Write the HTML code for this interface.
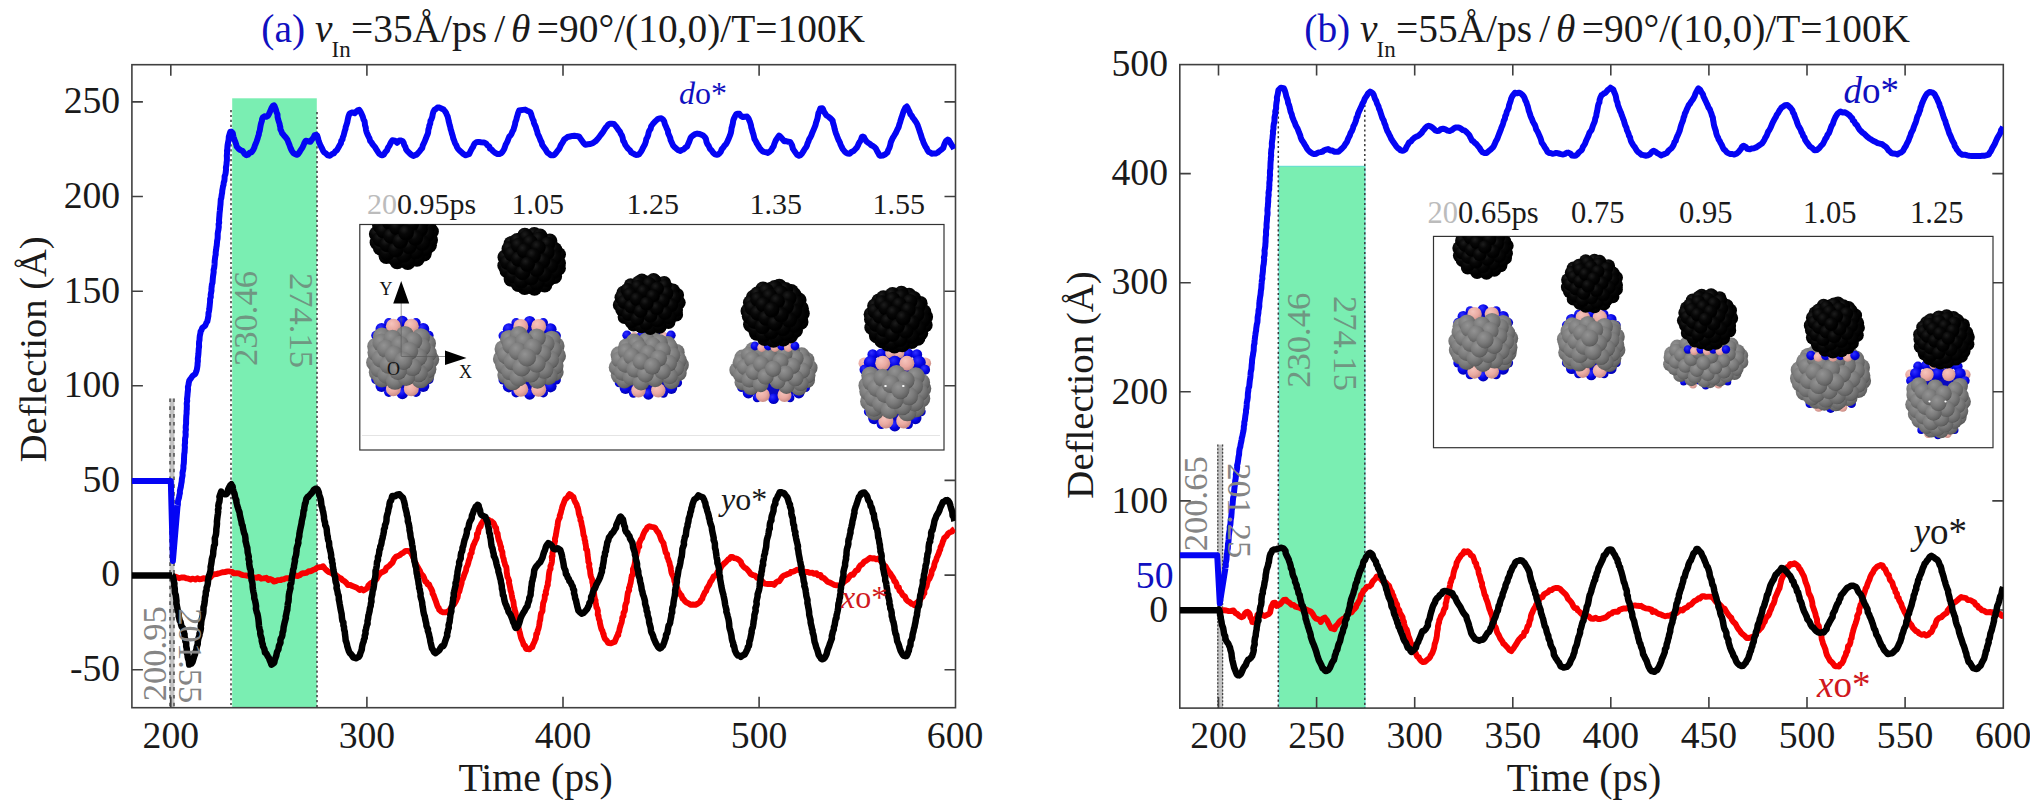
<!DOCTYPE html>
<html><head><meta charset="utf-8"><title>Deflection vs time</title>
<style>html,body{margin:0;padding:0;background:#fff}body{width:2030px;height:809px;overflow:hidden}</style></head>
<body>
<svg width="2030" height="809" viewBox="0 0 2030 809" style="display:block;font-family:'Liberation Serif','Times New Roman',serif">
<defs>
<radialGradient id="gk" cx="0.36" cy="0.3" r="0.6"><stop offset="0" stop-color="#1d1d1d"/><stop offset="0.5" stop-color="#070707"/><stop offset="1" stop-color="#000"/></radialGradient>
<radialGradient id="gg" cx="0.38" cy="0.32" r="0.75"><stop offset="0" stop-color="#939393"/><stop offset="0.5" stop-color="#7b7b7b"/><stop offset="0.85" stop-color="#626262"/><stop offset="1" stop-color="#484848"/></radialGradient>
<radialGradient id="gb" cx="0.38" cy="0.32" r="0.75"><stop offset="0" stop-color="#3030ff"/><stop offset="0.55" stop-color="#0404e6"/><stop offset="1" stop-color="#0000a8"/></radialGradient>
<radialGradient id="gp" cx="0.38" cy="0.32" r="0.75"><stop offset="0" stop-color="#f6c4bc"/><stop offset="0.55" stop-color="#eaaaa2"/><stop offset="1" stop-color="#c2867e"/></radialGradient>
<clipPath id="pL"><rect x="131.9" y="64.7" width="823.6" height="643"/></clipPath><clipPath id="pR"><rect x="1179.8" y="64.6" width="823.5" height="643.5"/></clipPath>
<clipPath id="cL"><rect x="360" y="224.5" width="584" height="225.5"/></clipPath>
<clipPath id="cR"><rect x="1433.5" y="236.5" width="559.5" height="211"/></clipPath>
</defs>
<rect width="2030" height="809" fill="#fff"/>
<rect x="232.2" y="98.3" width="84.6" height="609.4" fill="#7aeeb2"/>
<line x1="231.0" y1="110.0" x2="231.0" y2="707.7" stroke="#3a3a3a" stroke-width="1.5" stroke-dasharray="2.2 2.7"/>
<line x1="317.0" y1="112.0" x2="317.0" y2="707.7" stroke="#3a3a3a" stroke-width="1.5" stroke-dasharray="2.2 2.7"/>
<rect x="169.6" y="398.5" width="4.8" height="309.2" fill="#c2c2c2"/>
<line x1="170.0" y1="398.5" x2="170.0" y2="707.7" stroke="#444" stroke-width="1.4" stroke-dasharray="3.6 4.2"/>
<line x1="174.0" y1="398.5" x2="174.0" y2="707.7" stroke="#444" stroke-width="1.4" stroke-dasharray="3.6 4.2"/>
<text transform="translate(257.2 366.0) rotate(-90)" font-size="34.6" fill="#6f9782" text-anchor="start">230.46</text>
<text transform="translate(289.8 273.0) rotate(90)" font-size="34.6" fill="#6f9782" text-anchor="start">274.15</text>
<text transform="translate(166.4 701.3) rotate(-90)" font-size="34.6" fill="#858585" text-anchor="start">200.95</text>
<rect x="131.9" y="64.7" width="823.6" height="643.0" fill="none" stroke="#404040" stroke-width="1.6"/>
<path d="M170.8 64.7v11 M170.8 707.7v-11" stroke="#404040" stroke-width="1.6"/>
<text x="170.8" y="748.4" font-size="37.7" fill="#1a1a1a" text-anchor="middle">200</text>
<path d="M366.9 64.7v11 M366.9 707.7v-11" stroke="#404040" stroke-width="1.6"/>
<text x="366.9" y="748.4" font-size="37.7" fill="#1a1a1a" text-anchor="middle">300</text>
<path d="M563.0 64.7v11 M563.0 707.7v-11" stroke="#404040" stroke-width="1.6"/>
<text x="563.0" y="748.4" font-size="37.7" fill="#1a1a1a" text-anchor="middle">400</text>
<path d="M759.1 64.7v11 M759.1 707.7v-11" stroke="#404040" stroke-width="1.6"/>
<text x="759.1" y="748.4" font-size="37.7" fill="#1a1a1a" text-anchor="middle">500</text>
<text x="955.1" y="748.4" font-size="37.7" fill="#1a1a1a" text-anchor="middle">600</text>
<path d="M131.9 669.7h11 M955.5 669.7h-11" stroke="#404040" stroke-width="1.6"/>
<text x="120.2" y="681.0" font-size="37.7" fill="#1a1a1a" text-anchor="end">-50</text>
<path d="M131.9 575.1h11 M955.5 575.1h-11" stroke="#404040" stroke-width="1.6"/>
<text x="120.2" y="586.4" font-size="37.7" fill="#1a1a1a" text-anchor="end">0</text>
<path d="M131.9 480.4h11 M955.5 480.4h-11" stroke="#404040" stroke-width="1.6"/>
<text x="120.2" y="491.7" font-size="37.7" fill="#1a1a1a" text-anchor="end">50</text>
<path d="M131.9 385.8h11 M955.5 385.8h-11" stroke="#404040" stroke-width="1.6"/>
<text x="120.2" y="397.1" font-size="37.7" fill="#1a1a1a" text-anchor="end">100</text>
<path d="M131.9 291.2h11 M955.5 291.2h-11" stroke="#404040" stroke-width="1.6"/>
<text x="120.2" y="302.5" font-size="37.7" fill="#1a1a1a" text-anchor="end">150</text>
<path d="M131.9 196.5h11 M955.5 196.5h-11" stroke="#404040" stroke-width="1.6"/>
<text x="120.2" y="207.8" font-size="37.7" fill="#1a1a1a" text-anchor="end">200</text>
<path d="M131.9 101.9h11 M955.5 101.9h-11" stroke="#404040" stroke-width="1.6"/>
<text x="120.2" y="113.2" font-size="37.7" fill="#1a1a1a" text-anchor="end">250</text>
<text x="535.6" y="790.5" font-size="39.8" fill="#1a1a1a" text-anchor="middle">Time (ps)</text>
<text transform="translate(45.5 349.3) rotate(-90)" font-size="38.6" fill="#1a1a1a" text-anchor="middle">Deflection (Å)</text>
<text y="42" font-size="39.4" fill="#1a1a1a"><tspan x="261.3" fill="#1010c0">(a)</tspan><tspan x="315" font-style="italic">v</tspan><tspan x="331.5" font-size="23" dy="14.5">In</tspan><tspan x="351" dy="-14.5">=35Å/ps</tspan><tspan x="494.2">/</tspan><tspan x="511" font-style="italic">θ</tspan><tspan x="536.8">=90°/(10,0)/T=100K</tspan></text>
<rect x="359.8" y="224.5" width="584.2" height="225.5" fill="#fff" stroke="#333" stroke-width="1.2"/>
<line x1="362" y1="435.5" x2="940" y2="435.5" stroke="#e4e4e4" stroke-width="1"/>
<text y="213.8" font-size="30" fill="#1a1a1a"><tspan x="367" fill="#bcbcbc">20</tspan>0.95ps<tspan x="511.5">1.05</tspan><tspan x="626.5">1.25</tspan><tspan x="749.5">1.35</tspan><tspan x="872.5">1.55</tspan></text>
<ellipse cx="402.4" cy="357.5" rx="30.8" ry="36.0" fill="#0a0ac0"/><circle cx="375.9" cy="335.5" r="4.7" fill="url(#gb)"/><circle cx="428.9" cy="335.5" r="4.7" fill="url(#gb)"/><circle cx="381.6" cy="329.1" r="6.1" fill="url(#gb)"/><circle cx="423.2" cy="329.1" r="6.1" fill="url(#gb)"/><circle cx="388.8" cy="322.7" r="4.7" fill="url(#gb)"/><circle cx="416.0" cy="322.7" r="4.7" fill="url(#gb)"/><circle cx="402.4" cy="321.5" r="5.7" fill="url(#gb)"/><circle cx="393.4" cy="326.3" r="7.5" fill="url(#gp)"/><circle cx="411.3" cy="326.3" r="7.5" fill="url(#gp)"/><circle cx="375.9" cy="379.5" r="4.7" fill="url(#gb)"/><circle cx="428.9" cy="379.5" r="4.7" fill="url(#gb)"/><circle cx="381.6" cy="385.9" r="6.1" fill="url(#gb)"/><circle cx="423.2" cy="385.9" r="6.1" fill="url(#gb)"/><circle cx="388.8" cy="392.3" r="4.7" fill="url(#gb)"/><circle cx="416.0" cy="392.3" r="4.7" fill="url(#gb)"/><circle cx="402.4" cy="393.5" r="5.7" fill="url(#gb)"/><circle cx="393.4" cy="388.7" r="7.5" fill="url(#gp)"/><circle cx="411.3" cy="388.7" r="7.5" fill="url(#gp)"/><circle cx="377.9" cy="372.3" r="9.1" fill="url(#gg)"/><circle cx="425.3" cy="375.4" r="9.1" fill="url(#gg)"/><circle cx="376.3" cy="346.5" r="9.1" fill="url(#gg)"/><circle cx="430.1" cy="359.4" r="9.1" fill="url(#gg)"/><circle cx="375.2" cy="362.4" r="9.1" fill="url(#gg)"/><circle cx="381.9" cy="336.6" r="9.1" fill="url(#gg)"/><circle cx="426.9" cy="343.4" r="9.1" fill="url(#gg)"/><circle cx="382.1" cy="378.4" r="9.1" fill="url(#gg)"/><circle cx="427.3" cy="369.3" r="9.1" fill="url(#gg)"/><circle cx="376.5" cy="352.6" r="9.1" fill="url(#gg)"/><circle cx="420.5" cy="379.2" r="9.1" fill="url(#gg)"/><circle cx="427.7" cy="353.3" r="9.1" fill="url(#gg)"/><circle cx="420.9" cy="337.3" r="9.1" fill="url(#gg)"/><circle cx="379.2" cy="368.5" r="9.1" fill="url(#gg)"/><circle cx="381.5" cy="342.7" r="9.1" fill="url(#gg)"/><circle cx="424.7" cy="363.2" r="9.1" fill="url(#gg)"/><circle cx="386.5" cy="374.6" r="9.1" fill="url(#gg)"/><circle cx="395.0" cy="380.7" r="9.1" fill="url(#gg)"/><circle cx="381.0" cy="358.6" r="9.1" fill="url(#gg)"/><circle cx="421.6" cy="347.2" r="9.1" fill="url(#gg)"/><circle cx="418.7" cy="373.1" r="9.1" fill="url(#gg)"/><circle cx="404.8" cy="335.0" r="9.1" fill="url(#gg)"/><circle cx="392.6" cy="338.9" r="9.1" fill="url(#gg)"/><circle cx="386.0" cy="348.7" r="9.1" fill="url(#gg)"/><circle cx="413.2" cy="341.1" r="9.1" fill="url(#gg)"/><circle cx="406.1" cy="376.9" r="9.1" fill="url(#gg)"/><circle cx="418.2" cy="357.1" r="9.1" fill="url(#gg)"/><circle cx="388.7" cy="364.7" r="9.1" fill="url(#gg)"/><circle cx="412.4" cy="367.0" r="9.1" fill="url(#gg)"/><circle cx="397.9" cy="370.8" r="9.1" fill="url(#gg)"/><circle cx="399.9" cy="344.9" r="9.1" fill="url(#gg)"/><circle cx="393.9" cy="354.8" r="9.1" fill="url(#gg)"/><circle cx="409.2" cy="351.0" r="9.1" fill="url(#gg)"/><circle cx="403.4" cy="360.9" r="9.1" fill="url(#gg)"/>
<path d="M401.2 356V300 M401.2 356.5H450" stroke="#555" stroke-width="0.6" fill="none"/>
<path d="M401.2 281l8 22.5h-16z M466.5 358l-21.5 -7.5v14.5z" fill="#000"/>
<text font-size="18" fill="#111"><tspan x="379.5" y="294.5">Y</tspan><tspan x="459" y="378">X</tspan><tspan x="387" y="375">O</tspan></text>
<g clip-path="url(#cL)"><ellipse cx="403.8" cy="235.0" rx="32.1" ry="32.1" fill="#020202"/><circle cx="416.9" cy="258.9" r="7.8" fill="url(#gk)"/><circle cx="429.1" cy="245.2" r="7.8" fill="url(#gk)"/><circle cx="377.4" cy="242.5" r="7.8" fill="url(#gk)"/><circle cx="413.1" cy="209.1" r="7.8" fill="url(#gk)"/><circle cx="431.1" cy="231.4" r="7.8" fill="url(#gk)"/><circle cx="380.6" cy="220.3" r="7.8" fill="url(#gk)"/><circle cx="407.8" cy="262.2" r="7.8" fill="url(#gk)"/><circle cx="386.4" cy="256.3" r="7.8" fill="url(#gk)"/><circle cx="423.9" cy="253.7" r="7.8" fill="url(#gk)"/><circle cx="425.0" cy="217.6" r="7.8" fill="url(#gk)"/><circle cx="397.2" cy="261.5" r="7.8" fill="url(#gk)"/><circle cx="389.6" cy="211.7" r="7.8" fill="url(#gk)"/><circle cx="376.7" cy="234.0" r="7.8" fill="url(#gk)"/><circle cx="398.8" cy="208.5" r="7.8" fill="url(#gk)"/><circle cx="430.2" cy="239.9" r="7.8" fill="url(#gk)"/><circle cx="417.7" cy="212.4" r="7.8" fill="url(#gk)"/><circle cx="380.6" cy="247.8" r="7.8" fill="url(#gk)"/><circle cx="428.3" cy="226.2" r="7.8" fill="url(#gk)"/><circle cx="379.9" cy="225.5" r="7.8" fill="url(#gk)"/><circle cx="417.0" cy="256.9" r="7.8" fill="url(#gk)"/><circle cx="425.6" cy="248.4" r="7.8" fill="url(#gk)"/><circle cx="407.6" cy="260.2" r="7.8" fill="url(#gk)"/><circle cx="386.7" cy="217.0" r="7.8" fill="url(#gk)"/><circle cx="405.9" cy="210.4" r="7.8" fill="url(#gk)"/><circle cx="396.0" cy="258.3" r="7.8" fill="url(#gk)"/><circle cx="387.3" cy="253.0" r="7.8" fill="url(#gk)"/><circle cx="380.3" cy="239.3" r="7.8" fill="url(#gk)"/><circle cx="427.0" cy="234.7" r="7.8" fill="url(#gk)"/><circle cx="421.9" cy="220.9" r="7.8" fill="url(#gk)"/><circle cx="397.1" cy="213.7" r="7.8" fill="url(#gk)"/><circle cx="413.5" cy="215.7" r="7.8" fill="url(#gk)"/><circle cx="383.7" cy="230.7" r="7.8" fill="url(#gk)"/><circle cx="415.6" cy="251.7" r="7.8" fill="url(#gk)"/><circle cx="422.4" cy="243.2" r="7.8" fill="url(#gk)"/><circle cx="403.9" cy="255.0" r="7.8" fill="url(#gk)"/><circle cx="387.2" cy="244.5" r="7.8" fill="url(#gk)"/><circle cx="389.8" cy="222.2" r="7.8" fill="url(#gk)"/><circle cx="420.2" cy="229.4" r="7.8" fill="url(#gk)"/><circle cx="395.9" cy="249.7" r="7.8" fill="url(#gk)"/><circle cx="402.7" cy="219.0" r="7.8" fill="url(#gk)"/><circle cx="411.3" cy="224.2" r="7.8" fill="url(#gk)"/><circle cx="391.1" cy="236.0" r="7.8" fill="url(#gk)"/><circle cx="409.3" cy="246.5" r="7.8" fill="url(#gk)"/><circle cx="415.4" cy="237.9" r="7.8" fill="url(#gk)"/><circle cx="396.9" cy="227.5" r="7.8" fill="url(#gk)"/><circle cx="400.3" cy="241.2" r="7.8" fill="url(#gk)"/><circle cx="406.2" cy="232.7" r="7.8" fill="url(#gk)"/></g>
<ellipse cx="529.7" cy="357.8" rx="30.8" ry="36.2" fill="#0a0ac0"/><circle cx="503.2" cy="335.7" r="4.7" fill="url(#gb)"/><circle cx="556.2" cy="335.7" r="4.7" fill="url(#gb)"/><circle cx="508.9" cy="329.3" r="6.1" fill="url(#gb)"/><circle cx="550.5" cy="329.3" r="6.1" fill="url(#gb)"/><circle cx="516.1" cy="322.8" r="4.7" fill="url(#gb)"/><circle cx="543.3" cy="322.8" r="4.7" fill="url(#gb)"/><circle cx="529.7" cy="321.6" r="5.7" fill="url(#gb)"/><circle cx="520.8" cy="326.4" r="7.5" fill="url(#gp)"/><circle cx="538.7" cy="326.4" r="7.5" fill="url(#gp)"/><circle cx="503.2" cy="379.9" r="4.7" fill="url(#gb)"/><circle cx="556.2" cy="379.9" r="4.7" fill="url(#gb)"/><circle cx="508.9" cy="386.3" r="6.1" fill="url(#gb)"/><circle cx="550.5" cy="386.3" r="6.1" fill="url(#gb)"/><circle cx="516.1" cy="392.8" r="4.7" fill="url(#gb)"/><circle cx="543.3" cy="392.8" r="4.7" fill="url(#gb)"/><circle cx="529.7" cy="394.0" r="5.7" fill="url(#gb)"/><circle cx="520.8" cy="389.2" r="7.5" fill="url(#gp)"/><circle cx="538.7" cy="389.2" r="7.5" fill="url(#gp)"/><circle cx="555.5" cy="345.9" r="9.1" fill="url(#gg)"/><circle cx="502.0" cy="358.9" r="9.1" fill="url(#gg)"/><circle cx="554.6" cy="372.0" r="9.1" fill="url(#gg)"/><circle cx="506.4" cy="375.0" r="9.1" fill="url(#gg)"/><circle cx="556.9" cy="355.9" r="9.1" fill="url(#gg)"/><circle cx="503.6" cy="349.0" r="9.1" fill="url(#gg)"/><circle cx="551.6" cy="339.8" r="9.1" fill="url(#gg)"/><circle cx="512.7" cy="381.2" r="9.1" fill="url(#gg)"/><circle cx="504.2" cy="365.1" r="9.1" fill="url(#gg)"/><circle cx="509.1" cy="339.0" r="9.1" fill="url(#gg)"/><circle cx="554.5" cy="365.8" r="9.1" fill="url(#gg)"/><circle cx="548.5" cy="375.8" r="9.1" fill="url(#gg)"/><circle cx="552.8" cy="349.8" r="9.1" fill="url(#gg)"/><circle cx="506.2" cy="355.1" r="9.1" fill="url(#gg)"/><circle cx="510.3" cy="371.2" r="9.1" fill="url(#gg)"/><circle cx="518.9" cy="335.2" r="9.1" fill="url(#gg)"/><circle cx="511.4" cy="345.2" r="9.1" fill="url(#gg)"/><circle cx="537.4" cy="379.6" r="9.1" fill="url(#gg)"/><circle cx="550.0" cy="359.7" r="9.1" fill="url(#gg)"/><circle cx="518.6" cy="377.3" r="9.1" fill="url(#gg)"/><circle cx="545.5" cy="343.6" r="9.1" fill="url(#gg)"/><circle cx="536.8" cy="337.5" r="9.1" fill="url(#gg)"/><circle cx="544.3" cy="369.7" r="9.1" fill="url(#gg)"/><circle cx="512.7" cy="361.2" r="9.1" fill="url(#gg)"/><circle cx="524.3" cy="341.3" r="9.1" fill="url(#gg)"/><circle cx="530.6" cy="373.5" r="9.1" fill="url(#gg)"/><circle cx="517.9" cy="351.3" r="9.1" fill="url(#gg)"/><circle cx="542.2" cy="353.6" r="9.1" fill="url(#gg)"/><circle cx="521.5" cy="367.4" r="9.1" fill="url(#gg)"/><circle cx="532.8" cy="347.5" r="9.1" fill="url(#gg)"/><circle cx="536.6" cy="363.5" r="9.1" fill="url(#gg)"/><circle cx="527.0" cy="357.4" r="9.1" fill="url(#gg)"/>
<ellipse cx="531.9" cy="261.4" rx="31.9" ry="31.5" fill="#020202"/><circle cx="534.3" cy="234.7" r="7.6" fill="url(#gk)"/><circle cx="558.3" cy="268.2" r="7.6" fill="url(#gk)"/><circle cx="504.9" cy="265.6" r="7.6" fill="url(#gk)"/><circle cx="524.7" cy="287.5" r="7.6" fill="url(#gk)"/><circle cx="511.2" cy="243.7" r="7.6" fill="url(#gk)"/><circle cx="558.4" cy="254.6" r="7.6" fill="url(#gk)"/><circle cx="511.2" cy="279.1" r="7.6" fill="url(#gk)"/><circle cx="524.8" cy="235.3" r="7.6" fill="url(#gk)"/><circle cx="554.5" cy="276.5" r="7.6" fill="url(#gk)"/><circle cx="549.8" cy="241.1" r="7.6" fill="url(#gk)"/><circle cx="534.5" cy="288.1" r="7.6" fill="url(#gk)"/><circle cx="505.1" cy="257.2" r="7.6" fill="url(#gk)"/><circle cx="544.7" cy="284.9" r="7.6" fill="url(#gk)"/><circle cx="540.0" cy="236.0" r="7.6" fill="url(#gk)"/><circle cx="518.4" cy="284.3" r="7.6" fill="url(#gk)"/><circle cx="558.4" cy="263.0" r="7.6" fill="url(#gk)"/><circle cx="507.1" cy="270.7" r="7.6" fill="url(#gk)"/><circle cx="509.1" cy="248.8" r="7.6" fill="url(#gk)"/><circle cx="554.7" cy="249.5" r="7.6" fill="url(#gk)"/><circle cx="517.3" cy="240.5" r="7.6" fill="url(#gk)"/><circle cx="529.2" cy="286.2" r="7.6" fill="url(#gk)"/><circle cx="526.7" cy="237.3" r="7.6" fill="url(#gk)"/><circle cx="554.7" cy="271.4" r="7.6" fill="url(#gk)"/><circle cx="547.5" cy="279.7" r="7.6" fill="url(#gk)"/><circle cx="507.7" cy="262.4" r="7.6" fill="url(#gk)"/><circle cx="513.1" cy="275.9" r="7.6" fill="url(#gk)"/><circle cx="539.2" cy="239.2" r="7.6" fill="url(#gk)"/><circle cx="547.7" cy="244.3" r="7.6" fill="url(#gk)"/><circle cx="554.3" cy="257.9" r="7.6" fill="url(#gk)"/><circle cx="521.3" cy="281.0" r="7.6" fill="url(#gk)"/><circle cx="537.1" cy="283.0" r="7.6" fill="url(#gk)"/><circle cx="511.8" cy="254.0" r="7.6" fill="url(#gk)"/><circle cx="518.5" cy="245.6" r="7.6" fill="url(#gk)"/><circle cx="530.3" cy="242.4" r="7.6" fill="url(#gk)"/><circle cx="550.4" cy="266.2" r="7.6" fill="url(#gk)"/><circle cx="514.1" cy="267.5" r="7.6" fill="url(#gk)"/><circle cx="544.2" cy="274.6" r="7.6" fill="url(#gk)"/><circle cx="547.0" cy="252.7" r="7.6" fill="url(#gk)"/><circle cx="531.3" cy="277.8" r="7.6" fill="url(#gk)"/><circle cx="538.2" cy="247.6" r="7.6" fill="url(#gk)"/><circle cx="522.7" cy="272.7" r="7.6" fill="url(#gk)"/><circle cx="518.5" cy="259.1" r="7.6" fill="url(#gk)"/><circle cx="524.5" cy="250.8" r="7.6" fill="url(#gk)"/><circle cx="542.7" cy="261.1" r="7.6" fill="url(#gk)"/><circle cx="536.8" cy="269.4" r="7.6" fill="url(#gk)"/><circle cx="533.3" cy="255.9" r="7.6" fill="url(#gk)"/><circle cx="527.5" cy="264.3" r="7.6" fill="url(#gk)"/>
<circle cx="627.0" cy="335.3" r="4.7" fill="url(#gb)"/><circle cx="634.3" cy="336.8" r="4.7" fill="url(#gp)"/><circle cx="641.7" cy="335.3" r="4.7" fill="url(#gb)"/><circle cx="649.0" cy="336.8" r="4.7" fill="url(#gp)"/><circle cx="656.3" cy="335.3" r="4.7" fill="url(#gb)"/><circle cx="663.7" cy="336.8" r="4.7" fill="url(#gp)"/><circle cx="671.0" cy="335.3" r="4.7" fill="url(#gb)"/>
<ellipse cx="648.4" cy="364.7" rx="34.0" ry="29.5" fill="#0a0ac0"/><circle cx="619.2" cy="382.7" r="4.5" fill="url(#gb)"/><circle cx="677.6" cy="382.7" r="4.5" fill="url(#gb)"/><circle cx="625.5" cy="388.0" r="5.9" fill="url(#gb)"/><circle cx="671.3" cy="388.0" r="5.9" fill="url(#gb)"/><circle cx="633.4" cy="393.2" r="4.5" fill="url(#gb)"/><circle cx="663.4" cy="393.2" r="4.5" fill="url(#gb)"/><circle cx="648.4" cy="394.2" r="5.5" fill="url(#gb)"/><circle cx="638.5" cy="390.3" r="7.2" fill="url(#gp)"/><circle cx="658.3" cy="390.3" r="7.2" fill="url(#gp)"/><circle cx="667.7" cy="344.4" r="8.4" fill="url(#gg)"/><circle cx="680.5" cy="365.0" r="8.4" fill="url(#gg)"/><circle cx="634.0" cy="342.0" r="8.4" fill="url(#gg)"/><circle cx="619.2" cy="375.3" r="8.4" fill="url(#gg)"/><circle cx="653.2" cy="339.6" r="8.4" fill="url(#gg)"/><circle cx="618.9" cy="354.7" r="8.4" fill="url(#gg)"/><circle cx="676.3" cy="352.3" r="8.4" fill="url(#gg)"/><circle cx="678.3" cy="372.9" r="8.4" fill="url(#gg)"/><circle cx="626.5" cy="346.8" r="8.4" fill="url(#gg)"/><circle cx="617.1" cy="367.4" r="8.4" fill="url(#gg)"/><circle cx="624.3" cy="380.1" r="8.4" fill="url(#gg)"/><circle cx="671.4" cy="380.8" r="8.4" fill="url(#gg)"/><circle cx="678.4" cy="360.2" r="8.4" fill="url(#gg)"/><circle cx="669.6" cy="347.4" r="8.4" fill="url(#gg)"/><circle cx="646.8" cy="340.8" r="8.4" fill="url(#gg)"/><circle cx="659.5" cy="342.6" r="8.4" fill="url(#gg)"/><circle cx="619.7" cy="359.6" r="8.4" fill="url(#gg)"/><circle cx="636.4" cy="343.8" r="8.4" fill="url(#gg)"/><circle cx="675.8" cy="368.0" r="8.4" fill="url(#gg)"/><circle cx="622.4" cy="372.3" r="8.4" fill="url(#gg)"/><circle cx="626.3" cy="351.7" r="8.4" fill="url(#gg)"/><circle cx="671.9" cy="355.3" r="8.4" fill="url(#gg)"/><circle cx="669.5" cy="375.9" r="8.4" fill="url(#gg)"/><circle cx="652.7" cy="345.6" r="8.4" fill="url(#gg)"/><circle cx="631.1" cy="377.1" r="8.4" fill="url(#gg)"/><circle cx="641.1" cy="382.0" r="8.4" fill="url(#gg)"/><circle cx="625.4" cy="364.4" r="8.4" fill="url(#gg)"/><circle cx="662.4" cy="350.5" r="8.4" fill="url(#gg)"/><circle cx="639.5" cy="348.6" r="8.4" fill="url(#gg)"/><circle cx="668.7" cy="363.2" r="8.4" fill="url(#gg)"/><circle cx="631.7" cy="356.5" r="8.4" fill="url(#gg)"/><circle cx="655.1" cy="378.9" r="8.4" fill="url(#gg)"/><circle cx="662.5" cy="371.1" r="8.4" fill="url(#gg)"/><circle cx="634.7" cy="369.2" r="8.4" fill="url(#gg)"/><circle cx="648.0" cy="353.5" r="8.4" fill="url(#gg)"/><circle cx="658.7" cy="358.3" r="8.4" fill="url(#gg)"/><circle cx="645.5" cy="374.1" r="8.4" fill="url(#gg)"/><circle cx="641.1" cy="361.4" r="8.4" fill="url(#gg)"/><circle cx="652.2" cy="366.2" r="8.4" fill="url(#gg)"/>
<ellipse cx="649.5" cy="304.0" rx="33.5" ry="28.4" fill="#020202"/><circle cx="623.4" cy="292.7" r="6.9" fill="url(#gk)"/><circle cx="641.9" cy="280.5" r="6.9" fill="url(#gk)"/><circle cx="653.6" cy="280.0" r="6.9" fill="url(#gk)"/><circle cx="633.6" cy="324.6" r="6.9" fill="url(#gk)"/><circle cx="677.2" cy="295.0" r="6.9" fill="url(#gk)"/><circle cx="659.6" cy="326.9" r="6.9" fill="url(#gk)"/><circle cx="619.7" cy="304.9" r="6.9" fill="url(#gk)"/><circle cx="676.2" cy="314.7" r="6.9" fill="url(#gk)"/><circle cx="630.7" cy="285.2" r="6.9" fill="url(#gk)"/><circle cx="664.2" cy="282.9" r="6.9" fill="url(#gk)"/><circle cx="624.5" cy="317.0" r="6.9" fill="url(#gk)"/><circle cx="650.3" cy="328.0" r="6.9" fill="url(#gk)"/><circle cx="668.5" cy="322.2" r="6.9" fill="url(#gk)"/><circle cx="678.8" cy="302.6" r="6.9" fill="url(#gk)"/><circle cx="621.4" cy="297.3" r="6.9" fill="url(#gk)"/><circle cx="673.0" cy="290.4" r="6.9" fill="url(#gk)"/><circle cx="638.7" cy="282.3" r="6.9" fill="url(#gk)"/><circle cx="654.8" cy="281.1" r="6.9" fill="url(#gk)"/><circle cx="641.4" cy="326.3" r="6.9" fill="url(#gk)"/><circle cx="631.3" cy="321.7" r="6.9" fill="url(#gk)"/><circle cx="622.1" cy="309.5" r="6.9" fill="url(#gk)"/><circle cx="627.4" cy="289.8" r="6.9" fill="url(#gk)"/><circle cx="659.4" cy="325.1" r="6.9" fill="url(#gk)"/><circle cx="676.1" cy="310.1" r="6.9" fill="url(#gk)"/><circle cx="665.0" cy="285.8" r="6.9" fill="url(#gk)"/><circle cx="669.7" cy="317.6" r="6.9" fill="url(#gk)"/><circle cx="674.4" cy="297.9" r="6.9" fill="url(#gk)"/><circle cx="624.3" cy="302.0" r="6.9" fill="url(#gk)"/><circle cx="649.3" cy="284.0" r="6.9" fill="url(#gk)"/><circle cx="628.6" cy="314.1" r="6.9" fill="url(#gk)"/><circle cx="646.3" cy="323.4" r="6.9" fill="url(#gk)"/><circle cx="637.9" cy="286.9" r="6.9" fill="url(#gk)"/><circle cx="629.9" cy="294.4" r="6.9" fill="url(#gk)"/><circle cx="657.8" cy="320.5" r="6.9" fill="url(#gk)"/><circle cx="671.3" cy="305.4" r="6.9" fill="url(#gk)"/><circle cx="637.5" cy="318.8" r="6.9" fill="url(#gk)"/><circle cx="666.5" cy="293.3" r="6.9" fill="url(#gk)"/><circle cx="657.1" cy="288.7" r="6.9" fill="url(#gk)"/><circle cx="665.2" cy="313.0" r="6.9" fill="url(#gk)"/><circle cx="631.2" cy="306.6" r="6.9" fill="url(#gk)"/><circle cx="643.6" cy="291.5" r="6.9" fill="url(#gk)"/><circle cx="650.5" cy="315.9" r="6.9" fill="url(#gk)"/><circle cx="636.9" cy="299.1" r="6.9" fill="url(#gk)"/><circle cx="662.9" cy="300.8" r="6.9" fill="url(#gk)"/><circle cx="640.7" cy="311.2" r="6.9" fill="url(#gk)"/><circle cx="652.9" cy="296.2" r="6.9" fill="url(#gk)"/><circle cx="656.9" cy="308.3" r="6.9" fill="url(#gk)"/><circle cx="646.6" cy="303.7" r="6.9" fill="url(#gk)"/>
<ellipse cx="773.6" cy="370.3" rx="37.3" ry="28.5" fill="#0a0ac0"/><circle cx="741.5" cy="387.7" r="4.3" fill="url(#gb)"/><circle cx="805.7" cy="387.7" r="4.3" fill="url(#gb)"/><circle cx="748.4" cy="392.8" r="5.7" fill="url(#gb)"/><circle cx="798.8" cy="392.8" r="5.7" fill="url(#gb)"/><circle cx="757.1" cy="397.9" r="4.3" fill="url(#gb)"/><circle cx="790.1" cy="397.9" r="4.3" fill="url(#gb)"/><circle cx="773.6" cy="398.8" r="5.3" fill="url(#gb)"/><circle cx="762.8" cy="395.0" r="7.0" fill="url(#gp)"/><circle cx="784.5" cy="395.0" r="7.0" fill="url(#gp)"/><circle cx="806.4" cy="360.1" r="8.1" fill="url(#gg)"/><circle cx="742.5" cy="357.7" r="8.1" fill="url(#gg)"/><circle cx="807.0" cy="380.0" r="8.1" fill="url(#gg)"/><circle cx="788.1" cy="347.8" r="8.1" fill="url(#gg)"/><circle cx="737.4" cy="370.0" r="8.1" fill="url(#gg)"/><circle cx="753.2" cy="350.1" r="8.1" fill="url(#gg)"/><circle cx="809.5" cy="367.7" r="8.1" fill="url(#gg)"/><circle cx="776.9" cy="346.0" r="8.1" fill="url(#gg)"/><circle cx="799.0" cy="387.6" r="8.1" fill="url(#gg)"/><circle cx="742.6" cy="382.3" r="8.1" fill="url(#gg)"/><circle cx="801.6" cy="355.4" r="8.1" fill="url(#gg)"/><circle cx="764.4" cy="347.2" r="8.1" fill="url(#gg)"/><circle cx="740.7" cy="362.4" r="8.1" fill="url(#gg)"/><circle cx="807.4" cy="375.3" r="8.1" fill="url(#gg)"/><circle cx="791.8" cy="350.7" r="8.1" fill="url(#gg)"/><circle cx="749.0" cy="354.8" r="8.1" fill="url(#gg)"/><circle cx="751.0" cy="387.0" r="8.1" fill="url(#gg)"/><circle cx="741.1" cy="374.7" r="8.1" fill="url(#gg)"/><circle cx="804.8" cy="363.0" r="8.1" fill="url(#gg)"/><circle cx="800.4" cy="382.9" r="8.1" fill="url(#gg)"/><circle cx="774.8" cy="348.9" r="8.1" fill="url(#gg)"/><circle cx="762.1" cy="351.9" r="8.1" fill="url(#gg)"/><circle cx="744.8" cy="367.1" r="8.1" fill="url(#gg)"/><circle cx="802.1" cy="370.6" r="8.1" fill="url(#gg)"/><circle cx="795.6" cy="358.3" r="8.1" fill="url(#gg)"/><circle cx="749.5" cy="379.4" r="8.1" fill="url(#gg)"/><circle cx="784.5" cy="353.6" r="8.1" fill="url(#gg)"/><circle cx="752.3" cy="359.5" r="8.1" fill="url(#gg)"/><circle cx="786.4" cy="385.8" r="8.1" fill="url(#gg)"/><circle cx="795.4" cy="378.2" r="8.1" fill="url(#gg)"/><circle cx="760.6" cy="384.1" r="8.1" fill="url(#gg)"/><circle cx="769.2" cy="356.5" r="8.1" fill="url(#gg)"/><circle cx="753.7" cy="371.8" r="8.1" fill="url(#gg)"/><circle cx="792.4" cy="365.9" r="8.1" fill="url(#gg)"/><circle cx="777.5" cy="381.1" r="8.1" fill="url(#gg)"/><circle cx="761.1" cy="364.2" r="8.1" fill="url(#gg)"/><circle cx="780.4" cy="361.2" r="8.1" fill="url(#gg)"/><circle cx="785.5" cy="373.5" r="8.1" fill="url(#gg)"/><circle cx="765.6" cy="376.4" r="8.1" fill="url(#gg)"/><circle cx="773.1" cy="368.8" r="8.1" fill="url(#gg)"/>
<circle cx="755.0" cy="346.0" r="4.4" fill="url(#gb)"/><circle cx="761.7" cy="347.5" r="4.4" fill="url(#gp)"/><circle cx="768.3" cy="346.0" r="4.4" fill="url(#gb)"/><circle cx="775.0" cy="347.5" r="4.4" fill="url(#gp)"/><circle cx="781.7" cy="346.0" r="4.4" fill="url(#gb)"/><circle cx="788.3" cy="347.5" r="4.4" fill="url(#gp)"/><circle cx="795.0" cy="346.0" r="4.4" fill="url(#gb)"/>
<ellipse cx="775.2" cy="313.3" rx="31.6" ry="31.6" fill="#020202"/><circle cx="753.5" cy="297.5" r="7.7" fill="url(#gk)"/><circle cx="802.1" cy="313.6" r="7.7" fill="url(#gk)"/><circle cx="791.2" cy="291.7" r="7.7" fill="url(#gk)"/><circle cx="756.7" cy="333.0" r="7.7" fill="url(#gk)"/><circle cx="748.2" cy="311.0" r="7.7" fill="url(#gk)"/><circle cx="790.6" cy="335.6" r="7.7" fill="url(#gk)"/><circle cx="798.9" cy="300.1" r="7.7" fill="url(#gk)"/><circle cx="763.0" cy="289.1" r="7.7" fill="url(#gk)"/><circle cx="779.3" cy="286.5" r="7.7" fill="url(#gk)"/><circle cx="800.8" cy="322.0" r="7.7" fill="url(#gk)"/><circle cx="750.7" cy="324.6" r="7.7" fill="url(#gk)"/><circle cx="764.6" cy="338.2" r="7.7" fill="url(#gk)"/><circle cx="773.5" cy="340.1" r="7.7" fill="url(#gk)"/><circle cx="750.6" cy="302.6" r="7.7" fill="url(#gk)"/><circle cx="783.2" cy="338.8" r="7.7" fill="url(#gk)"/><circle cx="801.2" cy="308.5" r="7.7" fill="url(#gk)"/><circle cx="795.3" cy="330.4" r="7.7" fill="url(#gk)"/><circle cx="793.9" cy="294.9" r="7.7" fill="url(#gk)"/><circle cx="757.4" cy="294.3" r="7.7" fill="url(#gk)"/><circle cx="749.5" cy="316.2" r="7.7" fill="url(#gk)"/><circle cx="785.4" cy="289.7" r="7.7" fill="url(#gk)"/><circle cx="755.7" cy="329.8" r="7.7" fill="url(#gk)"/><circle cx="774.8" cy="287.8" r="7.7" fill="url(#gk)"/><circle cx="799.6" cy="316.9" r="7.7" fill="url(#gk)"/><circle cx="763.7" cy="334.9" r="7.7" fill="url(#gk)"/><circle cx="766.3" cy="291.0" r="7.7" fill="url(#gk)"/><circle cx="752.2" cy="307.8" r="7.7" fill="url(#gk)"/><circle cx="777.0" cy="336.9" r="7.7" fill="url(#gk)"/><circle cx="796.4" cy="303.3" r="7.7" fill="url(#gk)"/><circle cx="786.8" cy="333.6" r="7.7" fill="url(#gk)"/><circle cx="794.6" cy="325.2" r="7.7" fill="url(#gk)"/><circle cx="758.0" cy="299.4" r="7.7" fill="url(#gk)"/><circle cx="754.7" cy="321.4" r="7.7" fill="url(#gk)"/><circle cx="780.5" cy="293.0" r="7.7" fill="url(#gk)"/><circle cx="788.9" cy="298.1" r="7.7" fill="url(#gk)"/><circle cx="794.4" cy="311.7" r="7.7" fill="url(#gk)"/><circle cx="771.0" cy="331.7" r="7.7" fill="url(#gk)"/><circle cx="762.6" cy="326.5" r="7.7" fill="url(#gk)"/><circle cx="769.7" cy="296.2" r="7.7" fill="url(#gk)"/><circle cx="757.8" cy="313.0" r="7.7" fill="url(#gk)"/><circle cx="783.0" cy="328.5" r="7.7" fill="url(#gk)"/><circle cx="789.4" cy="320.1" r="7.7" fill="url(#gk)"/><circle cx="763.3" cy="304.6" r="7.7" fill="url(#gk)"/><circle cx="786.3" cy="306.5" r="7.7" fill="url(#gk)"/><circle cx="777.3" cy="301.4" r="7.7" fill="url(#gk)"/><circle cx="766.1" cy="318.1" r="7.7" fill="url(#gk)"/><circle cx="775.3" cy="323.3" r="7.7" fill="url(#gk)"/><circle cx="781.1" cy="314.9" r="7.7" fill="url(#gk)"/><circle cx="771.7" cy="309.7" r="7.7" fill="url(#gk)"/>
<ellipse cx="894.8" cy="389.7" rx="30.6" ry="36.0" fill="#0a0ac0"/><circle cx="872.7" cy="354.5" r="5.3" fill="url(#gb)"/><circle cx="881.3" cy="353.7" r="5.3" fill="url(#gb)"/><circle cx="908.3" cy="353.7" r="5.3" fill="url(#gb)"/><circle cx="916.9" cy="354.5" r="5.3" fill="url(#gb)"/><circle cx="890.5" cy="352.9" r="5.3" fill="url(#gp)"/><circle cx="899.1" cy="352.9" r="5.3" fill="url(#gp)"/><circle cx="864.2" cy="363.3" r="5.7" fill="url(#gp)"/><circle cx="925.4" cy="363.3" r="5.7" fill="url(#gp)"/><circle cx="870.6" cy="362.5" r="6.8" fill="url(#gb)"/><circle cx="919.0" cy="362.5" r="6.8" fill="url(#gb)"/><circle cx="894.8" cy="362.5" r="6.8" fill="url(#gb)"/><circle cx="882.7" cy="363.3" r="7.5" fill="url(#gp)"/><circle cx="906.9" cy="363.3" r="7.5" fill="url(#gp)"/><circle cx="864.5" cy="369.7" r="5.0" fill="url(#gb)"/><circle cx="925.1" cy="369.7" r="5.0" fill="url(#gb)"/><circle cx="868.5" cy="411.7" r="4.6" fill="url(#gb)"/><circle cx="921.1" cy="411.7" r="4.6" fill="url(#gb)"/><circle cx="874.2" cy="418.1" r="6.1" fill="url(#gb)"/><circle cx="915.4" cy="418.1" r="6.1" fill="url(#gb)"/><circle cx="881.3" cy="424.5" r="4.6" fill="url(#gb)"/><circle cx="908.3" cy="424.5" r="4.6" fill="url(#gb)"/><circle cx="894.8" cy="425.7" r="5.7" fill="url(#gb)"/><circle cx="885.9" cy="420.9" r="7.5" fill="url(#gp)"/><circle cx="903.7" cy="420.9" r="7.5" fill="url(#gp)"/><circle cx="922.2" cy="388.6" r="9.1" fill="url(#gg)"/><circle cx="874.7" cy="411.4" r="9.1" fill="url(#gg)"/><circle cx="867.5" cy="385.5" r="9.1" fill="url(#gg)"/><circle cx="869.2" cy="401.5" r="9.1" fill="url(#gg)"/><circle cx="921.2" cy="398.5" r="9.1" fill="url(#gg)"/><circle cx="870.3" cy="375.6" r="9.1" fill="url(#gg)"/><circle cx="921.0" cy="382.5" r="9.1" fill="url(#gg)"/><circle cx="916.1" cy="408.4" r="9.1" fill="url(#gg)"/><circle cx="868.4" cy="391.6" r="9.1" fill="url(#gg)"/><circle cx="873.9" cy="407.6" r="9.1" fill="url(#gg)"/><circle cx="919.6" cy="392.4" r="9.1" fill="url(#gg)"/><circle cx="871.4" cy="381.7" r="9.1" fill="url(#gg)"/><circle cx="915.7" cy="376.4" r="9.1" fill="url(#gg)"/><circle cx="907.3" cy="412.2" r="9.1" fill="url(#gg)"/><circle cx="914.7" cy="402.3" r="9.1" fill="url(#gg)"/><circle cx="873.4" cy="397.7" r="9.1" fill="url(#gg)"/><circle cx="913.9" cy="386.3" r="9.1" fill="url(#gg)"/><circle cx="881.2" cy="403.8" r="9.1" fill="url(#gg)"/><circle cx="876.8" cy="387.8" r="9.1" fill="url(#gg)"/><circle cx="889.9" cy="409.9" r="9.1" fill="url(#gg)"/><circle cx="902.6" cy="406.1" r="9.1" fill="url(#gg)"/><circle cx="882.6" cy="377.9" r="9.1" fill="url(#gg)"/><circle cx="909.0" cy="396.2" r="9.1" fill="url(#gg)"/><circle cx="896.5" cy="374.1" r="9.1" fill="url(#gg)"/><circle cx="905.5" cy="380.2" r="9.1" fill="url(#gg)"/><circle cx="885.1" cy="393.9" r="9.1" fill="url(#gg)"/><circle cx="894.5" cy="400.0" r="9.1" fill="url(#gg)"/><circle cx="890.8" cy="384.0" r="9.1" fill="url(#gg)"/><circle cx="900.4" cy="390.1" r="9.1" fill="url(#gg)"/>
<ellipse cx="885.5" cy="386" rx="1.3" ry="1" fill="#fff"/><ellipse cx="903.3" cy="386" rx="1.3" ry="1" fill="#fff"/>
<ellipse cx="898.2" cy="319.6" rx="32.1" ry="31.1" fill="#020202"/><circle cx="878.9" cy="300.9" r="7.5" fill="url(#gk)"/><circle cx="887.9" cy="344.0" r="7.5" fill="url(#gk)"/><circle cx="876.4" cy="335.8" r="7.5" fill="url(#gk)"/><circle cx="925.6" cy="316.7" r="7.5" fill="url(#gk)"/><circle cx="871.1" cy="314.2" r="7.5" fill="url(#gk)"/><circle cx="909.1" cy="295.2" r="7.5" fill="url(#gk)"/><circle cx="917.9" cy="338.3" r="7.5" fill="url(#gk)"/><circle cx="920.2" cy="303.4" r="7.5" fill="url(#gk)"/><circle cx="871.8" cy="327.5" r="7.5" fill="url(#gk)"/><circle cx="894.5" cy="345.9" r="7.5" fill="url(#gk)"/><circle cx="901.4" cy="293.3" r="7.5" fill="url(#gk)"/><circle cx="925.2" cy="325.0" r="7.5" fill="url(#gk)"/><circle cx="881.8" cy="340.8" r="7.5" fill="url(#gk)"/><circle cx="874.6" cy="306.0" r="7.5" fill="url(#gk)"/><circle cx="883.4" cy="297.7" r="7.5" fill="url(#gk)"/><circle cx="913.7" cy="298.4" r="7.5" fill="url(#gk)"/><circle cx="923.8" cy="311.7" r="7.5" fill="url(#gk)"/><circle cx="871.5" cy="319.3" r="7.5" fill="url(#gk)"/><circle cx="892.5" cy="294.5" r="7.5" fill="url(#gk)"/><circle cx="920.7" cy="333.2" r="7.5" fill="url(#gk)"/><circle cx="911.7" cy="341.5" r="7.5" fill="url(#gk)"/><circle cx="902.3" cy="344.7" r="7.5" fill="url(#gk)"/><circle cx="876.0" cy="332.6" r="7.5" fill="url(#gk)"/><circle cx="892.1" cy="342.7" r="7.5" fill="url(#gk)"/><circle cx="875.0" cy="311.0" r="7.5" fill="url(#gk)"/><circle cx="923.0" cy="319.9" r="7.5" fill="url(#gk)"/><circle cx="901.8" cy="296.5" r="7.5" fill="url(#gk)"/><circle cx="918.2" cy="306.6" r="7.5" fill="url(#gk)"/><circle cx="881.8" cy="302.8" r="7.5" fill="url(#gk)"/><circle cx="883.4" cy="337.7" r="7.5" fill="url(#gk)"/><circle cx="876.1" cy="324.4" r="7.5" fill="url(#gk)"/><circle cx="910.0" cy="301.5" r="7.5" fill="url(#gk)"/><circle cx="918.6" cy="328.2" r="7.5" fill="url(#gk)"/><circle cx="911.6" cy="336.4" r="7.5" fill="url(#gk)"/><circle cx="892.8" cy="299.6" r="7.5" fill="url(#gk)"/><circle cx="900.1" cy="339.6" r="7.5" fill="url(#gk)"/><circle cx="916.9" cy="314.8" r="7.5" fill="url(#gk)"/><circle cx="879.9" cy="316.1" r="7.5" fill="url(#gk)"/><circle cx="883.7" cy="329.4" r="7.5" fill="url(#gk)"/><circle cx="886.0" cy="307.9" r="7.5" fill="url(#gk)"/><circle cx="892.6" cy="334.5" r="7.5" fill="url(#gk)"/><circle cx="899.4" cy="304.7" r="7.5" fill="url(#gk)"/><circle cx="912.3" cy="323.1" r="7.5" fill="url(#gk)"/><circle cx="906.0" cy="331.3" r="7.5" fill="url(#gk)"/><circle cx="908.3" cy="309.8" r="7.5" fill="url(#gk)"/><circle cx="887.9" cy="321.2" r="7.5" fill="url(#gk)"/><circle cx="893.8" cy="312.9" r="7.5" fill="url(#gk)"/><circle cx="897.4" cy="326.3" r="7.5" fill="url(#gk)"/><circle cx="903.3" cy="318.0" r="7.5" fill="url(#gk)"/>
<g clip-path="url(#pL)">
<path d="M173.5 576.0L175.0 577.0L176.1 576.8L179.1 578.2L181.3 577.5L184.6 577.5L185.9 578.3L187.9 578.4L190.7 579.5L193.0 578.6L195.4 579.6L197.5 578.2L199.2 579.2L201.4 579.0L203.4 578.2L205.9 578.8L208.4 578.1L210.5 577.2L211.9 575.2L214.3 574.2L216.3 574.1L218.6 573.4L220.1 573.0L222.4 572.3L225.0 572.0L227.7 571.4L229.1 571.4L232.0 571.8L233.9 573.4L236.6 573.1L238.8 573.4L241.3 574.6L243.0 575.1L245.5 575.4L248.0 575.9L249.7 575.7L252.4 576.9L254.3 577.3L257.1 577.8L258.8 576.9L261.2 578.7L263.4 578.4L266.3 577.8L268.3 579.9L269.9 578.9L272.4 580.0L273.8 581.5L275.8 581.1L277.7 580.1L280.7 580.1L281.9 579.4L284.1 579.2L286.3 578.1L288.2 578.2L290.4 578.0L292.8 576.8L294.9 575.2L297.3 576.1L299.6 575.3L301.7 573.7L303.5 573.2L306.2 572.9L309.1 571.1L310.9 571.2L312.9 570.1L315.0 569.3L317.2 567.6L319.7 567.2L321.7 566.9L323.1 566.2L324.8 568.5L326.6 570.3L328.3 571.8L330.0 572.3L331.9 573.4L334.0 573.8L335.2 574.5L337.3 576.1L339.2 577.5L340.9 578.4L342.8 580.4L344.5 581.2L346.2 582.7L347.9 585.1L350.2 584.9L352.4 586.1L355.0 587.1L356.8 587.8L359.6 590.0L361.3 588.8L363.5 590.4L366.0 589.0L367.7 587.7L368.3 585.7L370.6 583.4L372.0 582.6L373.2 582.1L375.0 580.6L376.8 578.8L378.0 576.3L379.8 573.8L381.3 572.5L383.5 571.5L385.2 570.7L386.3 567.7L388.4 566.4L389.6 565.5L390.7 564.2L392.6 562.5L393.6 559.9L394.9 557.9L396.2 556.5L397.7 556.1L399.7 555.1L401.4 553.7L403.2 552.8L405.6 550.9L408.0 550.9L409.6 551.7L410.5 551.9L411.7 554.3L412.4 555.4L413.7 558.6L414.5 561.0L415.3 562.6L416.5 564.9L417.9 567.4L418.4 568.5L419.8 570.6L420.7 573.1L422.5 575.3L423.1 575.9L424.1 577.8L425.3 581.5L426.7 582.2L427.7 584.5L429.2 584.5L429.8 586.5L431.2 588.8L432.4 591.5L432.6 593.6L433.7 595.3L434.5 597.8L435.3 599.8L436.5 603.3L437.0 604.9L437.8 607.0L438.8 607.9L439.1 609.8L441.4 611.6L443.1 612.4L445.5 612.3L447.4 611.9L449.4 610.4L450.5 608.7L451.4 607.3L452.7 605.5L454.4 603.8L456.0 601.1L456.7 599.2L457.5 597.7L457.9 595.4L458.1 593.1L459.4 591.4L459.9 589.2L460.2 587.9L461.1 584.9L461.6 583.1L461.9 580.0L462.9 578.8L464.1 575.2L464.6 573.7L465.7 571.2L466.1 570.2L466.3 567.8L467.5 565.5L468.4 562.7L468.6 561.3L469.4 559.0L470.2 557.0L470.3 554.6L471.7 552.8L471.8 550.0L472.5 548.6L473.2 545.5L474.3 543.6L474.8 542.0L476.1 539.5L476.9 537.4L476.9 533.9L478.1 533.1L478.4 530.6L479.1 528.4L479.9 526.4L480.7 526.5L481.1 524.1L483.4 520.8L484.7 520.6L486.8 520.0L488.4 519.6L489.6 521.2L491.6 521.3L493.6 523.2L495.2 527.0L496.1 527.9L496.4 530.3L496.5 532.4L497.6 533.3L497.9 536.1L498.4 538.7L498.7 539.8L499.8 542.6L500.2 544.8L501.2 547.3L501.0 548.9L502.4 551.9L502.5 554.9L503.1 557.3L503.7 558.8L504.0 561.1L504.7 563.0L505.1 565.0L506.3 567.0L506.7 570.3L506.7 572.5L507.0 573.6L507.4 576.9L508.2 578.2L509.2 580.9L508.9 582.5L509.5 584.6L510.2 587.8L510.5 590.2L511.4 592.8L511.7 595.0L511.9 596.2L512.4 598.6L513.4 601.6L513.7 604.3L513.9 606.7L514.4 607.7L514.9 610.6L515.5 612.3L515.9 614.7L516.4 617.3L516.4 620.2L516.9 621.7L517.5 623.4L518.0 624.9L518.4 627.1L518.8 628.8L519.3 630.8L519.9 632.8L520.9 637.5L522.1 640.3L523.0 642.5L523.6 644.7L525.1 645.7L525.7 648.0L526.3 649.0L527.8 648.8L529.5 649.3L530.2 648.2L532.2 647.2L533.1 644.5L534.5 641.7L535.2 639.5L535.8 638.7L536.1 636.3L536.2 634.1L537.2 633.5L537.6 630.9L538.4 628.9L539.0 626.3L539.4 624.0L539.6 621.5L540.2 620.1L540.6 616.1L541.1 613.2L541.6 612.8L542.5 610.9L542.6 607.2L542.9 606.3L543.1 603.3L543.5 602.2L544.2 600.6L544.7 598.5L544.8 595.3L546.0 593.8L545.7 591.8L546.5 589.3L547.1 586.3L547.8 585.2L547.8 582.7L548.5 579.6L548.6 577.8L548.8 575.6L549.1 573.1L549.6 570.4L550.6 568.7L550.4 566.3L551.4 564.1L551.9 561.8L552.1 558.8L551.7 556.8L552.6 556.0L552.4 553.3L553.1 551.0L553.8 549.1L554.2 547.2L554.4 543.8L554.8 541.8L555.1 541.2L554.9 538.9L555.8 535.7L555.9 534.4L556.2 533.1L556.6 530.5L557.4 526.3L557.6 525.0L558.0 521.5L558.6 519.7L559.9 517.1L559.7 515.6L560.5 513.8L560.9 512.5L561.4 510.0L561.8 509.0L562.3 506.7L562.9 505.2L564.2 501.7L565.4 498.9L566.3 498.5L567.9 496.7L568.8 494.9L569.5 494.1L571.3 495.1L571.7 496.5L573.4 496.9L574.2 499.8L575.1 501.9L576.7 504.5L577.1 506.6L577.8 507.8L578.2 509.6L578.6 511.9L578.8 513.6L579.7 516.4L580.5 518.1L580.4 520.2L581.2 521.6L581.7 525.2L582.2 526.9L582.8 529.8L583.1 531.9L583.5 535.1L584.5 537.2L584.5 539.3L585.3 541.3L585.2 542.8L585.6 544.0L586.1 547.4L586.0 549.1L587.1 549.9L587.5 553.3L587.6 555.0L587.9 557.1L588.3 560.0L588.3 561.7L589.4 564.0L589.1 566.6L589.5 568.2L590.0 569.7L590.3 573.6L590.6 575.3L591.0 576.9L592.2 579.6L592.3 582.5L592.8 583.3L593.0 586.1L593.2 587.5L593.8 590.7L594.0 592.6L594.1 593.9L594.4 596.4L595.0 599.4L595.6 600.5L595.5 602.6L596.0 604.0L596.4 607.5L597.2 608.3L597.9 610.8L597.7 614.6L598.5 615.9L598.8 618.8L599.8 621.1L599.9 623.0L600.5 625.5L601.0 627.7L601.7 629.8L602.4 630.6L603.1 633.5L603.7 634.1L603.7 635.4L604.9 638.7L607.0 640.9L608.0 642.7L608.7 643.0L611.0 643.3L611.8 643.0L613.1 642.4L614.7 642.0L615.8 639.2L617.3 635.5L618.3 635.0L618.1 633.5L619.2 631.2L619.6 628.6L620.2 626.7L620.8 624.6L621.6 622.4L622.0 620.2L622.3 617.6L623.5 616.0L623.5 613.0L624.7 611.2L625.1 609.1L625.1 606.2L625.7 604.1L626.8 601.7L626.8 600.1L627.2 597.4L627.6 594.5L627.9 592.5L629.2 590.3L628.9 588.1L629.9 586.2L629.8 585.4L630.6 583.0L631.0 580.6L631.4 578.3L631.8 575.5L632.8 574.7L633.0 571.5L632.9 569.2L633.8 567.2L634.6 564.4L634.8 563.3L635.2 560.4L635.7 558.5L636.4 555.5L636.8 552.9L637.5 551.4L637.8 549.0L638.4 547.8L639.3 546.6L639.0 543.4L639.8 542.1L640.6 539.9L642.1 538.0L643.0 535.2L644.1 532.6L645.4 530.2L646.0 530.0L647.2 527.6L649.3 526.3L651.7 526.9L654.4 527.3L655.3 528.0L656.0 529.6L657.7 531.9L658.3 532.3L660.0 535.9L660.5 537.6L661.3 539.9L662.3 541.5L663.6 543.2L663.7 544.8L664.5 547.4L664.9 549.1L665.7 552.6L667.1 554.2L667.3 557.3L668.4 559.5L668.6 560.7L669.5 562.6L669.9 565.2L670.6 566.9L671.0 570.0L671.5 572.6L672.1 574.4L672.9 575.6L674.0 578.3L674.4 581.3L675.2 582.0L675.1 584.1L676.5 586.3L677.5 588.7L678.0 590.9L679.5 593.0L680.4 594.7L681.4 595.4L682.6 598.6L683.4 599.0L685.0 601.2L686.7 602.6L688.7 603.4L690.1 604.7L692.9 604.5L695.5 604.9L697.8 603.6L700.0 602.1L700.9 600.1L702.3 598.8L702.8 596.6L703.8 594.8L704.7 592.6L706.2 591.0L707.0 588.1L707.7 587.2L709.2 584.9L710.4 581.9L711.6 580.4L712.8 578.1L713.7 576.3L715.0 575.9L716.7 574.0L717.8 571.5L719.1 570.5L720.7 567.9L721.7 566.0L723.1 564.6L724.0 563.5L725.5 562.4L728.0 559.6L729.0 559.2L730.9 557.0L732.2 556.9L734.4 558.2L736.7 558.6L738.6 559.7L740.9 561.9L741.7 564.4L743.2 566.2L744.5 567.6L746.1 568.4L747.4 569.6L748.8 571.3L750.7 574.0L753.3 575.2L755.3 575.6L757.0 577.8L759.5 578.4L761.0 579.9L762.8 581.9L764.7 583.6L767.9 584.0L770.0 583.9L772.2 584.0L774.2 584.9L775.9 582.5L777.9 581.2L779.2 581.2L781.1 578.5L782.0 577.0L783.8 575.5L785.9 574.9L787.7 574.0L789.8 573.4L790.9 572.0L793.3 571.6L794.7 571.0L797.3 569.6L799.4 570.0L801.3 570.6L803.4 571.2L806.3 572.1L807.8 572.0L810.0 572.9L812.5 572.7L813.8 573.8L816.5 573.2L818.0 575.3L820.6 575.0L821.6 577.5L823.5 577.8L825.6 579.7L827.3 581.7L830.0 582.6L832.4 583.9L834.2 584.8L836.6 585.3L838.1 585.4L840.3 585.2L842.5 583.7L844.1 581.7L845.8 580.6L847.6 579.3L849.7 576.3L851.1 574.8L853.1 574.9L854.5 572.7L856.2 570.3L857.9 570.0L859.1 567.0L860.6 565.1L862.3 564.3L864.3 561.5L865.7 561.0L868.1 559.4L870.1 557.8L872.8 558.6L874.0 558.1L876.3 559.3L878.1 558.6L880.2 560.5L882.0 562.3L883.1 564.4L884.2 565.2L885.7 566.5L887.2 569.5L888.6 571.5L890.4 573.7L891.1 575.0L892.7 577.3L893.5 578.4L894.4 581.3L895.5 581.8L896.4 583.6L897.1 587.0L898.9 587.3L899.3 590.5L901.3 592.3L902.5 594.8L903.8 595.8L905.1 596.7L906.2 599.6L907.6 601.1L909.5 602.0L911.5 603.8L913.3 604.2L914.2 605.1L916.0 603.4L918.2 601.6L919.8 600.9L921.3 597.3L922.6 596.9L923.3 593.9L924.4 593.4L924.3 589.8L925.5 588.4L926.7 585.9L926.9 584.5L928.0 580.5L928.8 579.5L929.6 578.4L930.6 576.0L931.4 574.3L931.7 571.1L932.8 569.6L933.1 568.9L934.2 566.2L934.3 564.5L935.2 561.7L936.1 560.4L936.7 557.8L937.5 556.2L938.9 553.0L939.4 551.1L940.3 549.5L940.6 547.0L941.6 545.4L942.3 543.4L942.9 541.3L943.5 540.1L944.2 538.0L946.6 536.0L948.1 533.5L950.0 532.3L952.0 531.5L953.1 529.9L954.5 529.0" fill="none" stroke="#f80000" stroke-width="5.9" stroke-linejoin="round" stroke-linecap="butt"/>
<path d="M131.3 481.0L170.8 481.0L172.9 561.0L177.6 505.3" fill="none" stroke="#0404f4" stroke-width="6.0" stroke-linejoin="round" stroke-linecap="butt"/>
<path d="M177.6 505.3L177.9 504.4L177.9 502.5L178.1 500.7L178.6 498.9L179.0 497.8L179.4 495.0L179.9 493.2L179.9 490.7L180.5 488.3L180.9 486.5L181.2 484.1L181.7 481.7L181.9 478.8L182.6 475.5L182.5 472.8L183.1 470.3L183.4 468.4L183.4 465.7L183.8 463.5L183.9 461.8L184.0 459.2L184.1 456.6L184.2 454.3L184.6 452.1L184.7 449.8L184.9 447.2L184.7 445.1L185.1 442.4L185.0 440.5L185.1 438.3L185.6 436.4L185.7 434.2L185.5 431.9L185.9 429.6L185.7 427.7L185.8 425.7L186.1 423.8L186.1 421.5L186.1 420.4L186.3 415.9L186.6 413.7L186.6 411.0L186.8 409.2L186.8 407.2L186.9 406.1L186.7 403.6L186.9 402.3L187.2 400.8L187.0 399.1L187.4 395.9L187.6 393.2L187.8 391.7L188.0 389.2L187.9 386.8L188.5 384.9L188.7 383.1L189.2 380.8L190.4 379.1L191.6 377.3L192.8 375.7L194.5 374.6L195.5 373.6L196.4 371.1L196.9 369.3L197.3 366.8L197.5 365.4L197.6 363.2L197.9 361.1L197.8 358.6L198.1 356.7L198.4 353.9L198.6 351.1L198.7 349.1L199.1 346.7L199.0 344.0L199.1 341.7L199.5 340.2L199.6 337.8L199.8 335.9L200.4 333.2L200.6 331.4L201.3 330.5L202.2 327.9L204.0 326.6L205.3 325.5L206.5 322.5L207.3 321.5L207.7 319.7L208.1 317.3L208.4 316.0L208.5 313.0L209.0 311.2L209.3 309.0L209.6 306.3L209.9 303.3L210.1 301.2L210.1 298.9L210.8 296.9L210.7 294.6L211.0 293.1L211.5 290.7L211.4 288.9L211.7 286.7L211.9 284.4L212.5 282.7L212.7 280.0L212.9 277.5L213.2 275.2L213.7 272.1L213.6 270.1L214.2 267.8L214.5 265.0L214.6 263.7L214.7 260.7L214.9 259.3L215.3 256.2L215.7 254.8L215.7 252.4L216.1 249.8L216.4 247.2L216.7 245.8L216.9 243.5L217.1 240.9L217.6 238.6L217.7 236.5L217.7 233.6L218.0 231.7L218.4 229.8L218.8 226.9L218.6 224.2L219.2 222.8L219.0 220.4L219.2 217.9L219.4 215.9L219.5 213.9L219.7 212.0L219.9 210.3L220.1 207.8L220.3 206.0L220.5 204.3L220.6 202.3L220.8 199.4L221.3 198.1L221.7 194.8L222.1 193.1L222.3 190.3L222.7 188.4L223.0 186.3L223.5 184.9L223.7 182.5L224.4 180.6L224.6 178.3L224.6 176.4L225.4 174.4L225.7 172.5L226.0 169.6L225.9 167.6L226.5 164.6L226.6 162.4L226.9 160.4L226.9 157.4L226.8 155.8L227.1 152.9L227.0 150.6L227.3 149.0L227.4 147.1L227.6 145.1L228.0 142.9L228.6 139.9L228.8 136.9L229.6 134.1L230.1 132.4L230.4 131.7L231.1 131.6L232.0 132.2L232.8 133.3L233.4 136.6L234.1 138.8L235.1 141.3L236.2 144.4L236.6 146.3L238.3 148.5L240.0 149.8L241.6 150.6L242.6 150.9L244.7 154.1L246.4 155.2L248.1 154.7L249.5 152.9L251.6 152.1L253.3 149.8L254.3 147.6L254.8 145.8L255.7 143.8L256.5 141.7L257.6 138.5L258.0 136.9L258.8 134.8L259.0 132.7L259.8 130.4L260.2 127.8L260.7 124.9L261.1 123.3L261.9 120.9L262.1 119.0L262.8 117.5L264.4 116.3L266.4 116.7L267.8 116.1L269.1 113.7L270.4 110.8L271.8 107.5L272.9 105.7L274.0 105.3L274.4 105.8L275.2 107.6L276.0 110.0L276.5 112.1L277.5 114.4L277.6 117.1L278.2 119.6L278.9 121.8L279.6 123.9L279.8 125.4L280.3 127.1L280.4 129.4L281.3 131.0L282.1 133.2L283.5 134.8L284.7 136.3L286.0 137.8L287.4 139.8L288.5 142.7L289.2 144.3L290.1 146.8L290.8 148.6L291.9 150.9L293.4 153.2L295.2 154.2L297.0 154.8L298.0 154.3L299.6 152.0L300.7 150.1L302.2 147.9L303.6 144.9L304.5 142.8L305.7 140.7L308.1 141.2L310.4 141.7L311.8 139.7L313.5 137.6L314.6 135.1L316.3 134.8L317.2 135.7L318.0 138.2L318.7 141.1L319.6 143.6L320.6 145.8L322.1 148.5L323.2 151.0L324.3 152.5L325.6 153.1L327.8 155.3L329.9 155.7L332.4 153.8L333.8 153.4L335.4 151.2L336.9 150.2L338.0 148.3L339.7 145.2L340.9 143.4L341.3 140.8L342.5 139.5L342.8 137.4L343.6 135.6L344.2 133.1L344.9 130.5L345.5 128.9L345.7 127.0L346.7 124.2L347.3 122.1L347.8 119.4L348.3 117.1L349.0 115.1L349.6 113.5L350.5 113.0L352.4 112.4L354.6 113.2L356.1 111.8L357.6 110.4L359.2 109.9L360.0 110.9L360.9 112.5L361.7 114.3L362.8 116.8L363.6 119.8L364.5 121.0L364.8 122.9L365.0 125.3L365.7 127.2L366.0 129.9L366.5 131.8L367.6 134.6L368.4 136.3L369.5 138.4L370.1 140.9L371.6 142.5L372.4 144.0L373.7 145.6L375.0 147.2L376.3 149.3L377.8 151.7L379.4 153.9L380.7 154.8L382.3 155.3L383.9 154.5L385.5 151.8L387.0 150.3L388.0 147.7L389.6 145.3L390.4 143.5L391.5 141.5L392.4 140.3L395.0 140.7L397.2 142.8L399.3 140.5L401.3 140.6L402.7 141.3L403.6 142.6L404.2 144.9L405.4 147.0L406.1 149.4L407.2 150.8L409.7 153.4L411.1 154.6L413.3 155.9L415.0 155.2L416.7 154.6L418.3 152.7L419.9 151.0L420.8 149.6L422.2 148.2L422.8 145.4L423.8 143.4L424.8 141.3L425.9 138.4L426.6 136.4L427.5 134.4L428.1 132.7L428.4 129.5L429.2 127.3L429.3 125.6L430.2 123.7L430.5 120.8L431.3 119.5L432.3 116.7L432.7 114.3L433.3 111.9L434.5 109.8L435.6 109.3L437.4 107.6L439.6 107.6L441.9 108.7L443.6 109.5L444.8 111.0L446.0 112.7L446.7 114.5L447.6 116.3L448.4 119.6L448.7 121.2L449.1 122.8L449.6 124.9L450.3 127.2L450.6 129.0L451.3 131.0L451.9 133.6L452.7 135.8L453.3 138.5L454.2 140.7L455.1 143.3L456.1 144.8L457.2 147.5L458.1 149.0L459.5 150.5L461.5 152.3L463.3 153.9L465.7 155.3L467.5 154.6L469.1 154.2L470.4 151.4L471.9 148.6L473.0 147.1L473.6 145.4L474.7 143.4L476.4 142.3L478.5 141.9L481.0 142.3L483.9 142.4L486.0 143.4L487.6 145.5L489.2 146.4L490.0 148.6L491.6 149.5L492.9 151.0L495.0 152.8L497.4 153.9L499.6 153.9L501.2 153.3L502.4 152.0L504.1 149.2L504.7 147.6L505.6 144.8L506.5 143.3L507.6 141.0L508.5 138.5L509.3 136.5L510.4 135.6L511.4 134.1L512.6 131.2L513.5 129.7L514.1 127.5L515.0 124.7L515.3 122.3L516.4 119.5L516.8 117.4L517.6 115.1L518.1 113.1L519.1 110.5L520.8 110.2L522.8 109.9L525.1 109.6L527.1 110.7L529.1 111.6L530.3 112.2L531.2 114.3L531.6 115.9L532.8 119.4L533.7 121.0L533.9 122.9L534.6 124.5L535.7 126.6L536.4 129.2L537.3 131.7L537.6 133.6L538.5 135.3L539.6 137.8L540.4 140.0L541.7 142.5L542.2 144.8L543.3 146.4L544.5 148.0L545.5 149.3L547.2 152.4L549.1 153.7L550.8 155.2L552.9 155.3L554.4 154.8L555.8 153.2L557.1 151.4L559.0 149.1L559.9 147.3L560.9 145.0L561.6 144.0L562.8 142.1L564.2 139.5L565.2 138.8L567.5 137.0L569.9 136.5L572.5 135.9L574.4 135.7L576.5 136.1L579.0 136.4L580.4 138.5L582.0 140.7L583.6 143.0L585.4 144.7L587.9 144.3L590.4 144.0L592.8 143.2L594.6 141.8L595.7 141.1L597.3 139.4L598.8 137.6L600.2 135.6L601.5 134.0L602.9 132.2L604.2 130.0L605.9 127.4L607.0 126.3L608.3 124.5L609.8 123.8L611.8 123.7L613.9 123.9L615.6 125.9L617.0 127.7L618.7 130.2L620.0 131.7L620.8 133.9L621.9 135.5L622.7 137.9L623.1 140.7L624.2 142.0L625.3 144.9L626.7 146.9L628.2 148.8L629.9 150.2L631.2 152.4L632.9 153.3L634.5 154.2L635.9 154.9L637.9 154.8L639.0 154.3L640.8 152.0L642.0 149.9L643.2 147.4L644.4 145.3L645.0 144.2L645.9 141.4L646.3 138.9L647.3 137.2L648.1 135.4L648.5 133.2L649.2 130.9L650.7 128.7L651.2 126.2L652.5 124.5L653.5 123.2L655.2 121.4L657.4 119.3L659.3 118.4L661.3 118.3L662.8 119.2L664.1 121.1L664.9 124.3L666.2 127.1L667.0 129.0L667.9 130.9L668.1 133.0L669.0 135.1L669.8 136.9L670.4 138.5L670.6 140.1L672.0 143.1L673.1 145.5L674.4 146.9L676.3 148.6L678.5 150.3L680.4 151.0L681.9 149.8L683.8 149.3L685.4 147.6L687.2 146.4L688.0 144.3L688.9 142.4L689.8 140.0L690.7 137.7L691.7 136.5L693.2 135.3L695.1 134.2L697.2 133.6L699.6 134.0L701.5 134.8L703.2 135.5L705.0 137.4L705.9 138.9L706.5 141.9L707.3 144.0L708.8 146.1L710.0 148.9L711.8 150.7L713.2 152.7L715.0 154.4L716.9 154.8L718.1 154.6L719.6 153.3L720.8 151.7L721.8 149.1L723.2 147.7L724.5 145.7L725.8 144.4L727.2 142.0L728.2 139.8L729.1 137.6L730.0 135.4L730.8 133.1L731.4 129.9L731.5 128.4L732.3 125.6L732.8 123.5L733.2 120.7L733.7 119.1L735.3 115.7L736.2 114.2L737.3 113.7L739.3 113.8L740.7 115.8L742.9 117.0L745.1 116.7L747.1 116.6L748.4 118.1L749.0 119.7L750.0 122.0L751.0 125.4L751.3 127.7L752.0 129.5L752.5 131.8L753.3 134.1L753.9 136.5L754.4 138.9L755.8 141.2L756.8 143.4L758.2 145.6L759.4 147.6L760.4 149.1L762.5 151.3L764.0 151.9L765.9 152.2L767.9 152.9L769.8 151.5L771.5 150.0L772.5 147.8L773.6 146.4L774.3 144.0L775.3 141.5L775.9 140.2L777.8 137.3L779.1 135.6L780.5 136.8L782.2 138.7L784.3 141.2L786.1 141.1L788.5 141.8L790.2 141.9L791.3 143.9L792.2 145.7L792.9 148.7L794.0 150.4L795.8 153.0L797.2 154.8L799.0 155.7L800.6 155.1L802.2 153.2L803.5 151.1L804.9 148.8L806.1 147.2L807.1 145.1L807.5 143.5L808.5 141.3L809.3 138.9L810.3 137.5L811.4 135.2L812.0 133.5L812.9 131.4L813.9 129.1L814.7 127.2L815.5 125.2L816.1 122.5L816.8 120.7L817.5 118.2L818.0 115.5L818.4 113.2L818.9 112.4L820.3 108.5L822.3 108.2L822.9 108.9L824.0 111.8L825.2 113.5L826.4 115.5L828.2 116.5L829.8 117.8L831.6 119.5L832.7 120.8L832.9 122.4L833.7 125.0L834.2 126.8L834.6 128.8L835.4 131.6L836.0 133.5L836.9 135.6L837.3 136.8L838.2 139.1L838.8 140.6L839.9 142.5L840.4 144.3L841.7 147.0L842.9 149.2L844.5 151.3L845.9 152.7L847.3 153.5L849.6 153.7L851.4 152.0L853.6 151.0L855.3 149.2L856.8 147.7L858.0 145.4L858.8 143.4L859.9 141.7L860.8 140.2L861.9 136.9L862.9 136.6L864.0 137.2L865.0 139.3L866.7 141.7L868.0 142.7L869.8 143.8L871.3 145.2L873.0 146.0L874.8 147.4L876.0 148.8L877.4 151.6L878.3 153.1L879.3 155.1L880.5 155.8L882.8 155.5L885.4 154.2L887.4 152.5L888.1 150.4L888.8 149.0L889.6 147.2L890.2 145.1L890.8 142.3L891.7 140.2L892.6 138.2L893.8 136.3L894.7 134.8L895.7 133.2L896.6 131.2L897.5 129.2L898.6 127.2L899.3 124.5L900.1 122.3L900.7 119.9L901.7 117.1L902.5 114.6L903.1 112.7L903.7 111.1L905.4 107.6L906.8 106.5L907.5 107.6L908.3 109.6L909.5 111.7L910.3 114.2L911.6 115.4L912.7 117.6L913.8 118.9L914.9 120.5L916.2 122.4L917.3 124.4L917.7 125.7L918.5 127.7L919.2 129.7L919.8 131.8L920.7 134.2L921.2 135.9L922.1 138.9L922.8 140.2L923.4 142.3L924.5 144.6L925.4 146.6L926.6 148.1L927.4 150.1L928.6 151.9L930.2 152.5L931.7 153.7L933.8 153.4L935.7 153.5L937.6 152.6L939.5 151.0L941.3 149.6L943.2 148.0L944.1 145.1L945.0 142.9L946.3 140.6L947.7 139.6L949.0 140.4L950.5 143.0L951.8 145.2L953.1 147.0L954.1 149.0" fill="none" stroke="#0404f4" stroke-width="6.0" stroke-linejoin="round" stroke-linecap="butt"/>
<path d="M131.3 575.4L172.0 575.4" fill="none" stroke="#000" stroke-width="6.5" stroke-linejoin="round" stroke-linecap="butt"/>
<path d="M172.0 575.4L172.8 576.0L173.4 579.0L173.7 580.4L174.1 582.5L174.4 583.3L174.3 585.9L174.8 588.8L174.8 590.8L175.0 593.0L175.8 595.2L176.1 597.7L176.5 600.8L176.4 602.8L176.8 605.4L177.3 607.8L177.6 609.5L178.2 611.7L178.8 613.6L178.7 616.4L179.2 618.1L179.7 620.7L180.5 621.7L181.2 625.2L181.8 626.8L183.0 628.0L183.1 629.3L184.2 633.2L184.5 634.1L184.6 637.0L185.2 639.1L185.4 641.5L186.2 642.9L186.2 646.4L186.8 648.8L186.8 650.8L187.0 653.4L187.5 654.7L187.7 657.0L188.1 658.7L188.7 660.2L189.2 664.6L190.5 663.9L191.3 663.7L192.5 662.1L194.0 657.0L194.3 656.1L195.0 654.3L195.2 652.5L196.0 650.8L196.6 648.6L196.7 647.2L197.7 644.3L197.8 641.7L198.3 638.8L199.5 635.2L199.5 633.5L200.0 632.8L200.6 630.2L200.9 628.2L200.7 626.0L201.1 624.6L201.2 622.6L201.5 620.3L202.1 617.9L202.7 615.3L203.2 613.3L203.4 611.2L203.5 608.8L203.5 607.2L204.2 605.0L204.6 602.3L204.9 599.8L205.0 597.5L205.7 595.1L205.8 591.7L206.6 590.3L206.6 587.6L207.4 585.6L207.8 583.7L208.0 581.3L208.4 578.5L208.7 576.5L209.2 575.2L210.0 572.9L210.4 571.1L210.7 568.9L210.6 566.9L211.2 564.2L211.6 561.6L211.8 559.4L212.2 557.8L213.0 555.2L213.2 553.6L213.3 550.8L213.7 548.7L214.0 545.9L214.9 544.4L214.9 540.7L214.8 538.2L215.5 536.2L216.0 534.2L216.3 531.2L216.3 529.3L216.8 525.8L217.0 523.6L216.9 521.7L217.3 518.2L217.6 515.8L217.9 513.9L218.2 511.6L218.0 509.6L218.6 508.1L218.3 505.9L218.8 503.1L219.4 501.8L219.5 500.8L219.8 498.1L219.4 496.8L221.2 491.5L222.4 493.7L224.4 494.2L226.4 494.2L227.6 492.4L228.1 489.5L229.0 487.7L230.3 485.4L231.4 484.3L231.5 485.3L232.6 486.5L233.0 489.3L233.5 491.2L234.5 493.7L235.2 497.4L236.3 500.0L236.4 502.0L236.8 503.8L237.4 506.1L238.0 507.8L238.5 509.7L239.5 512.2L239.8 514.8L240.3 516.9L240.9 519.7L241.4 521.5L241.8 524.3L242.6 525.6L243.0 528.3L243.5 530.4L243.9 532.3L244.1 533.2L245.0 535.1L245.5 538.7L245.5 541.0L246.1 543.1L246.7 546.0L247.3 547.6L247.5 549.8L247.7 552.7L248.2 554.4L248.8 556.8L248.5 558.9L249.4 561.7L249.1 563.3L249.4 565.1L250.0 568.6L250.6 569.6L250.9 572.2L250.7 575.2L251.4 577.1L251.5 579.9L252.2 582.1L252.6 584.6L252.6 586.5L253.0 589.5L253.4 592.0L253.8 593.5L254.2 595.7L254.3 598.5L255.0 600.4L255.4 602.3L255.7 603.7L256.1 606.2L255.9 608.5L256.3 610.3L256.9 612.6L257.4 613.8L258.0 616.6L258.4 619.4L258.7 622.1L258.8 623.3L259.0 626.1L259.6 629.0L260.4 631.6L260.2 633.4L260.6 635.5L261.2 637.2L261.8 639.3L261.7 640.8L262.3 643.3L262.8 644.4L262.9 646.1L264.4 649.1L265.0 652.6L266.3 653.5L266.7 654.2L268.0 656.6L268.8 657.7L269.5 659.6L271.0 663.1L271.4 664.6L272.9 663.7L273.8 663.1L274.3 662.5L274.8 659.7L275.4 658.3L276.3 655.6L277.0 652.0L278.4 649.5L278.6 648.1L279.0 645.5L279.6 644.6L280.5 642.6L280.4 640.1L280.9 638.3L281.9 636.9L282.4 635.1L282.6 632.3L283.3 630.8L283.6 627.3L284.1 625.0L284.6 622.7L285.3 620.1L285.9 617.9L285.7 616.6L286.2 614.7L286.8 611.4L287.3 609.9L287.5 607.1L287.7 606.0L287.8 603.7L288.5 601.5L288.7 598.7L288.7 597.1L289.0 594.2L289.5 592.1L289.8 590.7L290.5 588.2L290.3 584.8L291.3 583.1L291.5 581.3L291.7 578.9L292.0 576.3L292.5 573.6L292.9 572.2L293.1 569.6L293.9 567.6L294.0 565.8L294.4 563.7L295.0 560.9L294.8 559.3L295.5 557.1L296.1 554.8L296.3 553.1L296.6 550.9L296.6 548.9L297.1 546.9L297.9 544.6L298.4 542.9L298.2 540.6L298.8 538.3L299.3 536.3L299.4 533.6L299.9 531.3L300.4 528.5L300.9 526.2L301.5 523.6L301.7 521.6L302.0 520.0L302.5 517.9L303.1 515.7L303.3 513.4L303.6 510.6L304.2 509.8L304.3 507.6L304.7 505.6L305.0 503.5L305.5 503.2L306.3 499.0L307.6 496.8L308.3 497.0L309.1 495.7L310.6 494.2L312.5 492.1L313.8 489.9L315.3 488.8L316.8 489.0L317.6 489.4L318.6 491.8L318.9 492.6L319.1 494.6L320.2 497.5L320.7 499.1L321.1 501.7L321.5 505.9L322.1 507.1L322.4 508.3L322.6 510.2L323.2 512.0L323.5 513.9L324.0 516.8L324.0 518.5L324.5 521.1L325.0 522.1L325.2 525.0L326.3 527.2L326.8 529.8L326.9 531.9L327.3 535.0L327.8 536.6L327.8 538.0L328.3 540.5L329.0 542.0L329.2 544.4L329.2 546.3L330.0 549.2L330.2 550.4L330.8 552.8L331.2 555.3L331.1 557.5L332.1 560.0L332.0 561.9L332.7 563.8L332.7 566.1L333.1 567.7L333.5 570.5L334.1 573.5L334.4 575.4L335.1 577.0L335.3 579.5L335.7 582.1L336.2 583.2L336.8 585.7L336.5 588.0L337.2 590.2L337.5 591.6L337.9 594.2L338.6 595.4L338.8 597.4L338.8 599.4L339.4 602.0L339.6 603.5L340.2 606.8L340.6 609.1L340.9 610.8L341.6 613.7L341.8 615.9L341.9 617.5L342.4 620.8L343.4 622.5L343.4 625.5L344.0 626.8L344.1 629.6L344.8 631.8L345.0 634.4L345.3 636.4L345.4 637.4L345.7 640.6L346.2 641.7L346.8 643.7L347.2 645.6L347.2 645.9L348.9 651.3L349.8 653.0L350.6 653.7L351.8 655.1L353.3 657.4L355.9 658.3L358.1 657.1L358.8 656.9L359.9 655.0L360.3 653.4L361.1 651.4L361.8 649.4L362.0 647.1L362.7 643.9L363.7 641.4L363.8 640.0L364.8 637.7L364.7 635.8L365.6 633.6L365.4 631.1L366.0 629.2L366.3 627.6L366.9 625.2L367.6 623.8L367.5 621.0L368.1 618.7L368.4 615.5L368.8 614.3L369.6 610.9L369.9 608.3L370.7 606.0L370.9 603.3L371.5 601.7L371.3 598.7L371.7 596.8L372.3 594.4L372.5 592.3L372.7 590.9L373.4 589.0L373.9 585.7L374.1 584.1L374.4 581.5L374.4 580.1L375.1 578.0L375.5 574.7L375.5 573.6L375.5 571.0L376.2 568.7L376.7 566.1L376.8 564.8L377.0 562.0L378.0 560.0L377.9 557.0L378.8 555.1L379.1 553.1L379.4 550.1L380.2 548.7L380.2 546.7L381.1 544.8L381.6 542.4L381.7 540.9L382.6 538.1L382.8 536.3L383.3 534.6L383.9 531.5L383.9 529.4L384.9 527.5L385.0 525.2L386.0 523.0L386.5 520.4L386.6 517.2L387.1 514.9L387.9 512.4L388.3 510.3L388.4 509.2L389.4 506.1L389.4 504.6L389.8 502.3L390.3 501.2L391.1 500.5L392.2 495.9L393.1 496.0L395.2 496.3L397.0 494.8L399.5 494.3L401.2 496.3L402.5 497.4L403.0 497.8L403.6 499.9L404.1 501.5L404.8 504.4L405.2 507.3L405.8 509.6L406.4 512.0L406.8 513.6L406.8 514.7L407.6 517.2L407.9 519.6L407.8 521.1L408.8 524.1L409.2 526.7L409.5 527.8L409.5 530.0L410.3 533.4L410.4 535.1L410.8 538.2L411.4 539.5L411.8 541.8L412.1 544.7L412.6 546.7L412.7 548.7L412.7 549.9L413.5 552.3L413.8 555.1L413.9 557.4L414.2 558.7L414.4 561.1L414.9 562.6L415.4 565.6L416.2 567.9L416.4 570.6L416.7 573.3L417.1 574.4L417.5 577.5L417.8 578.6L418.3 581.0L418.6 584.0L419.2 586.2L419.1 588.0L419.8 589.4L420.0 591.5L420.6 593.7L420.5 596.2L421.2 598.8L421.5 599.8L422.2 602.6L422.3 604.6L422.7 607.1L423.0 608.4L423.3 610.9L424.0 614.4L424.8 616.5L425.2 619.2L425.4 620.2L426.3 623.6L426.4 625.7L427.3 627.9L428.0 629.1L427.8 630.7L428.6 633.0L429.0 634.3L429.3 636.3L429.9 638.3L430.4 641.8L431.2 645.1L431.9 648.2L432.5 649.1L433.4 650.6L434.1 652.2L435.6 653.1L437.1 652.0L439.3 650.3L440.6 647.9L441.8 646.3L443.2 646.3L444.2 644.4L445.1 641.6L446.2 638.3L446.4 637.6L447.2 635.9L447.1 633.1L447.7 632.1L448.0 629.7L448.8 627.8L448.6 625.2L448.9 624.1L449.6 621.9L449.8 619.5L450.2 616.9L450.4 614.6L451.4 611.4L451.3 609.0L451.9 606.5L452.5 605.0L452.6 602.8L453.2 599.5L453.1 598.2L453.8 596.2L453.7 593.0L454.1 591.8L454.7 589.1L455.2 587.0L455.7 585.2L455.5 583.3L456.3 580.7L456.7 578.7L456.9 576.0L457.4 574.8L457.5 571.9L458.1 569.3L458.4 567.3L459.2 565.0L459.1 562.1L459.6 560.8L460.7 558.4L460.7 555.9L461.2 552.9L462.1 551.4L462.5 549.2L462.5 547.6L463.3 546.0L463.7 543.8L464.2 541.5L464.5 540.2L465.3 538.1L466.2 535.4L466.8 533.2L467.0 529.8L468.3 528.2L468.9 525.1L469.0 524.0L469.8 521.7L471.0 519.7L471.7 518.2L471.9 515.6L473.0 513.2L473.7 510.8L474.8 509.0L475.7 506.6L476.8 506.0L477.7 504.8L478.6 505.4L478.9 507.2L480.1 510.3L480.4 513.0L481.3 514.8L482.7 515.7L484.2 516.4L485.5 517.0L486.7 520.4L487.6 522.0L487.7 523.0L488.0 525.5L488.4 527.0L489.0 530.0L489.1 532.4L490.0 534.3L490.1 536.5L490.7 539.1L491.0 541.7L491.3 544.5L491.6 546.3L492.5 548.3L493.0 551.5L493.7 553.9L493.8 556.0L494.6 557.3L495.2 558.6L496.1 561.7L496.4 563.6L496.7 564.6L497.3 566.9L498.3 569.5L498.4 571.6L499.1 573.9L499.7 576.1L500.1 578.2L500.7 579.9L501.0 582.5L501.5 584.3L501.8 586.2L501.9 588.7L502.4 590.2L502.7 592.3L502.9 595.1L503.8 596.3L504.1 598.6L504.6 601.0L505.3 603.3L506.6 606.2L506.9 607.5L507.9 609.2L508.5 611.8L509.8 613.6L510.9 615.5L511.1 616.3L512.2 618.9L513.2 622.2L514.2 624.0L514.8 626.2L515.7 627.9L516.7 627.7L517.3 626.8L518.2 625.8L519.0 623.7L519.7 621.5L520.6 618.1L521.7 615.6L522.3 614.6L523.6 612.2L524.6 610.9L525.3 609.4L526.1 607.9L527.4 606.3L528.0 603.2L529.2 600.2L529.3 597.9L529.9 596.6L530.6 594.9L530.7 592.0L531.1 589.8L531.2 587.5L531.6 585.7L531.9 582.3L532.6 580.2L532.8 578.4L533.4 576.7L533.9 573.5L534.0 572.6L534.2 570.4L535.4 567.7L536.8 565.8L537.9 564.5L539.1 563.0L540.3 562.2L541.2 560.2L542.5 557.6L543.1 555.2L544.0 552.2L544.9 550.3L545.6 547.8L546.5 545.5L547.0 544.9L548.3 543.1L550.0 544.1L551.9 545.7L553.6 548.9L555.6 549.3L557.7 548.3L560.3 550.0L560.9 552.0L561.5 554.0L561.8 554.8L562.3 557.8L562.8 560.2L563.3 562.7L563.6 564.4L564.0 567.2L564.5 568.5L565.5 570.7L565.9 574.0L567.0 575.2L567.8 577.8L568.8 578.8L569.4 581.1L570.6 582.0L571.5 584.3L572.8 586.6L573.1 588.7L574.1 590.3L574.0 593.3L574.9 595.9L575.1 598.3L576.0 600.4L576.5 603.1L576.8 604.2L577.3 606.6L577.8 608.2L578.4 610.6L579.5 611.8L581.6 613.7L583.5 613.0L585.2 611.3L587.4 608.6L588.0 607.0L589.1 605.1L589.4 603.1L590.5 601.4L591.1 599.9L591.1 596.9L592.3 594.8L592.7 592.9L593.7 589.7L594.8 588.6L595.6 586.8L596.1 585.1L597.5 582.6L598.6 580.5L599.3 579.1L600.2 576.9L601.2 573.5L601.9 572.0L602.0 568.6L602.8 567.7L602.9 565.3L603.4 563.0L603.9 559.5L604.0 557.2L604.9 555.5L605.0 552.7L605.9 551.2L606.1 548.3L606.7 546.3L607.1 543.7L607.2 542.5L608.2 540.7L608.9 537.6L610.4 535.7L611.5 533.7L612.3 533.1L613.4 531.8L614.9 529.2L616.0 527.8L616.3 525.1L617.2 523.2L618.6 520.2L619.4 518.0L620.0 517.1L620.6 516.6L621.3 517.3L622.0 518.4L623.0 519.5L623.5 522.1L624.2 525.5L625.0 527.0L625.2 529.9L626.2 532.1L627.5 532.9L627.9 534.3L629.5 536.1L630.0 538.5L630.9 540.0L632.4 542.8L633.0 545.8L633.0 547.3L633.8 549.6L634.2 550.8L634.8 552.7L634.9 554.8L635.7 557.2L635.9 559.5L636.6 561.8L637.1 563.9L637.0 566.7L637.7 569.6L638.3 571.4L638.4 574.2L639.0 576.7L639.8 578.5L640.0 580.7L640.4 582.5L640.9 584.4L641.4 586.8L641.7 589.7L642.4 591.6L642.7 593.6L643.2 595.1L643.8 596.7L644.4 598.9L645.0 601.1L645.1 603.8L645.8 606.1L646.5 608.1L646.6 610.7L647.5 612.5L647.6 615.2L648.4 617.5L649.0 619.5L649.1 622.2L649.8 624.8L650.3 626.3L650.7 628.0L651.0 630.7L651.3 632.1L652.3 634.2L652.9 635.4L653.8 638.5L655.1 641.5L656.1 643.7L657.6 646.2L658.8 647.8L659.7 648.5L661.2 647.6L661.6 646.9L663.0 645.7L663.1 645.1L664.1 642.8L664.7 640.7L665.9 637.3L666.0 634.8L667.3 632.9L667.8 630.1L668.1 628.2L668.6 625.6L669.7 624.0L670.1 622.9L670.3 621.1L670.7 619.1L671.2 616.8L671.4 614.2L672.2 612.4L672.1 609.9L672.4 607.7L673.3 605.4L673.4 603.6L673.5 602.6L673.9 600.0L674.2 598.4L674.7 596.1L675.2 592.2L675.1 590.2L675.7 587.9L676.1 585.4L676.4 584.5L676.9 581.9L676.8 580.1L677.2 577.4L677.6 576.1L678.0 573.5L678.3 571.4L678.7 568.5L679.4 567.3L680.0 564.6L680.4 562.7L680.6 560.9L681.2 557.8L681.7 556.5L682.1 553.2L682.2 551.8L682.4 548.9L683.4 546.2L684.0 544.4L683.8 541.9L684.4 539.4L684.9 536.8L685.8 535.6L686.0 533.4L686.4 530.2L686.7 528.4L687.5 526.4L687.6 524.1L688.1 523.0L688.5 520.8L688.7 518.6L689.9 515.3L690.3 512.5L691.0 511.1L691.4 508.1L692.3 505.8L692.3 504.9L692.8 503.3L693.5 501.4L694.4 499.4L696.4 498.1L698.4 495.4L700.7 496.6L702.8 497.3L703.5 498.6L704.1 499.8L704.7 501.7L705.3 502.8L705.8 506.4L706.6 507.9L707.2 510.7L708.3 514.1L708.8 516.1L709.0 517.9L709.5 518.8L709.9 521.3L710.2 522.9L711.0 525.0L711.7 527.0L712.0 529.9L712.5 532.4L713.0 534.7L713.7 537.9L713.6 540.1L714.3 541.5L714.9 543.4L714.9 545.2L715.0 547.9L715.8 550.4L715.9 552.4L716.2 553.6L716.5 556.8L716.8 558.3L717.3 560.2L717.4 563.2L718.2 565.0L718.8 567.9L719.1 569.3L719.4 572.1L719.3 574.3L720.0 576.3L720.1 579.3L720.6 581.7L720.9 583.6L721.4 586.5L721.8 588.4L722.2 590.5L723.0 593.3L723.4 594.7L723.7 596.4L724.2 598.7L724.7 601.2L724.9 603.0L725.2 605.0L725.9 607.7L726.5 610.1L726.3 611.7L727.2 614.1L727.7 616.3L728.4 618.8L728.9 621.6L729.2 624.0L729.3 626.6L729.6 628.2L730.3 630.4L731.1 633.9L731.5 635.9L731.7 638.0L732.0 639.6L732.6 641.8L733.3 643.5L733.2 645.4L734.1 646.1L734.9 650.4L736.3 653.5L736.9 654.3L737.9 655.6L739.6 655.7L740.8 656.8L742.5 655.5L744.6 654.5L746.4 651.4L746.5 650.9L747.5 649.2L747.8 647.2L748.8 646.1L749.2 644.5L749.4 641.4L750.1 640.0L750.9 635.9L751.7 632.3L751.5 631.7L752.0 629.2L752.7 627.7L753.1 625.6L753.5 623.0L753.6 621.2L753.9 620.0L754.3 617.9L754.4 615.1L755.2 612.6L755.7 610.6L755.4 607.9L756.1 606.5L756.7 604.0L756.4 601.6L756.9 599.4L757.6 596.5L757.6 594.2L758.5 591.6L759.0 590.1L759.4 588.0L759.8 585.6L759.7 583.5L760.1 581.4L760.5 579.4L760.6 576.4L761.3 574.7L761.4 572.0L761.9 571.2L762.0 569.0L762.5 565.8L763.1 564.9L763.0 561.6L763.7 559.5L763.9 557.8L764.1 555.6L765.1 553.0L765.0 551.9L765.6 549.4L766.2 546.8L766.4 543.8L766.7 540.9L767.0 539.2L767.7 536.9L768.3 534.8L768.6 532.9L769.0 529.9L769.8 528.6L769.7 526.0L770.0 523.5L770.6 521.6L771.4 520.4L771.4 518.1L771.8 515.9L772.8 513.1L773.5 510.8L773.7 507.3L774.3 505.4L775.4 503.8L775.3 502.1L775.9 499.6L776.6 499.2L777.6 496.6L779.0 493.9L779.7 492.2L781.4 492.3L782.7 492.9L783.9 493.0L785.4 495.0L787.1 497.0L788.2 499.8L788.5 501.3L789.2 503.4L790.0 504.5L790.0 506.6L790.9 508.6L791.4 511.2L791.3 513.4L791.8 515.6L792.8 518.4L792.9 521.0L793.4 524.5L794.1 525.5L794.2 528.2L794.6 530.8L795.4 532.0L795.2 534.4L795.8 536.2L796.1 538.3L796.5 540.3L797.2 543.1L797.6 544.9L798.0 546.4L797.7 548.3L798.3 550.6L798.7 553.9L799.1 555.8L799.6 558.4L799.9 560.5L800.5 562.8L800.7 564.7L801.5 567.1L801.3 569.4L801.7 570.6L802.0 573.9L802.8 575.6L803.2 577.0L803.4 578.9L803.7 581.4L804.5 583.7L804.3 586.0L804.9 587.4L805.5 589.5L805.8 591.9L806.1 593.8L806.4 596.4L806.9 598.0L807.5 600.0L807.4 603.1L807.8 604.5L808.3 607.5L808.7 609.2L809.1 611.9L809.2 614.8L809.5 616.0L810.2 618.7L810.6 620.5L810.6 622.4L811.2 624.9L811.6 626.5L811.9 628.4L812.6 630.6L812.6 632.4L813.4 634.6L813.9 637.0L814.0 638.3L814.6 642.0L815.4 644.2L816.3 647.6L817.1 649.3L817.9 652.0L818.6 654.8L819.4 656.1L820.7 657.7L821.1 658.6L822.4 659.3L823.7 658.8L824.5 658.0L825.5 656.3L826.7 653.8L827.5 650.3L829.1 646.3L829.6 644.8L829.9 643.6L830.9 641.1L831.4 639.5L831.9 638.6L831.8 636.0L832.4 633.9L832.8 631.8L833.8 629.5L833.9 627.2L834.7 625.0L835.0 622.6L835.7 618.9L836.5 618.1L836.5 615.6L837.1 613.3L837.6 611.1L838.0 608.9L838.3 607.1L838.2 605.9L838.5 603.4L839.2 601.6L839.3 599.5L840.0 597.3L840.1 594.8L840.7 593.0L840.5 590.6L841.0 588.2L841.1 585.4L842.1 582.8L842.2 581.5L842.7 578.2L843.3 576.5L843.5 574.0L843.4 572.0L844.0 569.4L844.6 567.1L845.1 565.7L845.1 563.2L845.6 560.7L846.1 558.8L846.0 557.2L846.5 554.9L846.5 552.8L846.8 549.8L847.3 547.7L847.9 546.1L848.4 543.9L848.3 541.7L848.6 539.4L849.2 538.5L849.9 534.5L850.5 532.9L850.5 530.3L851.4 527.1L851.6 525.9L852.2 523.6L852.5 521.0L853.1 518.8L853.7 516.4L853.9 514.3L854.5 513.0L854.4 510.7L855.2 508.1L855.5 507.2L856.1 505.6L857.4 501.7L858.2 499.3L858.9 496.9L860.1 495.6L861.0 493.5L862.1 493.1L862.6 492.7L864.4 492.5L865.5 493.9L866.6 495.3L867.3 496.4L868.2 500.1L869.9 502.4L870.2 503.8L870.7 506.4L871.6 507.2L872.1 508.8L872.6 511.4L872.9 513.0L873.9 514.1L874.1 517.0L874.5 519.7L875.4 522.2L875.9 524.6L876.3 527.8L877.2 529.3L877.5 531.4L877.8 532.7L878.0 535.4L878.2 537.3L878.8 539.0L879.1 540.8L879.4 543.1L879.9 544.9L880.0 547.4L880.5 549.9L880.4 551.4L881.4 554.2L881.7 556.0L881.5 558.8L882.0 561.1L882.3 562.6L882.9 564.8L883.0 568.1L883.5 570.2L884.0 572.8L884.4 574.9L885.2 577.2L885.2 579.2L885.2 580.5L886.2 582.9L886.4 585.1L886.7 587.4L887.0 588.5L887.2 590.5L887.4 593.6L888.2 594.6L888.4 597.2L889.0 599.1L889.5 601.6L889.3 603.6L890.1 605.3L890.3 608.6L891.1 610.0L891.7 613.0L891.7 616.0L892.3 617.6L892.7 620.2L893.5 622.2L893.8 623.8L894.4 626.7L894.6 629.6L895.0 631.0L895.4 633.5L896.3 635.0L896.5 637.0L896.8 638.2L897.2 641.2L897.9 642.6L898.6 644.4L899.7 648.0L900.6 650.7L901.7 652.8L902.9 654.8L903.8 655.8L904.8 655.8L905.7 656.2L906.6 656.0L907.8 653.6L908.1 652.3L908.8 650.9L909.4 647.3L910.4 645.5L910.7 641.2L911.9 639.1L912.4 636.8L912.6 634.5L913.1 632.6L913.5 631.3L914.0 628.5L914.5 627.1L915.0 624.3L915.3 623.1L915.7 620.9L916.0 618.5L917.0 615.1L917.0 613.3L917.4 611.5L917.8 607.9L918.9 605.9L919.3 604.3L919.4 601.5L919.6 599.9L920.0 597.8L920.2 595.3L921.1 592.7L921.2 591.5L921.4 589.5L922.1 587.3L922.4 585.8L922.9 583.4L922.8 580.5L923.5 579.3L923.8 576.6L923.9 575.1L924.6 572.6L924.8 570.8L925.5 567.8L925.5 566.0L926.5 562.6L926.7 561.3L926.7 559.0L927.3 556.7L927.4 554.3L928.2 552.4L928.6 550.1L928.6 547.1L928.9 544.9L929.2 542.9L930.2 541.6L930.0 539.7L930.8 537.7L931.2 535.3L931.1 533.0L931.7 531.0L932.5 530.3L933.2 527.0L933.9 524.2L934.5 520.8L934.9 519.7L935.6 518.2L936.3 515.9L937.0 514.8L938.3 512.7L939.3 510.8L940.2 507.9L941.7 504.8L942.9 502.1L944.5 501.4L945.8 500.3L947.4 500.1L948.2 500.8L949.4 502.4L950.1 504.5L950.6 506.5L951.4 509.4L952.3 511.9L952.6 515.7L953.8 517.5L954.2 520.1L954.5 521.0" fill="none" stroke="#000" stroke-width="6.5" stroke-linejoin="round" stroke-linecap="butt"/>
</g>
<text transform="translate(179.3 608.3) rotate(90)" font-size="34.6" fill="#858585" text-anchor="start">201.55</text>
<text x="679" y="104" font-size="32" fill="#1010c0"><tspan font-style="italic">d</tspan>o*</text>
<text x="721" y="509.5" font-size="32" fill="#1a1a1a"><tspan font-style="italic">y</tspan>o*</text>
<text x="841" y="607.5" font-size="32" fill="#d01820"><tspan font-style="italic">x</tspan>o*</text>
<rect x="1279" y="166.3" width="86" height="541.8" fill="#7aeeb2" stroke="#5adcd0" stroke-width="1"/>
<line x1="1278.3" y1="92.0" x2="1278.3" y2="708.1" stroke="#3a3a3a" stroke-width="1.5" stroke-dasharray="2.2 2.7"/>
<line x1="1364.8" y1="100.0" x2="1364.8" y2="708.1" stroke="#3a3a3a" stroke-width="1.5" stroke-dasharray="2.2 2.7"/>
<rect x="1217.4" y="444.6" width="5.6" height="263.5" fill="#c2c2c2"/>
<line x1="1217.8" y1="444.6" x2="1217.8" y2="708.1" stroke="#444" stroke-width="1.3" stroke-dasharray="2 1.6"/>
<line x1="1222.6" y1="444.6" x2="1222.6" y2="708.1" stroke="#444" stroke-width="1.3" stroke-dasharray="2 1.6"/>
<text transform="translate(1310.3 387.8) rotate(-90)" font-size="34.6" fill="#6f9782" text-anchor="start">230.46</text>
<text transform="translate(1334.0 296.0) rotate(90)" font-size="34.6" fill="#6f9782" text-anchor="start">274.15</text>
<text transform="translate(1207.3 551.3) rotate(-90)" font-size="34.6" fill="#858585" text-anchor="start">200.65</text>
<rect x="1179.8" y="64.6" width="823.5" height="643.5" fill="none" stroke="#404040" stroke-width="1.6"/>
<path d="M1218.5 64.6v11 M1218.5 708.1v-11" stroke="#404040" stroke-width="1.6"/>
<text x="1218.5" y="748.4" font-size="37.7" fill="#1a1a1a" text-anchor="middle">200</text>
<path d="M1316.6 64.6v11 M1316.6 708.1v-11" stroke="#404040" stroke-width="1.6"/>
<text x="1316.6" y="748.4" font-size="37.7" fill="#1a1a1a" text-anchor="middle">250</text>
<path d="M1414.7 64.6v11 M1414.7 708.1v-11" stroke="#404040" stroke-width="1.6"/>
<text x="1414.7" y="748.4" font-size="37.7" fill="#1a1a1a" text-anchor="middle">300</text>
<path d="M1512.8 64.6v11 M1512.8 708.1v-11" stroke="#404040" stroke-width="1.6"/>
<text x="1512.8" y="748.4" font-size="37.7" fill="#1a1a1a" text-anchor="middle">350</text>
<path d="M1610.8 64.6v11 M1610.8 708.1v-11" stroke="#404040" stroke-width="1.6"/>
<text x="1610.8" y="748.4" font-size="37.7" fill="#1a1a1a" text-anchor="middle">400</text>
<path d="M1708.9 64.6v11 M1708.9 708.1v-11" stroke="#404040" stroke-width="1.6"/>
<text x="1708.9" y="748.4" font-size="37.7" fill="#1a1a1a" text-anchor="middle">450</text>
<path d="M1807.0 64.6v11 M1807.0 708.1v-11" stroke="#404040" stroke-width="1.6"/>
<text x="1807.0" y="748.4" font-size="37.7" fill="#1a1a1a" text-anchor="middle">500</text>
<path d="M1905.1 64.6v11 M1905.1 708.1v-11" stroke="#404040" stroke-width="1.6"/>
<text x="1905.1" y="748.4" font-size="37.7" fill="#1a1a1a" text-anchor="middle">550</text>
<text x="2003.2" y="748.4" font-size="37.7" fill="#1a1a1a" text-anchor="middle">600</text>
<path d="M1179.8 610.0h11 M2003.3 610.0h-11" stroke="#404040" stroke-width="1.6"/>
<text x="1168" y="621.7" font-size="37.7" fill="#1a1a1a" text-anchor="end">0</text>
<path d="M1179.8 500.9h11 M2003.3 500.9h-11" stroke="#404040" stroke-width="1.6"/>
<text x="1168" y="512.6" font-size="37.7" fill="#1a1a1a" text-anchor="end">100</text>
<path d="M1179.8 391.8h11 M2003.3 391.8h-11" stroke="#404040" stroke-width="1.6"/>
<text x="1168" y="403.5" font-size="37.7" fill="#1a1a1a" text-anchor="end">200</text>
<path d="M1179.8 282.7h11 M2003.3 282.7h-11" stroke="#404040" stroke-width="1.6"/>
<text x="1168" y="294.4" font-size="37.7" fill="#1a1a1a" text-anchor="end">300</text>
<path d="M1179.8 173.6h11 M2003.3 173.6h-11" stroke="#404040" stroke-width="1.6"/>
<text x="1168" y="185.3" font-size="37.7" fill="#1a1a1a" text-anchor="end">400</text>
<text x="1168" y="76.2" font-size="37.7" fill="#1a1a1a" text-anchor="end">500</text>
<text x="1173.5" y="588" font-size="37.7" fill="#1010c0" text-anchor="end">50</text>
<text x="1584" y="790.5" font-size="39.8" fill="#1a1a1a" text-anchor="middle">Time (ps)</text>
<text transform="translate(1093.0 385.0) rotate(-90)" font-size="38.8" fill="#1a1a1a" text-anchor="middle">Deflection (Å)</text>
<text y="42" font-size="39.4" fill="#1a1a1a"><tspan x="1304.3" fill="#1010c0">(b)</tspan><tspan x="1360" font-style="italic">v</tspan><tspan x="1376.5" font-size="23" dy="14.5">In</tspan><tspan x="1396" dy="-14.5">=55Å/ps</tspan><tspan x="1539.2">/</tspan><tspan x="1556" font-style="italic">θ</tspan><tspan x="1581.8">=90°/(10,0)/T=100K</tspan></text>
<rect x="1433.5" y="236.4" width="559.5" height="211.3" fill="#fff" stroke="#333" stroke-width="1.2"/>
<text y="222.6" font-size="30.5" fill="#1a1a1a"><tspan x="1427.5" fill="#bcbcbc">20</tspan>0.65ps<tspan x="1571">0.75</tspan><tspan x="1679">0.95</tspan><tspan x="1803">1.05</tspan><tspan x="1910">1.25</tspan></text>
<ellipse cx="1483.2" cy="342.8" rx="29.5" ry="33.1" fill="#0a0ac0"/><circle cx="1457.8" cy="322.6" r="4.5" fill="url(#gb)"/><circle cx="1508.6" cy="322.6" r="4.5" fill="url(#gb)"/><circle cx="1463.3" cy="316.7" r="5.8" fill="url(#gb)"/><circle cx="1503.1" cy="316.7" r="5.8" fill="url(#gb)"/><circle cx="1470.2" cy="310.8" r="4.5" fill="url(#gb)"/><circle cx="1496.2" cy="310.8" r="4.5" fill="url(#gb)"/><circle cx="1483.2" cy="309.7" r="5.5" fill="url(#gb)"/><circle cx="1474.6" cy="314.1" r="7.2" fill="url(#gp)"/><circle cx="1491.8" cy="314.1" r="7.2" fill="url(#gp)"/><circle cx="1457.8" cy="363.0" r="4.5" fill="url(#gb)"/><circle cx="1508.6" cy="363.0" r="4.5" fill="url(#gb)"/><circle cx="1463.3" cy="368.9" r="5.8" fill="url(#gb)"/><circle cx="1503.1" cy="368.9" r="5.8" fill="url(#gb)"/><circle cx="1470.2" cy="374.8" r="4.5" fill="url(#gb)"/><circle cx="1496.2" cy="374.8" r="4.5" fill="url(#gb)"/><circle cx="1483.2" cy="375.9" r="5.5" fill="url(#gb)"/><circle cx="1474.6" cy="371.5" r="7.2" fill="url(#gp)"/><circle cx="1491.8" cy="371.5" r="7.2" fill="url(#gp)"/><circle cx="1508.0" cy="352.8" r="8.7" fill="url(#gg)"/><circle cx="1457.5" cy="350.1" r="8.7" fill="url(#gg)"/><circle cx="1509.5" cy="338.3" r="8.7" fill="url(#gg)"/><circle cx="1461.2" cy="326.5" r="8.7" fill="url(#gg)"/><circle cx="1503.2" cy="361.9" r="8.7" fill="url(#gg)"/><circle cx="1503.1" cy="323.7" r="8.7" fill="url(#gg)"/><circle cx="1457.0" cy="341.1" r="8.7" fill="url(#gg)"/><circle cx="1508.8" cy="347.3" r="8.7" fill="url(#gg)"/><circle cx="1460.3" cy="355.6" r="8.7" fill="url(#gg)"/><circle cx="1506.5" cy="332.8" r="8.7" fill="url(#gg)"/><circle cx="1460.2" cy="332.1" r="8.7" fill="url(#gg)"/><circle cx="1504.4" cy="356.3" r="8.7" fill="url(#gg)"/><circle cx="1467.0" cy="323.1" r="8.7" fill="url(#gg)"/><circle cx="1466.7" cy="361.2" r="8.7" fill="url(#gg)"/><circle cx="1460.2" cy="346.6" r="8.7" fill="url(#gg)"/><circle cx="1505.4" cy="341.8" r="8.7" fill="url(#gg)"/><circle cx="1500.1" cy="327.2" r="8.7" fill="url(#gg)"/><circle cx="1492.0" cy="321.7" r="8.7" fill="url(#gg)"/><circle cx="1463.6" cy="337.6" r="8.7" fill="url(#gg)"/><circle cx="1501.0" cy="350.8" r="8.7" fill="url(#gg)"/><circle cx="1494.6" cy="359.8" r="8.7" fill="url(#gg)"/><circle cx="1469.5" cy="328.6" r="8.7" fill="url(#gg)"/><circle cx="1483.0" cy="363.2" r="8.7" fill="url(#gg)"/><circle cx="1466.7" cy="352.2" r="8.7" fill="url(#gg)"/><circle cx="1498.6" cy="336.2" r="8.7" fill="url(#gg)"/><circle cx="1481.8" cy="325.1" r="8.7" fill="url(#gg)"/><circle cx="1475.1" cy="357.7" r="8.7" fill="url(#gg)"/><circle cx="1490.0" cy="330.7" r="8.7" fill="url(#gg)"/><circle cx="1470.5" cy="343.1" r="8.7" fill="url(#gg)"/><circle cx="1488.1" cy="354.2" r="8.7" fill="url(#gg)"/><circle cx="1494.0" cy="345.2" r="8.7" fill="url(#gg)"/><circle cx="1476.2" cy="334.1" r="8.7" fill="url(#gg)"/><circle cx="1479.4" cy="348.7" r="8.7" fill="url(#gg)"/><circle cx="1485.0" cy="339.7" r="8.7" fill="url(#gg)"/>
<g clip-path="url(#cR)"><ellipse cx="1482.9" cy="249.0" rx="28.2" ry="28.2" fill="#020202"/><circle cx="1494.4" cy="270.0" r="6.8" fill="url(#gk)"/><circle cx="1505.2" cy="257.9" r="6.8" fill="url(#gk)"/><circle cx="1459.7" cy="255.6" r="6.8" fill="url(#gk)"/><circle cx="1491.1" cy="226.3" r="6.8" fill="url(#gk)"/><circle cx="1506.9" cy="245.8" r="6.8" fill="url(#gk)"/><circle cx="1462.5" cy="236.1" r="6.8" fill="url(#gk)"/><circle cx="1486.5" cy="272.9" r="6.8" fill="url(#gk)"/><circle cx="1467.7" cy="267.7" r="6.8" fill="url(#gk)"/><circle cx="1500.6" cy="265.4" r="6.8" fill="url(#gk)"/><circle cx="1501.5" cy="233.8" r="6.8" fill="url(#gk)"/><circle cx="1477.1" cy="272.3" r="6.8" fill="url(#gk)"/><circle cx="1470.4" cy="228.6" r="6.8" fill="url(#gk)"/><circle cx="1459.1" cy="248.1" r="6.8" fill="url(#gk)"/><circle cx="1478.5" cy="225.7" r="6.8" fill="url(#gk)"/><circle cx="1506.1" cy="253.3" r="6.8" fill="url(#gk)"/><circle cx="1495.1" cy="229.2" r="6.8" fill="url(#gk)"/><circle cx="1462.5" cy="260.2" r="6.8" fill="url(#gk)"/><circle cx="1504.4" cy="241.2" r="6.8" fill="url(#gk)"/><circle cx="1461.9" cy="240.7" r="6.8" fill="url(#gk)"/><circle cx="1494.5" cy="268.3" r="6.8" fill="url(#gk)"/><circle cx="1502.0" cy="260.8" r="6.8" fill="url(#gk)"/><circle cx="1486.2" cy="271.2" r="6.8" fill="url(#gk)"/><circle cx="1467.9" cy="233.2" r="6.8" fill="url(#gk)"/><circle cx="1484.7" cy="227.4" r="6.8" fill="url(#gk)"/><circle cx="1476.0" cy="269.4" r="6.8" fill="url(#gk)"/><circle cx="1468.4" cy="264.8" r="6.8" fill="url(#gk)"/><circle cx="1462.2" cy="252.7" r="6.8" fill="url(#gk)"/><circle cx="1503.3" cy="248.7" r="6.8" fill="url(#gk)"/><circle cx="1498.8" cy="236.6" r="6.8" fill="url(#gk)"/><circle cx="1477.0" cy="230.3" r="6.8" fill="url(#gk)"/><circle cx="1491.4" cy="232.0" r="6.8" fill="url(#gk)"/><circle cx="1465.3" cy="245.3" r="6.8" fill="url(#gk)"/><circle cx="1493.3" cy="263.7" r="6.8" fill="url(#gk)"/><circle cx="1499.2" cy="256.2" r="6.8" fill="url(#gk)"/><circle cx="1483.0" cy="266.5" r="6.8" fill="url(#gk)"/><circle cx="1468.4" cy="257.3" r="6.8" fill="url(#gk)"/><circle cx="1470.6" cy="237.8" r="6.8" fill="url(#gk)"/><circle cx="1497.3" cy="244.1" r="6.8" fill="url(#gk)"/><circle cx="1476.0" cy="261.9" r="6.8" fill="url(#gk)"/><circle cx="1482.0" cy="234.9" r="6.8" fill="url(#gk)"/><circle cx="1489.5" cy="239.5" r="6.8" fill="url(#gk)"/><circle cx="1471.7" cy="249.9" r="6.8" fill="url(#gk)"/><circle cx="1487.7" cy="259.1" r="6.8" fill="url(#gk)"/><circle cx="1493.1" cy="251.6" r="6.8" fill="url(#gk)"/><circle cx="1476.8" cy="242.4" r="6.8" fill="url(#gk)"/><circle cx="1479.9" cy="254.5" r="6.8" fill="url(#gk)"/><circle cx="1485.0" cy="247.0" r="6.8" fill="url(#gk)"/></g>
<ellipse cx="1591.3" cy="344.0" rx="29.1" ry="30.9" fill="#0a0ac0"/><circle cx="1566.3" cy="325.1" r="4.4" fill="url(#gb)"/><circle cx="1616.3" cy="325.1" r="4.4" fill="url(#gb)"/><circle cx="1571.7" cy="319.6" r="5.7" fill="url(#gb)"/><circle cx="1610.9" cy="319.6" r="5.7" fill="url(#gb)"/><circle cx="1578.5" cy="314.2" r="4.4" fill="url(#gb)"/><circle cx="1604.1" cy="314.2" r="4.4" fill="url(#gb)"/><circle cx="1591.3" cy="313.1" r="5.4" fill="url(#gb)"/><circle cx="1582.8" cy="317.2" r="7.1" fill="url(#gp)"/><circle cx="1599.8" cy="317.2" r="7.1" fill="url(#gp)"/><circle cx="1566.3" cy="362.9" r="4.4" fill="url(#gb)"/><circle cx="1616.3" cy="362.9" r="4.4" fill="url(#gb)"/><circle cx="1571.7" cy="368.4" r="5.7" fill="url(#gb)"/><circle cx="1610.9" cy="368.4" r="5.7" fill="url(#gb)"/><circle cx="1578.5" cy="373.8" r="4.4" fill="url(#gb)"/><circle cx="1604.1" cy="373.8" r="4.4" fill="url(#gb)"/><circle cx="1591.3" cy="374.9" r="5.4" fill="url(#gb)"/><circle cx="1582.8" cy="370.8" r="7.1" fill="url(#gp)"/><circle cx="1599.8" cy="370.8" r="7.1" fill="url(#gp)"/><circle cx="1572.2" cy="325.9" r="8.6" fill="url(#gg)"/><circle cx="1609.2" cy="363.4" r="8.6" fill="url(#gg)"/><circle cx="1612.5" cy="328.4" r="8.6" fill="url(#gg)"/><circle cx="1571.0" cy="360.9" r="8.6" fill="url(#gg)"/><circle cx="1616.8" cy="350.0" r="8.6" fill="url(#gg)"/><circle cx="1565.5" cy="339.2" r="8.6" fill="url(#gg)"/><circle cx="1616.2" cy="336.7" r="8.6" fill="url(#gg)"/><circle cx="1566.8" cy="352.6" r="8.6" fill="url(#gg)"/><circle cx="1612.8" cy="358.3" r="8.6" fill="url(#gg)"/><circle cx="1569.1" cy="331.0" r="8.6" fill="url(#gg)"/><circle cx="1615.7" cy="345.0" r="8.6" fill="url(#gg)"/><circle cx="1566.9" cy="344.3" r="8.6" fill="url(#gg)"/><circle cx="1571.6" cy="357.7" r="8.6" fill="url(#gg)"/><circle cx="1611.7" cy="331.6" r="8.6" fill="url(#gg)"/><circle cx="1611.8" cy="353.2" r="8.6" fill="url(#gg)"/><circle cx="1570.5" cy="336.0" r="8.6" fill="url(#gg)"/><circle cx="1579.1" cy="362.8" r="8.6" fill="url(#gg)"/><circle cx="1605.1" cy="361.5" r="8.6" fill="url(#gg)"/><circle cx="1604.4" cy="326.5" r="8.6" fill="url(#gg)"/><circle cx="1576.9" cy="327.8" r="8.6" fill="url(#gg)"/><circle cx="1572.1" cy="349.4" r="8.6" fill="url(#gg)"/><circle cx="1610.8" cy="339.9" r="8.6" fill="url(#gg)"/><circle cx="1587.8" cy="324.6" r="8.6" fill="url(#gg)"/><circle cx="1606.7" cy="348.1" r="8.6" fill="url(#gg)"/><circle cx="1575.9" cy="341.1" r="8.6" fill="url(#gg)"/><circle cx="1588.2" cy="359.6" r="8.6" fill="url(#gg)"/><circle cx="1579.8" cy="354.5" r="8.6" fill="url(#gg)"/><circle cx="1600.8" cy="356.4" r="8.6" fill="url(#gg)"/><circle cx="1603.2" cy="334.8" r="8.6" fill="url(#gg)"/><circle cx="1581.7" cy="332.9" r="8.6" fill="url(#gg)"/><circle cx="1594.7" cy="329.7" r="8.6" fill="url(#gg)"/><circle cx="1584.1" cy="346.2" r="8.6" fill="url(#gg)"/><circle cx="1598.7" cy="343.0" r="8.6" fill="url(#gg)"/><circle cx="1593.1" cy="351.3" r="8.6" fill="url(#gg)"/><circle cx="1589.7" cy="338.0" r="8.6" fill="url(#gg)"/>
<ellipse cx="1592.2" cy="283.5" rx="28.8" ry="27.4" fill="#020202"/><circle cx="1594.4" cy="260.3" r="6.6" fill="url(#gk)"/><circle cx="1616.3" cy="289.4" r="6.6" fill="url(#gk)"/><circle cx="1567.5" cy="287.1" r="6.6" fill="url(#gk)"/><circle cx="1585.7" cy="306.2" r="6.6" fill="url(#gk)"/><circle cx="1573.3" cy="268.1" r="6.6" fill="url(#gk)"/><circle cx="1616.4" cy="277.6" r="6.6" fill="url(#gk)"/><circle cx="1573.3" cy="298.9" r="6.6" fill="url(#gk)"/><circle cx="1585.7" cy="260.8" r="6.6" fill="url(#gk)"/><circle cx="1612.8" cy="296.7" r="6.6" fill="url(#gk)"/><circle cx="1608.5" cy="265.9" r="6.6" fill="url(#gk)"/><circle cx="1594.6" cy="306.7" r="6.6" fill="url(#gk)"/><circle cx="1567.7" cy="279.9" r="6.6" fill="url(#gk)"/><circle cx="1603.9" cy="303.9" r="6.6" fill="url(#gk)"/><circle cx="1599.6" cy="261.4" r="6.6" fill="url(#gk)"/><circle cx="1579.9" cy="303.4" r="6.6" fill="url(#gk)"/><circle cx="1616.4" cy="284.9" r="6.6" fill="url(#gk)"/><circle cx="1569.6" cy="291.6" r="6.6" fill="url(#gk)"/><circle cx="1571.4" cy="272.6" r="6.6" fill="url(#gk)"/><circle cx="1613.0" cy="273.1" r="6.6" fill="url(#gk)"/><circle cx="1578.9" cy="265.3" r="6.6" fill="url(#gk)"/><circle cx="1589.8" cy="305.1" r="6.6" fill="url(#gk)"/><circle cx="1587.5" cy="262.5" r="6.6" fill="url(#gk)"/><circle cx="1613.0" cy="292.2" r="6.6" fill="url(#gk)"/><circle cx="1606.5" cy="299.5" r="6.6" fill="url(#gk)"/><circle cx="1570.1" cy="284.3" r="6.6" fill="url(#gk)"/><circle cx="1575.1" cy="296.1" r="6.6" fill="url(#gk)"/><circle cx="1598.9" cy="264.2" r="6.6" fill="url(#gk)"/><circle cx="1606.6" cy="268.7" r="6.6" fill="url(#gk)"/><circle cx="1612.7" cy="280.4" r="6.6" fill="url(#gk)"/><circle cx="1582.5" cy="300.6" r="6.6" fill="url(#gk)"/><circle cx="1597.0" cy="302.3" r="6.6" fill="url(#gk)"/><circle cx="1573.9" cy="277.1" r="6.6" fill="url(#gk)"/><circle cx="1579.9" cy="269.8" r="6.6" fill="url(#gk)"/><circle cx="1590.8" cy="267.0" r="6.6" fill="url(#gk)"/><circle cx="1609.0" cy="287.7" r="6.6" fill="url(#gk)"/><circle cx="1575.9" cy="288.8" r="6.6" fill="url(#gk)"/><circle cx="1603.4" cy="295.0" r="6.6" fill="url(#gk)"/><circle cx="1606.0" cy="275.9" r="6.6" fill="url(#gk)"/><circle cx="1591.6" cy="297.8" r="6.6" fill="url(#gk)"/><circle cx="1597.9" cy="271.5" r="6.6" fill="url(#gk)"/><circle cx="1583.8" cy="293.3" r="6.6" fill="url(#gk)"/><circle cx="1580.0" cy="281.5" r="6.6" fill="url(#gk)"/><circle cx="1585.5" cy="274.3" r="6.6" fill="url(#gk)"/><circle cx="1602.0" cy="283.2" r="6.6" fill="url(#gk)"/><circle cx="1596.6" cy="290.5" r="6.6" fill="url(#gk)"/><circle cx="1593.5" cy="278.7" r="6.6" fill="url(#gk)"/><circle cx="1588.2" cy="286.0" r="6.6" fill="url(#gk)"/>
<ellipse cx="1705.7" cy="359.8" rx="36.5" ry="25.0" fill="#0a0ac0"/><circle cx="1693.0" cy="384.8" r="3.8" fill="url(#gp)"/><circle cx="1718.5" cy="384.8" r="3.8" fill="url(#gp)"/><circle cx="1705.7" cy="385.7" r="3.8" fill="url(#gb)"/><circle cx="1683.6" cy="382.0" r="3.5" fill="url(#gb)"/><circle cx="1727.8" cy="382.0" r="3.5" fill="url(#gb)"/><circle cx="1671.3" cy="353.4" r="7.1" fill="url(#gg)"/><circle cx="1710.0" cy="381.1" r="7.1" fill="url(#gg)"/><circle cx="1701.1" cy="338.5" r="7.1" fill="url(#gg)"/><circle cx="1741.1" cy="355.4" r="7.1" fill="url(#gg)"/><circle cx="1734.5" cy="372.9" r="7.1" fill="url(#gg)"/><circle cx="1670.2" cy="364.2" r="7.1" fill="url(#gg)"/><circle cx="1731.5" cy="344.7" r="7.1" fill="url(#gg)"/><circle cx="1677.1" cy="346.7" r="7.1" fill="url(#gg)"/><circle cx="1719.8" cy="379.6" r="7.1" fill="url(#gg)"/><circle cx="1680.2" cy="374.9" r="7.1" fill="url(#gg)"/><circle cx="1692.0" cy="340.0" r="7.1" fill="url(#gg)"/><circle cx="1741.3" cy="362.1" r="7.1" fill="url(#gg)"/><circle cx="1720.6" cy="340.5" r="7.1" fill="url(#gg)"/><circle cx="1691.4" cy="379.1" r="7.1" fill="url(#gg)"/><circle cx="1670.7" cy="357.5" r="7.1" fill="url(#gg)"/><circle cx="1707.9" cy="339.0" r="7.1" fill="url(#gg)"/><circle cx="1737.7" cy="351.3" r="7.1" fill="url(#gg)"/><circle cx="1704.3" cy="380.6" r="7.1" fill="url(#gg)"/><circle cx="1736.5" cy="368.8" r="7.1" fill="url(#gg)"/><circle cx="1674.7" cy="368.3" r="7.1" fill="url(#gg)"/><circle cx="1726.5" cy="375.5" r="7.1" fill="url(#gg)"/><circle cx="1676.1" cy="350.8" r="7.1" fill="url(#gg)"/><circle cx="1686.2" cy="344.1" r="7.1" fill="url(#gg)"/><circle cx="1737.4" cy="358.0" r="7.1" fill="url(#gg)"/><circle cx="1729.4" cy="347.2" r="7.1" fill="url(#gg)"/><circle cx="1713.6" cy="378.0" r="7.1" fill="url(#gg)"/><circle cx="1699.4" cy="341.6" r="7.1" fill="url(#gg)"/><circle cx="1718.4" cy="343.1" r="7.1" fill="url(#gg)"/><circle cx="1683.6" cy="372.4" r="7.1" fill="url(#gg)"/><circle cx="1675.7" cy="361.6" r="7.1" fill="url(#gg)"/><circle cx="1694.8" cy="376.5" r="7.1" fill="url(#gg)"/><circle cx="1732.3" cy="364.7" r="7.1" fill="url(#gg)"/><circle cx="1723.9" cy="371.4" r="7.1" fill="url(#gg)"/><circle cx="1681.3" cy="354.9" r="7.1" fill="url(#gg)"/><circle cx="1689.8" cy="348.2" r="7.1" fill="url(#gg)"/><circle cx="1728.7" cy="353.9" r="7.1" fill="url(#gg)"/><circle cx="1707.6" cy="373.9" r="7.1" fill="url(#gg)"/><circle cx="1706.2" cy="345.7" r="7.1" fill="url(#gg)"/><circle cx="1685.2" cy="365.7" r="7.1" fill="url(#gg)"/><circle cx="1717.3" cy="349.8" r="7.1" fill="url(#gg)"/><circle cx="1696.8" cy="369.8" r="7.1" fill="url(#gg)"/><circle cx="1723.2" cy="360.6" r="7.1" fill="url(#gg)"/><circle cx="1715.3" cy="367.2" r="7.1" fill="url(#gg)"/><circle cx="1691.1" cy="359.0" r="7.1" fill="url(#gg)"/><circle cx="1699.0" cy="352.4" r="7.1" fill="url(#gg)"/><circle cx="1711.2" cy="356.5" r="7.1" fill="url(#gg)"/><circle cx="1703.4" cy="363.1" r="7.1" fill="url(#gg)"/>
<circle cx="1688.0" cy="349.5" r="4.2" fill="url(#gb)"/><circle cx="1694.3" cy="351.0" r="4.2" fill="url(#gp)"/><circle cx="1700.7" cy="349.5" r="4.2" fill="url(#gb)"/><circle cx="1707.0" cy="351.0" r="4.2" fill="url(#gp)"/><circle cx="1713.3" cy="349.5" r="4.2" fill="url(#gb)"/><circle cx="1719.7" cy="351.0" r="4.2" fill="url(#gp)"/><circle cx="1726.0" cy="349.5" r="4.2" fill="url(#gb)"/>
<ellipse cx="1707.8" cy="319.6" rx="28.1" ry="28.8" fill="#020202"/><circle cx="1686.7" cy="308.0" r="6.8" fill="url(#gk)"/><circle cx="1701.7" cy="295.6" r="6.8" fill="url(#gk)"/><circle cx="1711.1" cy="295.0" r="6.8" fill="url(#gk)"/><circle cx="1695.0" cy="340.6" r="6.8" fill="url(#gk)"/><circle cx="1730.2" cy="310.4" r="6.8" fill="url(#gk)"/><circle cx="1716.0" cy="343.0" r="6.8" fill="url(#gk)"/><circle cx="1683.7" cy="320.5" r="6.8" fill="url(#gk)"/><circle cx="1729.4" cy="330.6" r="6.8" fill="url(#gk)"/><circle cx="1692.6" cy="300.3" r="6.8" fill="url(#gk)"/><circle cx="1719.7" cy="298.0" r="6.8" fill="url(#gk)"/><circle cx="1687.6" cy="332.9" r="6.8" fill="url(#gk)"/><circle cx="1708.4" cy="344.2" r="6.8" fill="url(#gk)"/><circle cx="1723.2" cy="338.3" r="6.8" fill="url(#gk)"/><circle cx="1731.4" cy="318.1" r="6.8" fill="url(#gk)"/><circle cx="1685.1" cy="312.8" r="6.8" fill="url(#gk)"/><circle cx="1726.8" cy="305.7" r="6.8" fill="url(#gk)"/><circle cx="1699.1" cy="297.4" r="6.8" fill="url(#gk)"/><circle cx="1712.1" cy="296.2" r="6.8" fill="url(#gk)"/><circle cx="1701.3" cy="342.4" r="6.8" fill="url(#gk)"/><circle cx="1693.1" cy="337.7" r="6.8" fill="url(#gk)"/><circle cx="1685.7" cy="325.2" r="6.8" fill="url(#gk)"/><circle cx="1690.0" cy="305.1" r="6.8" fill="url(#gk)"/><circle cx="1715.8" cy="341.2" r="6.8" fill="url(#gk)"/><circle cx="1729.3" cy="325.8" r="6.8" fill="url(#gk)"/><circle cx="1720.3" cy="300.9" r="6.8" fill="url(#gk)"/><circle cx="1724.1" cy="333.5" r="6.8" fill="url(#gk)"/><circle cx="1727.9" cy="313.4" r="6.8" fill="url(#gk)"/><circle cx="1687.4" cy="317.5" r="6.8" fill="url(#gk)"/><circle cx="1707.6" cy="299.2" r="6.8" fill="url(#gk)"/><circle cx="1690.9" cy="330.0" r="6.8" fill="url(#gk)"/><circle cx="1705.2" cy="339.4" r="6.8" fill="url(#gk)"/><circle cx="1698.4" cy="302.1" r="6.8" fill="url(#gk)"/><circle cx="1692.0" cy="309.8" r="6.8" fill="url(#gk)"/><circle cx="1714.5" cy="336.5" r="6.8" fill="url(#gk)"/><circle cx="1725.4" cy="321.1" r="6.8" fill="url(#gk)"/><circle cx="1698.1" cy="334.7" r="6.8" fill="url(#gk)"/><circle cx="1721.5" cy="308.6" r="6.8" fill="url(#gk)"/><circle cx="1714.0" cy="303.9" r="6.8" fill="url(#gk)"/><circle cx="1720.5" cy="328.8" r="6.8" fill="url(#gk)"/><circle cx="1693.1" cy="322.3" r="6.8" fill="url(#gk)"/><circle cx="1703.1" cy="306.9" r="6.8" fill="url(#gk)"/><circle cx="1708.6" cy="331.7" r="6.8" fill="url(#gk)"/><circle cx="1697.6" cy="314.6" r="6.8" fill="url(#gk)"/><circle cx="1718.6" cy="316.3" r="6.8" fill="url(#gk)"/><circle cx="1700.7" cy="327.0" r="6.8" fill="url(#gk)"/><circle cx="1710.5" cy="311.6" r="6.8" fill="url(#gk)"/><circle cx="1713.7" cy="324.0" r="6.8" fill="url(#gk)"/><circle cx="1705.5" cy="319.3" r="6.8" fill="url(#gk)"/>
<ellipse cx="1830.7" cy="376.0" rx="34.4" ry="31.1" fill="#0a0ac0"/><circle cx="1818.7" cy="407.1" r="4.7" fill="url(#gp)"/><circle cx="1842.7" cy="407.1" r="4.7" fill="url(#gp)"/><circle cx="1830.7" cy="408.2" r="4.7" fill="url(#gb)"/><circle cx="1809.9" cy="403.7" r="4.4" fill="url(#gb)"/><circle cx="1851.5" cy="403.7" r="4.4" fill="url(#gb)"/><circle cx="1855.4" cy="359.1" r="8.8" fill="url(#gg)"/><circle cx="1798.8" cy="378.2" r="8.8" fill="url(#gg)"/><circle cx="1816.4" cy="400.0" r="8.8" fill="url(#gg)"/><circle cx="1862.3" cy="380.8" r="8.8" fill="url(#gg)"/><circle cx="1808.5" cy="356.5" r="8.8" fill="url(#gg)"/><circle cx="1835.7" cy="402.5" r="8.8" fill="url(#gg)"/><circle cx="1804.5" cy="391.7" r="8.8" fill="url(#gg)"/><circle cx="1861.2" cy="367.4" r="8.8" fill="url(#gg)"/><circle cx="1799.5" cy="369.9" r="8.8" fill="url(#gg)"/><circle cx="1848.7" cy="354.0" r="8.8" fill="url(#gg)"/><circle cx="1858.5" cy="389.1" r="8.8" fill="url(#gg)"/><circle cx="1824.3" cy="401.9" r="8.8" fill="url(#gg)"/><circle cx="1848.8" cy="397.4" r="8.8" fill="url(#gg)"/><circle cx="1800.6" cy="383.3" r="8.8" fill="url(#gg)"/><circle cx="1811.7" cy="396.8" r="8.8" fill="url(#gg)"/><circle cx="1826.9" cy="350.1" r="8.8" fill="url(#gg)"/><circle cx="1804.9" cy="361.6" r="8.8" fill="url(#gg)"/><circle cx="1815.9" cy="353.3" r="8.8" fill="url(#gg)"/><circle cx="1861.6" cy="375.7" r="8.8" fill="url(#gg)"/><circle cx="1838.4" cy="400.6" r="8.8" fill="url(#gg)"/><circle cx="1856.0" cy="362.3" r="8.8" fill="url(#gg)"/><circle cx="1837.0" cy="352.0" r="8.8" fill="url(#gg)"/><circle cx="1801.8" cy="375.0" r="8.8" fill="url(#gg)"/><circle cx="1857.7" cy="384.0" r="8.8" fill="url(#gg)"/><circle cx="1807.0" cy="388.5" r="8.8" fill="url(#gg)"/><circle cx="1847.2" cy="357.2" r="8.8" fill="url(#gg)"/><circle cx="1825.9" cy="398.7" r="8.8" fill="url(#gg)"/><circle cx="1850.0" cy="392.3" r="8.8" fill="url(#gg)"/><circle cx="1856.1" cy="370.6" r="8.8" fill="url(#gg)"/><circle cx="1807.1" cy="366.7" r="8.8" fill="url(#gg)"/><circle cx="1815.4" cy="358.4" r="8.8" fill="url(#gg)"/><circle cx="1816.4" cy="393.6" r="8.8" fill="url(#gg)"/><circle cx="1828.4" cy="355.2" r="8.8" fill="url(#gg)"/><circle cx="1837.0" cy="395.5" r="8.8" fill="url(#gg)"/><circle cx="1808.7" cy="380.2" r="8.8" fill="url(#gg)"/><circle cx="1851.8" cy="378.9" r="8.8" fill="url(#gg)"/><circle cx="1847.1" cy="365.5" r="8.8" fill="url(#gg)"/><circle cx="1836.8" cy="360.3" r="8.8" fill="url(#gg)"/><circle cx="1844.8" cy="387.2" r="8.8" fill="url(#gg)"/><circle cx="1821.4" cy="363.5" r="8.8" fill="url(#gg)"/><circle cx="1829.0" cy="390.4" r="8.8" fill="url(#gg)"/><circle cx="1814.1" cy="371.8" r="8.8" fill="url(#gg)"/><circle cx="1818.6" cy="385.3" r="8.8" fill="url(#gg)"/><circle cx="1842.3" cy="373.8" r="8.8" fill="url(#gg)"/><circle cx="1831.3" cy="368.7" r="8.8" fill="url(#gg)"/><circle cx="1835.5" cy="382.1" r="8.8" fill="url(#gg)"/><circle cx="1824.4" cy="377.0" r="8.8" fill="url(#gg)"/>
<circle cx="1811.0" cy="355.5" r="4.7" fill="url(#gb)"/><circle cx="1818.3" cy="357.0" r="4.7" fill="url(#gp)"/><circle cx="1825.7" cy="355.5" r="4.7" fill="url(#gb)"/><circle cx="1833.0" cy="357.0" r="4.7" fill="url(#gp)"/><circle cx="1840.3" cy="355.5" r="4.7" fill="url(#gb)"/><circle cx="1847.7" cy="357.0" r="4.7" fill="url(#gp)"/><circle cx="1855.0" cy="355.5" r="4.7" fill="url(#gb)"/>
<ellipse cx="1834.4" cy="327.4" rx="27.9" ry="28.5" fill="#020202"/><circle cx="1815.3" cy="313.1" r="6.8" fill="url(#gk)"/><circle cx="1858.1" cy="327.7" r="6.8" fill="url(#gk)"/><circle cx="1848.5" cy="307.8" r="6.8" fill="url(#gk)"/><circle cx="1818.1" cy="345.2" r="6.8" fill="url(#gk)"/><circle cx="1810.6" cy="325.4" r="6.8" fill="url(#gk)"/><circle cx="1848.0" cy="347.5" r="6.8" fill="url(#gk)"/><circle cx="1855.3" cy="315.4" r="6.8" fill="url(#gk)"/><circle cx="1823.6" cy="305.5" r="6.8" fill="url(#gk)"/><circle cx="1838.0" cy="303.2" r="6.8" fill="url(#gk)"/><circle cx="1857.0" cy="335.3" r="6.8" fill="url(#gk)"/><circle cx="1812.7" cy="337.6" r="6.8" fill="url(#gk)"/><circle cx="1825.1" cy="349.9" r="6.8" fill="url(#gk)"/><circle cx="1832.9" cy="351.6" r="6.8" fill="url(#gk)"/><circle cx="1812.7" cy="317.8" r="6.8" fill="url(#gk)"/><circle cx="1841.5" cy="350.5" r="6.8" fill="url(#gk)"/><circle cx="1857.4" cy="323.0" r="6.8" fill="url(#gk)"/><circle cx="1852.1" cy="342.9" r="6.8" fill="url(#gk)"/><circle cx="1850.9" cy="310.8" r="6.8" fill="url(#gk)"/><circle cx="1818.7" cy="310.2" r="6.8" fill="url(#gk)"/><circle cx="1811.7" cy="330.0" r="6.8" fill="url(#gk)"/><circle cx="1843.4" cy="306.1" r="6.8" fill="url(#gk)"/><circle cx="1817.2" cy="342.3" r="6.8" fill="url(#gk)"/><circle cx="1834.0" cy="304.3" r="6.8" fill="url(#gk)"/><circle cx="1855.9" cy="330.6" r="6.8" fill="url(#gk)"/><circle cx="1824.3" cy="347.0" r="6.8" fill="url(#gk)"/><circle cx="1826.5" cy="307.3" r="6.8" fill="url(#gk)"/><circle cx="1814.1" cy="322.4" r="6.8" fill="url(#gk)"/><circle cx="1836.0" cy="348.7" r="6.8" fill="url(#gk)"/><circle cx="1853.1" cy="318.3" r="6.8" fill="url(#gk)"/><circle cx="1844.6" cy="345.8" r="6.8" fill="url(#gk)"/><circle cx="1851.5" cy="338.2" r="6.8" fill="url(#gk)"/><circle cx="1819.2" cy="314.8" r="6.8" fill="url(#gk)"/><circle cx="1816.3" cy="334.7" r="6.8" fill="url(#gk)"/><circle cx="1839.1" cy="309.0" r="6.8" fill="url(#gk)"/><circle cx="1846.4" cy="313.7" r="6.8" fill="url(#gk)"/><circle cx="1851.3" cy="325.9" r="6.8" fill="url(#gk)"/><circle cx="1830.7" cy="344.0" r="6.8" fill="url(#gk)"/><circle cx="1823.3" cy="339.4" r="6.8" fill="url(#gk)"/><circle cx="1829.6" cy="311.9" r="6.8" fill="url(#gk)"/><circle cx="1819.0" cy="327.1" r="6.8" fill="url(#gk)"/><circle cx="1841.3" cy="341.1" r="6.8" fill="url(#gk)"/><circle cx="1846.9" cy="333.5" r="6.8" fill="url(#gk)"/><circle cx="1823.9" cy="319.5" r="6.8" fill="url(#gk)"/><circle cx="1844.2" cy="321.3" r="6.8" fill="url(#gk)"/><circle cx="1836.3" cy="316.6" r="6.8" fill="url(#gk)"/><circle cx="1826.4" cy="331.8" r="6.8" fill="url(#gk)"/><circle cx="1834.5" cy="336.5" r="6.8" fill="url(#gk)"/><circle cx="1839.6" cy="328.9" r="6.8" fill="url(#gk)"/><circle cx="1831.3" cy="324.2" r="6.8" fill="url(#gk)"/>
<ellipse cx="1937.9" cy="399.7" rx="27.6" ry="34.2" fill="#0a0ac0"/><circle cx="1918.0" cy="366.3" r="4.8" fill="url(#gb)"/><circle cx="1925.7" cy="365.5" r="4.8" fill="url(#gb)"/><circle cx="1950.1" cy="365.5" r="4.8" fill="url(#gb)"/><circle cx="1957.8" cy="366.3" r="4.8" fill="url(#gb)"/><circle cx="1934.0" cy="364.7" r="4.8" fill="url(#gp)"/><circle cx="1941.8" cy="364.7" r="4.8" fill="url(#gp)"/><circle cx="1910.3" cy="374.6" r="5.1" fill="url(#gp)"/><circle cx="1965.5" cy="374.6" r="5.1" fill="url(#gp)"/><circle cx="1916.1" cy="373.9" r="6.1" fill="url(#gb)"/><circle cx="1959.7" cy="373.9" r="6.1" fill="url(#gb)"/><circle cx="1937.9" cy="373.9" r="6.1" fill="url(#gb)"/><circle cx="1927.0" cy="374.6" r="6.7" fill="url(#gp)"/><circle cx="1948.8" cy="374.6" r="6.7" fill="url(#gp)"/><circle cx="1910.6" cy="380.7" r="4.5" fill="url(#gb)"/><circle cx="1965.2" cy="380.7" r="4.5" fill="url(#gb)"/><circle cx="1928.3" cy="433.9" r="4.2" fill="url(#gp)"/><circle cx="1947.5" cy="433.9" r="4.2" fill="url(#gp)"/><circle cx="1937.9" cy="435.0" r="4.2" fill="url(#gb)"/><circle cx="1921.2" cy="430.1" r="3.9" fill="url(#gb)"/><circle cx="1954.6" cy="430.1" r="3.9" fill="url(#gb)"/><circle cx="1916.0" cy="414.0" r="8.2" fill="url(#gg)"/><circle cx="1958.5" cy="416.9" r="8.2" fill="url(#gg)"/><circle cx="1914.5" cy="389.1" r="8.2" fill="url(#gg)"/><circle cx="1931.3" cy="429.4" r="8.2" fill="url(#gg)"/><circle cx="1962.7" cy="401.5" r="8.2" fill="url(#gg)"/><circle cx="1950.1" cy="426.5" r="8.2" fill="url(#gg)"/><circle cx="1940.8" cy="430.1" r="8.2" fill="url(#gg)"/><circle cx="1913.4" cy="404.5" r="8.2" fill="url(#gg)"/><circle cx="1959.8" cy="386.1" r="8.2" fill="url(#gg)"/><circle cx="1919.6" cy="419.9" r="8.2" fill="url(#gg)"/><circle cx="1960.1" cy="411.1" r="8.2" fill="url(#gg)"/><circle cx="1926.9" cy="425.7" r="8.2" fill="url(#gg)"/><circle cx="1914.6" cy="394.9" r="8.2" fill="url(#gg)"/><circle cx="1953.9" cy="420.6" r="8.2" fill="url(#gg)"/><circle cx="1937.3" cy="427.9" r="8.2" fill="url(#gg)"/><circle cx="1960.5" cy="395.7" r="8.2" fill="url(#gg)"/><circle cx="1916.9" cy="410.3" r="8.2" fill="url(#gg)"/><circle cx="1919.0" cy="385.4" r="8.2" fill="url(#gg)"/><circle cx="1945.1" cy="424.3" r="8.2" fill="url(#gg)"/><circle cx="1957.6" cy="405.2" r="8.2" fill="url(#gg)"/><circle cx="1923.4" cy="416.2" r="8.2" fill="url(#gg)"/><circle cx="1918.5" cy="400.8" r="8.2" fill="url(#gg)"/><circle cx="1931.0" cy="422.1" r="8.2" fill="url(#gg)"/><circle cx="1952.2" cy="414.7" r="8.2" fill="url(#gg)"/><circle cx="1954.9" cy="389.8" r="8.2" fill="url(#gg)"/><circle cx="1922.8" cy="391.3" r="8.2" fill="url(#gg)"/><circle cx="1940.9" cy="418.4" r="8.2" fill="url(#gg)"/><circle cx="1925.3" cy="406.7" r="8.2" fill="url(#gg)"/><circle cx="1951.7" cy="399.3" r="8.2" fill="url(#gg)"/><circle cx="1946.5" cy="408.9" r="8.2" fill="url(#gg)"/><circle cx="1933.5" cy="412.5" r="8.2" fill="url(#gg)"/><circle cx="1935.3" cy="387.6" r="8.2" fill="url(#gg)"/><circle cx="1929.9" cy="397.1" r="8.2" fill="url(#gg)"/><circle cx="1943.6" cy="393.5" r="8.2" fill="url(#gg)"/><circle cx="1938.4" cy="403.0" r="8.2" fill="url(#gg)"/>
<ellipse cx="1929.5" cy="401.5" rx="1.1" ry="0.9" fill="#fff"/><ellipse cx="1945.5" cy="401.5" rx="1.1" ry="0.9" fill="#fff"/>
<ellipse cx="1943.8" cy="339.4" rx="28.5" ry="27.6" fill="#020202"/><circle cx="1926.7" cy="322.8" r="6.7" fill="url(#gk)"/><circle cx="1934.7" cy="361.1" r="6.7" fill="url(#gk)"/><circle cx="1924.5" cy="353.8" r="6.7" fill="url(#gk)"/><circle cx="1968.1" cy="336.9" r="6.7" fill="url(#gk)"/><circle cx="1919.8" cy="334.6" r="6.7" fill="url(#gk)"/><circle cx="1953.5" cy="317.7" r="6.7" fill="url(#gk)"/><circle cx="1961.3" cy="356.0" r="6.7" fill="url(#gk)"/><circle cx="1963.3" cy="325.0" r="6.7" fill="url(#gk)"/><circle cx="1920.4" cy="346.4" r="6.7" fill="url(#gk)"/><circle cx="1940.6" cy="362.8" r="6.7" fill="url(#gk)"/><circle cx="1946.6" cy="316.0" r="6.7" fill="url(#gk)"/><circle cx="1967.7" cy="344.2" r="6.7" fill="url(#gk)"/><circle cx="1929.2" cy="358.3" r="6.7" fill="url(#gk)"/><circle cx="1922.9" cy="327.3" r="6.7" fill="url(#gk)"/><circle cx="1930.7" cy="319.9" r="6.7" fill="url(#gk)"/><circle cx="1957.5" cy="320.5" r="6.7" fill="url(#gk)"/><circle cx="1966.5" cy="332.4" r="6.7" fill="url(#gk)"/><circle cx="1920.1" cy="339.1" r="6.7" fill="url(#gk)"/><circle cx="1938.8" cy="317.1" r="6.7" fill="url(#gk)"/><circle cx="1963.8" cy="351.5" r="6.7" fill="url(#gk)"/><circle cx="1955.8" cy="358.9" r="6.7" fill="url(#gk)"/><circle cx="1947.5" cy="361.7" r="6.7" fill="url(#gk)"/><circle cx="1924.1" cy="351.0" r="6.7" fill="url(#gk)"/><circle cx="1938.4" cy="360.0" r="6.7" fill="url(#gk)"/><circle cx="1923.3" cy="331.8" r="6.7" fill="url(#gk)"/><circle cx="1965.7" cy="339.7" r="6.7" fill="url(#gk)"/><circle cx="1947.0" cy="318.8" r="6.7" fill="url(#gk)"/><circle cx="1961.5" cy="327.8" r="6.7" fill="url(#gk)"/><circle cx="1929.3" cy="324.5" r="6.7" fill="url(#gk)"/><circle cx="1930.7" cy="355.5" r="6.7" fill="url(#gk)"/><circle cx="1924.2" cy="343.6" r="6.7" fill="url(#gk)"/><circle cx="1954.3" cy="323.3" r="6.7" fill="url(#gk)"/><circle cx="1961.8" cy="347.0" r="6.7" fill="url(#gk)"/><circle cx="1955.7" cy="354.3" r="6.7" fill="url(#gk)"/><circle cx="1939.0" cy="321.6" r="6.7" fill="url(#gk)"/><circle cx="1945.5" cy="357.2" r="6.7" fill="url(#gk)"/><circle cx="1960.3" cy="335.2" r="6.7" fill="url(#gk)"/><circle cx="1927.5" cy="336.3" r="6.7" fill="url(#gk)"/><circle cx="1931.0" cy="348.1" r="6.7" fill="url(#gk)"/><circle cx="1933.0" cy="329.0" r="6.7" fill="url(#gk)"/><circle cx="1938.8" cy="352.7" r="6.7" fill="url(#gk)"/><circle cx="1944.9" cy="326.1" r="6.7" fill="url(#gk)"/><circle cx="1956.3" cy="342.5" r="6.7" fill="url(#gk)"/><circle cx="1950.7" cy="349.8" r="6.7" fill="url(#gk)"/><circle cx="1952.8" cy="330.7" r="6.7" fill="url(#gk)"/><circle cx="1934.7" cy="340.8" r="6.7" fill="url(#gk)"/><circle cx="1939.9" cy="333.5" r="6.7" fill="url(#gk)"/><circle cx="1943.1" cy="345.3" r="6.7" fill="url(#gk)"/><circle cx="1948.4" cy="338.0" r="6.7" fill="url(#gk)"/>
<g clip-path="url(#pR)">
<path d="M1221.0 610.3L1221.9 610.4L1224.1 610.3L1226.3 610.5L1228.7 611.1L1230.8 611.0L1233.5 610.5L1235.5 613.1L1237.3 614.0L1239.7 616.3L1241.4 617.3L1243.2 616.6L1245.0 613.3L1246.3 612.1L1247.6 611.8L1248.7 612.6L1249.8 614.4L1250.4 617.5L1251.7 619.0L1252.3 622.1L1253.6 622.2L1254.4 621.2L1255.3 619.9L1257.0 617.0L1257.4 614.8L1259.1 613.5L1260.8 614.2L1262.4 615.0L1264.8 616.0L1267.1 614.7L1268.9 614.0L1270.1 612.5L1270.9 608.5L1271.3 606.9L1272.4 604.7L1273.3 603.0L1275.2 602.7L1276.7 605.9L1278.6 605.1L1280.5 603.9L1282.2 601.9L1283.8 600.0L1286.0 599.8L1287.4 601.5L1289.2 602.6L1291.9 604.9L1293.7 605.0L1295.4 606.7L1298.0 607.3L1300.1 608.1L1302.2 609.2L1305.0 609.1L1307.2 610.0L1309.4 610.9L1311.2 611.9L1312.9 614.3L1314.2 616.7L1316.1 618.7L1317.8 619.1L1319.7 620.0L1320.8 622.0L1322.5 618.8L1324.8 617.5L1325.5 618.6L1327.2 620.7L1328.6 623.6L1330.0 626.2L1331.2 628.4L1332.0 628.4L1334.5 629.3L1335.7 626.2L1337.0 625.2L1339.1 622.1L1340.9 620.2L1342.1 619.5L1343.5 618.6L1345.2 618.0L1346.9 614.9L1347.9 614.0L1349.6 612.8L1351.6 612.3L1352.9 610.4L1354.5 608.9L1356.0 607.1L1356.7 604.6L1357.7 603.6L1358.7 601.5L1359.9 599.6L1360.7 596.3L1361.1 594.6L1362.0 594.0L1363.6 590.4L1364.5 590.0L1365.6 588.6L1367.2 586.6L1369.4 586.3L1371.1 585.0L1372.5 581.8L1373.6 580.5L1375.6 578.5L1376.7 576.6L1379.2 577.2L1380.7 578.9L1382.8 581.4L1384.2 582.2L1385.7 582.4L1387.5 584.5L1389.1 585.8L1390.0 588.8L1390.8 590.4L1391.9 592.0L1392.3 594.2L1393.5 596.0L1393.7 597.9L1395.1 600.3L1395.9 602.8L1397.1 604.4L1397.2 606.8L1398.2 608.9L1399.4 610.4L1399.6 612.1L1400.7 614.2L1401.7 615.7L1402.6 617.3L1402.9 620.2L1403.9 621.7L1404.2 624.0L1404.8 626.3L1405.6 628.4L1406.8 629.6L1407.2 631.4L1407.9 633.9L1408.3 635.9L1409.1 637.7L1410.0 640.3L1410.7 642.9L1411.5 644.2L1412.1 646.5L1413.5 647.8L1413.7 651.0L1415.0 652.3L1415.8 653.3L1417.1 656.5L1418.9 657.2L1419.3 658.7L1420.7 660.5L1422.9 662.1L1425.0 661.8L1427.2 659.8L1429.5 657.9L1430.2 656.9L1430.6 655.6L1431.8 654.0L1432.6 652.4L1433.5 649.8L1434.2 647.6L1434.7 643.9L1435.1 643.1L1435.7 641.3L1436.4 638.5L1436.9 635.8L1437.1 633.1L1437.4 631.0L1437.9 628.9L1437.9 626.4L1438.7 623.2L1439.1 622.5L1439.3 620.0L1440.1 618.7L1441.0 615.9L1442.1 614.4L1442.8 613.6L1443.5 611.3L1444.4 608.6L1445.4 607.9L1445.7 605.5L1445.6 603.6L1446.4 601.4L1446.6 599.4L1447.1 597.5L1448.4 595.8L1448.7 593.2L1449.5 591.1L1449.4 588.0L1450.1 585.1L1450.3 582.9L1451.0 581.7L1451.7 578.8L1452.9 577.2L1453.5 573.4L1453.7 572.4L1454.7 568.9L1455.6 567.1L1456.1 566.1L1456.6 562.7L1457.4 561.6L1458.5 559.1L1460.1 557.0L1461.1 555.3L1462.8 553.9L1464.1 551.2L1465.8 552.2L1467.8 551.3L1469.8 553.0L1470.8 555.2L1473.0 556.4L1474.1 559.6L1474.8 562.2L1476.2 563.6L1476.4 565.8L1477.3 568.0L1478.2 569.1L1478.6 572.4L1478.9 574.1L1479.8 576.0L1480.7 579.7L1481.1 581.4L1482.1 583.2L1482.1 586.2L1482.7 587.4L1483.7 590.7L1484.0 592.1L1484.6 594.8L1485.8 596.5L1485.7 597.6L1486.6 599.9L1487.4 601.9L1487.9 603.6L1488.6 606.2L1489.5 609.4L1490.1 610.4L1490.8 612.8L1491.7 615.0L1492.5 617.8L1492.5 620.5L1493.7 622.8L1494.0 623.8L1494.5 626.8L1495.6 627.1L1496.4 629.7L1497.1 632.2L1497.3 632.7L1498.8 635.1L1500.3 638.6L1501.5 640.2L1502.5 641.6L1503.3 643.6L1504.5 644.3L1506.0 645.9L1507.7 647.7L1509.6 650.2L1511.4 651.1L1512.0 650.0L1513.4 648.5L1514.5 646.7L1516.0 644.5L1517.6 641.7L1518.8 639.8L1520.7 637.7L1521.8 636.5L1523.5 636.0L1524.3 632.3L1526.2 631.4L1526.7 629.4L1527.5 626.4L1528.7 625.5L1529.4 622.4L1529.6 621.1L1530.6 619.1L1530.9 615.9L1531.5 614.1L1532.5 612.1L1533.3 610.0L1534.6 607.9L1535.4 606.7L1536.2 604.6L1537.3 603.0L1538.2 600.6L1540.0 598.8L1540.8 597.2L1542.5 597.1L1543.9 594.3L1546.1 593.1L1548.0 592.2L1549.5 590.3L1551.5 590.1L1553.6 588.5L1556.0 587.9L1558.0 588.0L1560.3 588.9L1561.4 590.4L1563.5 592.4L1565.9 594.7L1567.0 596.3L1568.0 598.8L1569.5 600.2L1571.1 601.9L1572.5 604.3L1573.1 605.8L1574.5 608.0L1576.8 608.1L1577.8 610.5L1579.8 612.0L1581.2 613.7L1583.1 614.9L1584.9 615.2L1587.0 615.6L1588.8 616.4L1590.8 618.5L1593.3 618.9L1595.4 617.7L1597.8 619.0L1600.3 619.0L1602.5 618.3L1604.0 617.9L1606.0 617.3L1607.5 616.0L1609.6 614.0L1611.6 613.5L1613.0 612.2L1615.7 611.6L1617.8 611.8L1619.5 609.8L1621.3 609.2L1624.1 608.4L1626.2 608.5L1628.2 607.7L1630.4 607.5L1632.5 605.9L1635.1 605.4L1637.4 605.8L1639.7 606.0L1641.1 605.8L1643.6 607.6L1645.5 608.3L1647.9 608.7L1649.7 609.0L1651.5 609.5L1652.5 611.9L1654.6 611.2L1656.6 612.7L1658.5 613.8L1660.7 614.4L1663.0 615.5L1665.3 616.3L1667.2 615.7L1669.5 615.8L1672.4 614.2L1673.7 613.6L1676.4 613.3L1678.7 611.3L1680.7 609.7L1682.8 610.4L1684.4 608.4L1687.2 607.3L1688.8 605.4L1690.9 604.7L1693.0 602.4L1694.5 601.0L1696.6 600.1L1698.5 598.3L1699.7 598.6L1702.2 596.1L1704.3 596.2L1706.0 596.9L1708.4 596.6L1710.0 596.6L1712.2 597.2L1713.6 598.6L1715.3 600.9L1716.3 602.2L1718.4 603.6L1719.7 604.6L1721.6 606.6L1722.6 607.9L1724.6 608.8L1726.0 611.3L1727.6 613.6L1728.6 615.0L1729.8 616.6L1731.3 617.6L1731.8 619.7L1733.1 621.6L1734.2 622.7L1735.7 624.2L1737.5 627.8L1738.8 629.6L1739.7 630.5L1741.0 632.6L1742.8 634.3L1744.4 635.5L1746.7 638.0L1748.4 638.0L1751.0 637.5L1752.2 636.7L1753.7 636.2L1755.7 634.9L1756.9 631.8L1758.9 630.5L1760.5 628.5L1761.5 627.6L1762.6 625.6L1763.5 622.9L1764.7 622.0L1765.6 618.8L1766.7 617.1L1768.4 615.4L1769.4 613.3L1769.8 611.6L1771.0 609.4L1771.7 607.1L1772.5 605.1L1773.7 603.4L1774.7 600.1L1775.1 597.8L1775.9 596.1L1776.9 593.8L1777.8 591.6L1778.7 589.5L1779.5 588.3L1780.1 585.4L1780.8 582.6L1781.0 581.4L1781.5 579.7L1782.6 577.1L1783.4 575.6L1784.8 573.2L1785.7 570.6L1786.6 569.0L1787.6 567.0L1789.0 566.3L1790.2 563.9L1792.8 564.3L1794.4 563.3L1796.9 565.0L1798.5 566.4L1799.2 568.5L1800.3 569.4L1801.6 571.9L1802.6 573.9L1803.9 576.2L1804.4 577.8L1804.9 579.6L1805.6 582.2L1806.2 583.5L1807.2 586.2L1807.7 587.7L1808.3 591.0L1808.8 593.5L1809.8 595.0L1810.8 597.0L1811.5 599.4L1812.2 602.1L1812.4 603.5L1812.5 605.6L1813.6 608.6L1813.9 609.6L1814.6 611.4L1815.5 614.2L1815.8 616.1L1816.5 617.8L1817.1 619.7L1817.0 621.7L1817.7 624.7L1818.9 626.2L1819.1 629.2L1819.4 630.9L1820.7 633.2L1821.2 634.7L1821.6 637.6L1821.7 639.1L1822.7 642.1L1822.9 643.4L1823.3 644.3L1824.1 646.0L1825.6 649.9L1826.0 652.2L1826.9 655.0L1828.2 657.4L1828.7 658.1L1830.0 660.8L1830.9 661.3L1832.9 663.4L1834.6 665.9L1836.0 666.3L1837.1 666.1L1839.1 666.5L1840.1 664.4L1841.8 663.5L1843.4 660.8L1844.0 658.5L1844.6 657.2L1845.9 654.6L1846.1 652.6L1847.3 651.4L1847.6 649.9L1848.0 646.2L1849.7 644.7L1850.5 642.1L1850.7 639.5L1851.6 638.3L1851.9 635.8L1852.5 633.1L1852.9 631.8L1853.7 628.8L1854.4 626.5L1855.0 625.1L1855.9 622.5L1856.1 621.8L1857.3 617.9L1857.1 616.1L1858.5 613.4L1859.2 612.3L1859.2 608.9L1859.8 607.8L1860.4 605.0L1861.5 603.7L1861.9 600.7L1862.5 599.5L1863.2 596.9L1863.5 595.2L1864.3 593.0L1865.1 590.6L1865.6 588.5L1866.7 586.9L1867.5 584.2L1868.7 581.2L1869.4 579.9L1870.2 577.2L1871.1 575.1L1871.5 574.4L1873.1 572.3L1873.3 571.4L1874.3 569.6L1877.0 566.8L1879.2 565.8L1880.9 564.9L1882.7 565.6L1883.5 567.8L1885.2 569.1L1886.7 572.9L1887.4 574.3L1888.9 575.1L1889.1 576.5L1890.0 579.9L1891.5 581.7L1892.3 582.5L1893.2 586.2L1894.0 588.1L1894.9 588.9L1895.5 592.2L1897.0 593.6L1897.2 597.0L1898.8 598.2L1899.1 600.3L1900.7 602.9L1901.4 604.1L1901.8 606.2L1903.4 609.3L1904.6 612.1L1905.1 612.9L1906.4 615.2L1907.5 617.7L1908.3 619.9L1908.9 622.2L1910.5 624.0L1911.1 624.5L1913.0 628.1L1914.1 629.1L1916.1 631.2L1917.8 631.8L1919.0 633.4L1921.9 634.8L1924.2 634.0L1926.3 635.6L1928.3 634.8L1930.4 632.4L1931.4 632.1L1932.3 630.4L1933.4 627.1L1934.7 626.3L1935.5 624.1L1936.0 622.0L1936.9 620.0L1939.1 618.1L1941.2 617.3L1942.9 615.6L1944.9 613.9L1946.7 613.1L1947.6 610.6L1949.6 607.9L1950.7 606.8L1951.7 604.5L1953.1 603.3L1955.4 602.0L1957.2 600.5L1959.1 598.8L1961.2 597.0L1963.5 597.7L1966.0 598.1L1967.8 600.1L1970.5 600.1L1972.5 601.4L1974.4 602.4L1975.6 604.8L1977.5 605.6L1978.7 607.8L1980.0 608.2L1982.1 610.4L1983.9 610.6L1986.1 612.2L1988.2 612.3L1990.5 612.0L1992.7 613.0L1994.8 614.3L1997.9 613.6L2000.1 613.9L2001.8 616.0L2003.2 615.6" fill="none" stroke="#f80000" stroke-width="5.9" stroke-linejoin="round" stroke-linecap="butt"/>
<path d="M1180.0 555.3L1217.2 555.3L1219.8 603.5L1225.4 568.3" fill="none" stroke="#0404f4" stroke-width="6.0" stroke-linejoin="round" stroke-linecap="butt"/>
<path d="M1225.4 568.3L1225.3 567.4L1225.8 566.0L1225.7 564.0L1225.8 562.7L1226.2 561.0L1226.5 559.2L1226.6 557.0L1226.8 554.6L1227.1 553.4L1227.3 550.6L1227.8 548.4L1227.9 546.1L1228.0 543.8L1228.4 542.1L1228.6 539.7L1228.7 537.0L1228.9 534.8L1229.3 532.1L1229.8 529.2L1229.7 527.0L1230.4 524.4L1230.6 521.5L1230.7 519.8L1231.2 517.4L1231.4 515.0L1231.6 512.8L1231.7 510.1L1232.3 507.6L1232.3 505.5L1232.6 504.1L1232.8 501.3L1233.1 498.2L1233.7 495.6L1233.9 493.4L1234.2 490.4L1234.5 487.4L1234.8 485.3L1235.1 483.6L1235.2 480.9L1235.6 478.9L1235.9 476.1L1235.8 474.3L1236.4 472.0L1236.8 470.1L1237.0 468.9L1237.2 466.9L1237.1 465.2L1237.7 463.1L1238.0 461.1L1238.3 458.8L1238.5 457.2L1239.1 454.3L1239.2 451.8L1239.6 448.9L1240.3 446.8L1240.5 445.3L1240.8 443.6L1241.3 441.6L1241.6 439.7L1241.8 438.1L1242.4 436.0L1243.0 432.8L1243.4 431.0L1243.8 428.5L1243.8 426.5L1244.3 424.6L1244.3 422.0L1244.8 420.7L1245.1 418.2L1245.3 416.3L1245.6 414.4L1246.0 412.3L1246.0 410.2L1246.5 408.0L1246.7 404.9L1246.8 402.5L1247.3 400.6L1247.8 397.1L1247.8 395.3L1247.9 393.2L1248.3 390.7L1248.5 388.3L1249.2 386.8L1249.4 384.4L1249.6 382.4L1249.9 379.9L1250.3 377.8L1250.5 375.5L1250.6 373.2L1250.8 371.7L1251.4 369.2L1251.6 366.4L1251.7 364.8L1252.0 362.5L1252.1 359.9L1252.5 357.2L1252.9 355.3L1253.2 353.0L1253.7 350.5L1253.8 347.5L1253.9 345.4L1254.5 343.4L1254.5 341.4L1254.8 339.4L1255.1 336.5L1255.4 334.7L1255.7 332.2L1256.1 330.7L1256.2 328.6L1256.6 326.0L1256.8 324.5L1257.4 322.3L1257.6 319.6L1257.6 317.4L1257.9 315.7L1258.4 313.0L1258.5 310.6L1259.0 308.1L1259.3 306.4L1259.3 303.4L1259.6 301.2L1259.8 299.3L1260.0 297.6L1260.5 294.9L1260.7 292.9L1260.9 290.6L1261.3 288.6L1261.4 286.8L1261.5 284.6L1261.7 283.0L1261.8 280.8L1262.4 278.5L1262.2 276.3L1262.6 274.0L1262.9 271.4L1263.0 269.2L1263.2 266.5L1263.7 264.2L1263.9 262.0L1264.2 259.2L1263.9 257.2L1264.5 255.6L1264.7 253.0L1264.5 250.6L1264.9 248.7L1265.3 246.0L1265.4 243.7L1265.6 241.8L1265.6 239.3L1265.7 237.0L1266.1 234.7L1266.0 232.0L1266.1 229.8L1266.6 227.5L1266.5 224.9L1266.6 223.3L1266.9 220.9L1267.0 219.0L1267.1 216.7L1267.5 214.8L1267.6 212.7L1267.4 210.4L1267.6 208.0L1267.9 206.3L1267.9 204.8L1268.2 201.6L1268.2 198.2L1268.7 195.1L1268.5 192.9L1268.8 190.8L1269.2 189.4L1269.2 186.8L1269.4 185.4L1269.3 183.1L1269.5 181.4L1269.8 180.1L1269.7 177.5L1270.1 175.0L1269.9 173.1L1270.0 170.6L1270.4 168.5L1270.4 166.5L1270.5 163.7L1270.6 161.7L1270.9 159.5L1270.8 158.3L1271.2 155.3L1271.0 153.4L1271.2 151.7L1271.3 149.8L1271.9 147.3L1271.9 145.2L1271.8 143.4L1272.2 140.5L1272.5 138.7L1272.7 135.5L1273.1 133.3L1272.9 131.6L1273.5 128.6L1273.4 127.0L1273.8 124.1L1274.4 121.8L1274.5 119.8L1274.5 117.5L1274.8 116.1L1275.4 113.5L1275.2 111.6L1275.7 110.0L1276.1 108.6L1276.1 106.0L1276.5 102.4L1277.0 100.1L1276.9 97.3L1277.6 94.8L1277.8 93.7L1278.1 91.9L1278.4 90.2L1280.9 87.7L1283.7 88.1L1284.6 90.1L1285.2 91.8L1285.7 93.5L1286.3 96.4L1287.4 99.3L1287.8 100.6L1288.1 103.0L1289.1 105.2L1289.6 107.4L1290.2 109.6L1290.6 111.8L1291.7 114.2L1292.2 116.6L1293.1 118.9L1293.7 120.4L1294.9 123.0L1295.4 124.8L1296.6 127.0L1297.5 128.5L1298.4 130.9L1299.1 132.8L1300.1 135.0L1300.8 137.6L1301.6 139.7L1302.8 141.4L1303.5 142.6L1304.7 144.6L1305.9 146.5L1307.3 149.1L1308.6 150.6L1310.1 152.0L1312.1 153.4L1314.3 154.1L1316.3 153.7L1318.6 152.4L1320.6 152.1L1322.8 151.5L1324.1 150.3L1326.0 149.7L1328.1 149.1L1330.3 150.5L1332.1 150.6L1334.5 151.7L1336.6 151.7L1338.4 151.7L1340.3 150.0L1342.2 148.2L1344.1 146.2L1345.2 144.3L1346.1 143.1L1347.1 141.6L1347.8 139.5L1348.7 137.5L1349.7 135.8L1350.6 132.9L1351.7 131.3L1352.9 128.3L1353.4 126.2L1354.4 124.5L1355.1 122.8L1356.1 120.2L1356.5 117.8L1357.4 116.6L1358.0 113.8L1358.9 111.7L1359.9 109.7L1360.5 108.1L1361.6 106.0L1362.5 103.6L1363.6 101.8L1364.8 98.7L1365.8 97.2L1367.0 95.4L1368.0 93.5L1368.9 92.7L1370.1 91.6L1371.2 92.2L1372.6 93.0L1373.8 95.1L1375.0 98.7L1376.3 101.0L1377.0 103.5L1377.6 104.6L1378.5 106.3L1379.0 108.6L1379.9 110.4L1380.8 113.3L1381.4 115.2L1382.1 117.4L1382.6 118.7L1383.8 120.6L1384.3 122.9L1385.5 125.3L1385.8 127.0L1386.6 129.0L1387.3 130.9L1388.4 132.8L1389.2 134.6L1390.1 136.2L1391.1 138.6L1392.4 140.7L1394.0 143.0L1395.0 144.4L1396.4 146.5L1398.0 148.3L1399.3 149.0L1400.6 150.4L1402.4 150.7L1403.7 150.5L1405.5 149.3L1406.6 146.8L1407.7 145.0L1409.2 142.3L1411.0 141.3L1412.7 139.2L1414.9 137.4L1416.4 136.6L1418.1 136.0L1419.9 134.4L1421.8 132.7L1423.1 130.5L1424.0 129.8L1425.4 127.9L1426.8 126.5L1428.6 125.8L1430.4 126.4L1431.8 127.2L1433.9 128.9L1435.4 130.5L1436.9 131.0L1439.3 130.7L1440.8 129.2L1443.1 128.7L1445.4 129.4L1447.6 130.6L1449.7 131.0L1451.8 130.1L1454.3 128.1L1456.2 127.4L1458.6 127.4L1460.7 128.5L1463.1 130.2L1464.9 130.7L1466.7 132.3L1468.4 134.0L1469.6 135.6L1470.5 137.7L1472.0 140.5L1473.1 141.1L1474.9 143.1L1476.4 144.1L1477.8 145.8L1479.5 147.9L1480.8 150.1L1482.6 152.3L1484.4 153.0L1486.6 152.9L1488.6 151.2L1490.6 149.7L1492.9 147.4L1493.7 146.3L1494.6 144.3L1495.4 142.3L1496.2 140.7L1497.3 138.8L1498.3 136.0L1499.3 133.4L1500.3 130.8L1500.9 129.3L1501.7 126.9L1502.7 124.7L1503.2 123.0L1503.8 120.7L1504.9 118.7L1505.2 116.3L1506.3 114.3L1506.7 111.9L1507.6 110.2L1508.6 108.2L1509.1 105.0L1510.1 102.4L1510.8 100.3L1511.1 98.7L1511.9 97.0L1512.5 95.9L1514.9 92.7L1517.0 93.3L1518.9 92.7L1520.6 93.3L1522.1 94.5L1523.9 96.7L1524.7 98.4L1525.2 100.0L1526.4 102.3L1526.9 104.3L1527.7 106.1L1528.3 108.7L1528.9 111.2L1529.7 113.1L1530.5 115.9L1531.2 117.6L1532.2 119.6L1532.8 121.6L1533.8 123.3L1534.8 124.9L1535.6 127.0L1536.2 129.5L1537.2 130.9L1538.4 133.3L1539.4 135.8L1540.3 137.8L1541.0 139.8L1541.7 142.6L1542.7 143.8L1543.9 145.6L1544.7 147.3L1546.4 149.6L1547.5 151.8L1549.0 153.0L1550.4 153.0L1552.5 153.8L1554.5 153.4L1556.3 152.9L1558.8 153.5L1560.9 154.1L1563.2 154.5L1565.0 153.9L1566.8 152.8L1568.3 152.6L1570.5 153.7L1572.0 155.5L1574.4 155.8L1575.9 155.5L1577.4 154.2L1579.0 152.3L1581.2 150.5L1582.1 149.4L1582.9 146.8L1583.9 145.5L1585.0 143.7L1585.9 141.2L1586.7 139.4L1587.5 137.7L1588.5 135.6L1589.4 132.8L1590.6 131.2L1591.6 130.0L1592.3 127.7L1593.2 124.9L1594.5 122.0L1594.9 120.8L1595.3 118.2L1596.2 116.3L1596.5 113.6L1597.1 111.4L1597.5 109.1L1598.0 106.1L1598.6 103.7L1599.4 102.4L1599.6 100.0L1600.2 98.1L1601.5 95.2L1602.7 94.5L1604.0 93.4L1605.4 92.9L1607.5 90.3L1609.3 89.0L1610.5 87.7L1612.0 88.7L1613.3 89.7L1614.5 92.8L1615.0 93.9L1615.7 95.8L1616.1 97.6L1616.5 100.3L1617.5 102.7L1617.9 105.1L1619.0 107.9L1619.4 109.1L1620.1 111.0L1621.1 112.9L1621.8 115.3L1622.5 116.9L1623.2 119.1L1623.9 120.6L1624.5 123.0L1625.4 125.7L1626.4 127.6L1626.9 130.1L1627.6 131.5L1628.6 133.9L1629.0 135.8L1630.0 137.2L1630.5 139.5L1631.1 141.5L1632.0 143.0L1633.3 145.4L1634.9 147.3L1635.9 149.2L1637.0 150.9L1638.4 152.3L1639.6 153.1L1641.7 154.8L1643.6 155.1L1645.5 155.7L1647.9 155.2L1650.0 154.2L1651.7 152.0L1653.5 150.8L1655.4 151.7L1657.2 153.1L1659.2 154.1L1661.0 155.5L1663.0 154.6L1665.0 153.9L1666.7 153.1L1668.6 150.6L1670.8 148.8L1671.8 147.8L1672.7 146.5L1673.8 144.5L1674.5 142.2L1675.7 141.0L1676.2 138.8L1677.2 136.4L1678.0 134.7L1679.0 132.4L1679.8 130.4L1680.4 127.9L1681.0 125.7L1681.7 123.6L1682.4 122.0L1683.1 120.1L1683.6 117.6L1684.4 115.9L1684.9 113.4L1685.6 112.3L1686.6 109.8L1687.9 107.0L1688.7 105.1L1690.1 103.6L1690.8 102.2L1692.2 100.3L1693.1 99.0L1694.5 96.4L1695.5 93.6L1696.3 92.0L1697.2 90.4L1698.4 88.4L1700.1 89.6L1701.8 92.8L1703.0 94.5L1703.5 96.7L1704.4 98.4L1705.5 100.7L1706.6 103.1L1707.7 105.3L1708.4 107.4L1709.8 109.3L1710.6 111.5L1711.4 113.5L1712.0 115.8L1712.9 117.8L1713.0 119.7L1713.5 122.0L1713.8 124.2L1714.5 127.0L1715.1 128.9L1715.9 131.1L1716.2 133.2L1717.0 135.7L1718.0 137.4L1718.6 139.5L1719.6 140.8L1720.5 142.8L1721.8 145.0L1722.9 147.6L1723.7 149.1L1725.2 150.3L1726.3 151.8L1727.7 152.9L1729.8 153.9L1732.3 154.0L1734.3 154.6L1736.8 153.5L1738.2 152.3L1739.7 150.5L1741.0 148.9L1741.9 146.9L1743.5 145.7L1745.6 146.8L1747.2 148.7L1749.9 149.3L1751.7 148.5L1754.0 148.2L1756.1 147.4L1757.9 146.2L1760.1 144.7L1762.0 143.5L1763.4 141.5L1764.3 140.0L1765.4 137.6L1766.5 135.9L1767.2 134.2L1768.2 131.6L1769.4 130.0L1770.4 128.0L1771.4 125.8L1772.1 123.9L1773.0 121.9L1774.1 120.0L1774.8 118.6L1775.9 116.9L1776.8 114.7L1778.3 112.7L1779.4 110.6L1780.6 108.9L1781.4 107.7L1782.8 106.9L1785.0 105.3L1787.4 105.0L1788.7 106.1L1790.5 107.8L1792.4 110.3L1792.9 112.4L1794.1 114.0L1794.6 115.9L1795.5 118.3L1796.4 120.2L1797.1 122.6L1798.1 125.2L1799.2 127.2L1800.5 129.3L1801.5 132.3L1802.4 133.4L1803.2 136.0L1804.5 137.5L1805.1 139.8L1806.3 141.6L1808.0 143.9L1809.9 146.5L1811.6 147.5L1813.1 148.9L1814.5 150.2L1817.1 149.9L1819.2 148.2L1821.1 145.7L1822.3 144.6L1823.3 143.3L1824.5 140.8L1825.4 138.8L1826.5 137.5L1827.5 134.9L1828.9 133.1L1829.9 130.6L1830.8 127.9L1831.7 125.6L1832.9 123.8L1833.5 121.6L1834.3 119.7L1835.2 117.6L1836.7 115.0L1837.8 113.4L1839.1 112.5L1840.5 111.5L1842.6 112.4L1845.0 112.3L1847.2 113.6L1849.4 115.2L1850.9 117.1L1852.2 118.1L1852.8 120.4L1854.3 121.5L1855.4 123.9L1857.0 125.2L1858.3 127.6L1859.4 129.4L1861.1 131.3L1862.7 132.8L1864.5 134.0L1865.9 135.5L1867.8 137.2L1869.4 138.5L1871.5 139.7L1873.5 141.0L1875.9 142.1L1877.7 143.1L1880.0 143.7L1881.7 143.9L1883.4 145.2L1885.7 146.7L1886.8 147.9L1888.3 150.2L1889.4 151.0L1891.5 153.1L1893.3 153.6L1895.6 153.8L1897.5 154.5L1899.1 153.2L1901.2 152.4L1903.0 151.0L1903.9 149.1L1904.9 147.3L1905.6 146.4L1906.5 144.4L1907.4 142.7L1908.5 140.6L1909.5 137.6L1910.4 135.7L1911.0 133.4L1912.0 131.5L1913.1 129.6L1913.7 127.3L1914.6 125.0L1915.4 123.3L1916.2 120.8L1916.7 118.9L1917.5 116.2L1918.6 114.3L1919.5 111.4L1920.2 109.9L1920.6 107.2L1921.3 106.0L1921.9 103.8L1922.7 102.0L1923.5 100.0L1924.7 97.4L1926.1 95.0L1927.3 93.4L1928.5 92.8L1929.4 92.0L1931.4 92.3L1932.7 92.7L1934.6 94.2L1936.2 97.3L1937.0 98.6L1937.6 100.1L1938.4 102.0L1939.4 104.1L1939.7 106.1L1940.6 107.6L1941.3 109.9L1942.3 112.9L1943.0 115.0L1943.5 116.7L1944.5 119.4L1945.3 120.9L1945.9 123.7L1946.6 125.2L1947.4 127.8L1948.2 129.8L1948.9 132.2L1949.5 133.9L1950.5 135.9L1951.3 137.9L1952.2 140.1L1953.4 142.4L1954.3 143.8L1954.7 145.9L1956.0 147.7L1956.8 149.5L1957.9 150.7L1959.2 152.6L1960.5 153.7L1962.4 154.8L1965.3 154.7L1967.2 155.4L1969.2 155.8L1971.7 155.9L1974.5 156.1L1976.9 156.0L1979.7 156.1L1982.2 155.7L1984.2 155.8L1985.9 155.4L1988.8 154.6L1989.7 152.5L1990.6 151.6L1992.0 148.9L1992.7 147.3L1993.8 145.6L1994.8 143.8L1995.8 141.4L1996.9 138.9L1997.7 137.3L1999.1 135.0L2000.5 132.6L2001.1 130.0L2002.2 128.6L2003.0 126.8" fill="none" stroke="#0404f4" stroke-width="6.0" stroke-linejoin="round" stroke-linecap="butt"/>
<path d="M1180.0 610.2L1218.5 610.2" fill="none" stroke="#000" stroke-width="6.5" stroke-linejoin="round" stroke-linecap="butt"/>
<path d="M1218.5 610.2L1219.0 609.5L1219.4 610.2L1220.0 612.5L1220.1 615.2L1220.7 616.8L1220.9 619.1L1221.5 621.7L1221.9 624.6L1223.1 627.8L1223.5 630.0L1223.8 631.8L1224.1 634.2L1225.2 636.1L1225.4 638.4L1226.2 640.7L1227.1 642.2L1228.2 643.4L1229.0 645.3L1230.0 647.5L1230.5 650.2L1231.0 651.5L1231.5 653.5L1231.7 655.9L1232.1 658.4L1232.3 660.0L1232.8 662.1L1233.6 665.3L1234.1 667.5L1234.9 669.5L1235.9 672.1L1236.9 674.4L1237.6 675.2L1239.1 675.4L1240.0 674.7L1241.1 673.6L1242.3 670.7L1243.2 668.5L1244.2 666.9L1245.8 664.9L1246.5 662.7L1248.1 659.7L1249.0 659.5L1250.7 657.9L1252.1 656.1L1252.7 654.3L1253.4 651.9L1253.8 649.8L1253.5 648.5L1253.9 646.6L1254.7 644.4L1254.5 641.5L1255.0 638.0L1255.7 635.8L1255.8 633.9L1256.2 631.1L1256.6 629.7L1256.7 627.5L1257.2 624.8L1257.6 622.3L1258.5 620.5L1258.3 618.2L1258.6 616.7L1259.1 614.0L1259.8 611.7L1259.9 609.4L1260.4 606.7L1261.1 604.8L1261.5 601.6L1261.4 599.9L1261.6 598.1L1262.0 594.8L1262.8 593.1L1262.8 591.1L1263.4 588.4L1263.8 587.3L1264.4 583.9L1264.5 582.7L1265.1 580.3L1265.6 576.9L1265.7 574.8L1266.3 571.9L1266.5 570.1L1267.2 567.9L1267.9 565.9L1268.4 563.0L1268.9 562.1L1269.0 560.5L1269.7 556.2L1270.5 553.8L1271.2 552.9L1272.3 550.6L1274.0 549.5L1276.1 549.3L1278.0 548.7L1280.9 547.7L1283.5 548.3L1284.2 549.3L1285.5 551.0L1285.7 553.4L1286.7 555.5L1288.1 558.3L1288.7 559.5L1289.3 561.6L1289.9 563.1L1290.7 566.0L1290.9 568.2L1292.0 569.8L1292.5 573.5L1293.2 575.9L1294.2 577.8L1294.9 579.6L1295.1 582.0L1295.8 583.3L1296.7 585.3L1296.8 587.6L1297.6 588.9L1298.2 591.0L1298.5 593.4L1299.7 595.0L1300.1 598.1L1300.6 599.9L1301.3 602.5L1301.6 604.8L1302.7 605.7L1303.2 607.8L1303.8 609.7L1304.1 611.9L1304.7 613.6L1305.4 616.1L1305.6 618.7L1306.2 620.1L1306.9 622.9L1307.4 624.1L1307.9 626.4L1308.8 628.7L1309.5 631.4L1310.0 632.4L1310.8 635.5L1310.7 636.4L1311.5 638.9L1312.0 640.4L1312.6 642.3L1313.5 644.1L1314.6 647.0L1315.2 648.7L1316.1 651.3L1316.7 653.2L1317.2 655.4L1317.8 656.9L1318.6 659.6L1319.3 661.2L1319.8 662.0L1321.1 664.6L1322.6 668.2L1323.6 668.8L1324.7 670.2L1325.5 671.0L1327.3 670.7L1328.6 669.8L1329.8 668.0L1331.3 664.4L1331.7 663.4L1333.0 661.1L1333.8 660.2L1334.4 658.2L1334.9 655.6L1335.7 653.7L1336.2 651.5L1337.3 649.8L1337.9 646.9L1338.5 644.6L1339.4 642.6L1340.0 641.4L1340.4 639.6L1340.9 637.1L1341.5 634.8L1342.0 633.5L1342.8 631.8L1343.3 628.8L1344.3 626.8L1344.9 624.8L1344.9 622.2L1345.6 620.1L1346.6 618.7L1346.6 615.8L1347.7 615.0L1348.2 612.9L1348.6 610.6L1349.2 608.6L1349.8 606.8L1350.1 603.6L1350.6 602.2L1351.0 599.9L1351.6 598.1L1352.4 595.9L1353.2 593.9L1353.9 591.0L1354.6 589.0L1355.1 587.8L1355.2 586.0L1355.9 583.4L1357.1 581.4L1357.3 579.2L1358.1 577.3L1358.7 575.3L1359.2 573.6L1360.0 571.2L1361.2 569.3L1361.9 567.0L1362.7 565.6L1363.2 562.5L1363.7 561.1L1364.9 560.2L1366.0 557.1L1367.6 555.2L1368.7 553.4L1370.2 552.7L1371.6 553.8L1372.6 555.1L1373.3 557.8L1374.6 559.9L1376.0 561.8L1376.3 564.2L1377.6 565.9L1378.1 568.1L1379.0 569.7L1380.1 571.6L1380.5 573.2L1381.2 575.8L1382.6 577.3L1383.4 580.2L1383.9 581.9L1384.8 584.3L1385.4 585.4L1385.9 587.4L1386.2 589.1L1387.0 590.9L1387.6 593.8L1388.4 596.0L1388.8 597.6L1390.1 600.1L1390.7 601.5L1391.2 604.2L1391.5 606.4L1392.4 608.1L1393.4 609.6L1393.7 612.2L1394.3 614.4L1395.2 615.8L1395.6 617.5L1396.9 620.7L1397.3 622.9L1398.0 623.7L1398.6 626.9L1399.6 628.0L1400.2 630.3L1400.9 631.7L1401.8 634.0L1402.6 635.9L1403.2 638.1L1404.3 640.6L1406.1 643.2L1406.9 645.5L1407.8 647.9L1409.4 648.4L1410.2 650.4L1411.4 651.9L1412.9 650.7L1414.6 649.3L1415.9 647.7L1416.8 644.1L1418.2 642.0L1418.8 640.1L1419.7 638.3L1420.6 635.9L1421.4 633.8L1422.5 631.1L1424.2 630.6L1425.8 629.0L1427.1 626.6L1427.9 625.5L1428.0 622.6L1428.7 620.5L1429.6 618.7L1430.1 616.0L1430.7 613.6L1431.5 611.1L1432.1 608.7L1432.9 606.2L1434.0 604.0L1435.0 602.3L1435.5 600.4L1437.2 597.9L1438.5 597.3L1439.7 595.1L1441.7 593.8L1442.8 591.7L1444.4 590.9L1446.7 591.3L1448.6 591.8L1450.6 592.8L1452.3 593.1L1453.6 596.0L1455.3 597.8L1455.8 599.2L1457.0 601.8L1458.2 603.7L1459.4 605.6L1460.7 607.6L1461.8 610.0L1462.7 611.6L1463.6 613.2L1465.2 615.1L1466.3 616.4L1466.9 619.3L1467.5 620.8L1468.5 623.4L1469.2 626.1L1470.0 628.8L1470.5 630.4L1471.2 633.1L1471.9 634.4L1473.1 636.3L1475.1 639.0L1477.1 639.7L1479.4 640.7L1481.5 639.5L1483.0 639.7L1484.4 638.1L1485.8 635.7L1487.8 632.6L1488.9 632.1L1490.0 630.2L1490.6 628.0L1491.7 626.7L1492.5 623.2L1493.5 622.2L1494.0 620.0L1495.5 616.9L1496.3 614.0L1497.1 611.5L1497.8 610.9L1498.2 608.7L1498.7 605.6L1499.6 604.6L1500.0 602.2L1500.8 599.7L1501.6 598.0L1502.5 595.9L1502.6 594.1L1503.8 591.2L1504.2 589.8L1505.4 587.0L1505.5 585.2L1506.4 583.1L1507.5 581.1L1507.9 578.4L1508.9 577.0L1509.8 574.4L1510.1 572.7L1510.8 571.7L1511.5 570.1L1512.5 567.5L1514.2 565.2L1515.4 562.2L1517.0 561.2L1518.7 560.8L1519.9 560.3L1522.0 560.4L1522.8 561.6L1524.6 563.1L1525.8 565.2L1527.3 567.6L1528.1 569.1L1529.1 571.4L1529.6 572.8L1529.9 575.3L1530.6 577.9L1531.2 580.5L1531.8 582.3L1532.7 584.1L1533.1 586.4L1534.3 590.4L1535.1 591.4L1535.2 593.9L1536.3 595.7L1536.4 597.5L1537.2 600.3L1538.2 602.2L1538.8 604.5L1539.0 605.5L1540.0 608.3L1540.6 609.9L1541.0 613.0L1541.7 614.8L1542.4 617.0L1543.2 619.3L1543.7 621.9L1544.3 624.3L1544.7 626.2L1545.7 627.6L1546.5 630.5L1546.6 631.5L1547.6 634.5L1548.3 635.6L1548.6 638.5L1549.5 640.4L1550.1 641.6L1550.5 644.5L1551.7 647.1L1552.7 648.8L1553.5 651.2L1553.9 654.8L1554.9 656.5L1555.9 658.3L1556.7 659.4L1557.9 661.5L1559.0 662.6L1560.7 666.3L1562.4 666.8L1563.6 667.6L1565.8 667.1L1567.0 666.9L1567.9 665.9L1569.7 663.6L1570.6 661.1L1572.5 657.5L1572.9 656.8L1573.7 654.0L1574.4 652.5L1574.6 651.2L1575.1 648.5L1575.8 646.9L1576.9 644.2L1577.4 641.6L1577.9 639.7L1578.4 637.3L1579.1 635.9L1580.1 632.7L1580.2 630.1L1581.0 628.2L1581.4 626.7L1582.2 623.3L1582.7 621.9L1583.6 620.3L1583.7 618.0L1584.9 615.4L1585.3 613.0L1585.9 611.2L1586.3 609.6L1586.7 606.8L1587.7 604.9L1588.2 602.9L1588.7 600.1L1589.0 598.2L1589.6 595.3L1590.3 593.9L1591.3 591.1L1591.6 589.4L1592.3 587.3L1593.0 585.0L1593.4 583.8L1594.1 581.3L1595.2 579.9L1595.3 577.5L1596.3 575.8L1596.6 573.7L1597.7 571.4L1598.5 568.0L1599.7 565.7L1600.8 563.4L1601.8 561.2L1602.4 560.0L1603.4 557.5L1603.8 555.5L1605.2 554.8L1607.1 551.6L1608.7 549.6L1610.3 549.4L1611.6 549.6L1612.7 551.5L1613.7 553.5L1614.8 554.8L1615.8 557.3L1617.5 559.9L1617.7 562.1L1618.6 563.5L1619.0 565.9L1620.1 567.1L1620.4 569.3L1621.2 571.4L1621.8 573.6L1622.6 576.5L1623.2 579.2L1623.9 582.2L1624.4 583.0L1625.2 585.6L1625.7 588.1L1626.4 589.4L1626.9 591.3L1626.8 594.7L1627.8 595.9L1627.9 598.2L1628.5 600.9L1629.4 602.8L1630.1 605.4L1630.5 606.7L1630.9 610.1L1631.8 612.2L1632.3 614.4L1632.4 616.8L1633.5 619.6L1634.2 621.3L1634.5 622.8L1635.0 625.3L1635.7 627.7L1636.4 630.4L1636.8 632.2L1637.6 633.8L1637.8 635.8L1638.3 638.0L1639.0 640.1L1639.4 642.4L1640.3 643.6L1641.1 647.0L1642.0 648.8L1642.6 651.0L1643.1 654.2L1644.2 656.0L1644.9 657.7L1645.5 658.9L1646.6 660.9L1647.2 662.7L1647.6 664.0L1648.4 666.3L1650.1 669.6L1651.6 671.0L1653.0 671.3L1654.6 671.8L1655.5 670.7L1657.2 670.2L1658.4 667.7L1659.0 666.8L1660.4 663.6L1661.2 661.6L1661.8 659.4L1662.7 657.4L1663.4 655.7L1664.3 653.4L1664.8 652.0L1665.0 649.2L1666.3 647.5L1666.7 644.1L1667.7 641.3L1668.1 638.9L1668.8 637.2L1669.1 634.9L1669.5 633.7L1670.2 631.5L1670.3 629.2L1671.0 626.2L1671.5 624.5L1672.5 622.0L1672.5 620.6L1673.5 617.6L1673.7 615.4L1674.2 613.9L1675.0 611.3L1675.8 608.6L1676.2 605.7L1676.5 603.8L1677.5 601.9L1677.8 599.3L1678.8 597.6L1678.9 594.7L1679.8 592.5L1679.9 591.4L1680.9 589.0L1681.6 587.0L1681.9 584.9L1682.6 583.2L1683.2 581.1L1683.5 578.3L1684.7 576.8L1685.4 573.7L1686.0 571.7L1687.1 569.4L1688.0 567.3L1688.3 565.4L1689.1 563.1L1690.0 561.3L1690.9 560.3L1691.3 559.0L1692.3 556.7L1693.4 553.5L1695.4 551.8L1696.4 549.0L1697.6 548.9L1699.2 550.7L1700.2 551.7L1701.4 553.3L1702.4 555.9L1703.4 557.5L1704.3 559.8L1705.2 562.0L1705.9 563.5L1706.5 565.8L1707.7 566.9L1708.3 568.9L1708.9 570.6L1709.5 572.9L1709.8 575.7L1710.7 578.2L1711.6 580.1L1711.8 581.9L1712.4 584.7L1713.3 585.8L1713.8 588.2L1714.3 590.9L1714.9 593.4L1715.5 595.1L1716.5 598.7L1717.0 600.9L1717.4 601.9L1718.2 604.1L1718.4 606.8L1719.3 608.9L1720.0 611.1L1720.2 613.0L1721.0 615.6L1722.0 617.5L1722.8 621.0L1723.2 623.0L1723.5 625.1L1724.0 627.4L1724.5 629.0L1725.4 630.5L1726.4 632.8L1726.5 636.2L1727.1 637.5L1728.4 639.7L1728.5 642.1L1729.4 645.1L1730.0 647.2L1730.3 648.1L1731.4 650.9L1732.0 652.0L1733.0 654.1L1733.3 655.5L1734.9 657.9L1736.2 661.4L1737.4 663.2L1739.0 664.8L1740.1 665.4L1741.4 666.0L1743.0 665.7L1744.1 664.5L1745.6 662.9L1746.8 660.6L1748.3 658.3L1748.9 656.1L1749.8 653.5L1749.9 652.3L1750.9 650.9L1751.4 648.3L1752.3 646.2L1752.6 644.0L1753.7 641.8L1754.1 638.4L1755.0 636.0L1755.8 634.6L1755.8 632.3L1757.0 629.5L1757.5 627.3L1757.6 625.6L1758.2 623.9L1759.2 622.0L1759.8 618.9L1760.2 618.0L1761.3 614.7L1762.0 612.5L1762.4 610.3L1762.7 608.8L1763.9 606.3L1764.6 604.4L1765.1 602.3L1765.9 600.2L1766.4 597.9L1767.0 595.0L1768.0 593.9L1768.4 592.2L1769.3 589.1L1769.8 587.4L1770.3 585.7L1771.1 584.0L1772.4 581.4L1773.9 579.1L1774.7 576.8L1775.8 574.4L1777.0 573.8L1777.8 572.5L1780.1 570.2L1781.5 568.1L1783.0 568.2L1784.1 569.1L1785.6 570.7L1787.4 572.7L1788.6 574.4L1790.2 575.9L1791.5 578.5L1792.2 580.7L1793.5 581.7L1794.3 585.0L1795.6 586.7L1796.5 588.8L1797.0 591.4L1798.2 592.5L1798.7 595.1L1799.4 597.0L1799.9 600.2L1801.1 601.9L1801.8 604.1L1802.3 606.3L1803.1 608.6L1804.0 611.3L1805.2 613.5L1806.1 615.5L1806.7 616.7L1807.4 619.3L1808.6 620.6L1809.6 621.9L1810.7 624.7L1812.0 626.7L1813.3 627.7L1814.5 629.1L1815.8 630.7L1818.5 632.5L1820.7 632.7L1822.9 632.1L1823.9 632.4L1825.5 630.2L1826.6 629.3L1827.1 626.5L1828.3 624.6L1829.5 622.1L1830.3 620.7L1831.7 618.1L1832.6 617.1L1832.8 614.1L1833.9 611.8L1834.7 610.9L1835.8 607.5L1836.4 606.1L1837.3 604.0L1838.7 602.2L1839.1 600.2L1840.4 598.0L1840.8 595.6L1841.8 594.4L1843.1 593.0L1845.2 590.3L1847.0 588.0L1849.2 586.9L1851.0 585.7L1852.8 585.7L1854.1 586.1L1855.8 586.9L1856.8 588.1L1858.0 591.1L1859.3 593.0L1861.0 594.7L1861.6 596.3L1862.5 598.3L1863.4 600.8L1864.4 603.3L1865.1 604.3L1866.2 606.7L1867.5 609.3L1867.8 612.4L1869.3 614.8L1869.7 616.3L1870.8 618.5L1871.4 620.0L1872.0 621.9L1872.9 624.2L1873.6 626.9L1874.1 628.7L1875.2 630.1L1875.7 631.8L1876.3 634.6L1877.4 636.1L1878.5 638.4L1879.7 641.6L1880.4 643.0L1881.3 645.3L1882.5 646.5L1883.0 647.8L1884.4 650.3L1886.1 652.2L1887.8 654.1L1890.2 653.6L1891.6 653.4L1892.8 652.7L1894.7 650.7L1896.3 649.5L1897.5 647.5L1898.8 644.6L1899.2 643.6L1900.1 641.9L1900.9 639.4L1901.5 637.7L1901.8 635.7L1903.0 632.4L1903.5 630.9L1904.4 627.9L1905.5 626.2L1906.1 624.1L1906.4 621.3L1907.3 620.2L1907.5 617.2L1907.9 615.1L1909.0 613.6L1909.4 611.4L1910.0 609.8L1910.6 607.9L1911.5 605.4L1912.1 602.8L1912.6 600.6L1913.4 598.5L1913.7 595.4L1914.7 593.7L1915.2 591.0L1916.2 589.0L1916.3 586.5L1916.8 585.5L1917.7 582.9L1918.1 580.2L1919.2 578.7L1919.3 577.2L1919.9 575.8L1920.8 574.0L1922.1 570.5L1922.6 568.6L1924.1 565.3L1924.6 563.6L1925.6 562.9L1926.8 560.9L1927.9 559.8L1929.8 556.8L1931.4 555.9L1932.8 556.7L1934.0 557.5L1935.7 558.9L1937.3 559.8L1938.7 562.0L1939.7 565.0L1940.7 566.4L1941.5 569.3L1941.7 571.3L1942.2 572.2L1942.8 574.3L1943.7 577.1L1944.3 579.8L1945.1 581.9L1945.7 584.5L1946.4 586.4L1947.1 588.5L1948.1 590.6L1948.2 592.8L1948.8 595.1L1949.4 597.0L1949.9 600.0L1950.6 601.3L1950.9 603.4L1952.0 605.6L1952.1 607.4L1952.6 610.5L1953.4 612.6L1954.2 615.1L1955.1 617.1L1955.3 619.0L1955.9 621.8L1956.7 624.5L1957.4 626.2L1958.4 628.6L1958.7 629.9L1959.1 632.3L1960.0 634.8L1960.2 635.9L1961.1 638.3L1961.6 639.8L1962.4 642.2L1962.7 643.5L1964.0 646.4L1964.8 648.9L1965.4 651.3L1966.3 653.5L1966.7 656.3L1967.5 657.9L1967.8 659.4L1968.6 662.2L1969.8 662.6L1971.5 665.5L1973.2 668.1L1974.5 668.5L1976.8 669.0L1977.8 668.4L1978.9 667.1L1980.8 665.5L1981.6 663.3L1983.2 660.2L1984.1 658.8L1984.5 657.2L1985.0 655.1L1985.4 654.0L1985.8 651.2L1986.7 650.0L1987.1 647.1L1987.7 645.4L1988.7 642.5L1988.6 640.3L1989.7 638.2L1990.0 636.3L1990.4 633.5L1991.4 631.1L1991.9 629.3L1992.2 627.7L1993.0 625.1L1993.6 622.6L1994.0 621.0L1994.1 618.5L1994.5 617.5L1995.6 615.1L1995.6 613.1L1996.6 610.9L1996.7 609.2L1997.3 605.9L1998.3 603.8L1999.1 601.1L1999.8 598.1L2000.3 596.2L2001.4 594.2L2001.9 591.2L2002.3 589.3L2002.8 588.3L2003.2 587.0" fill="none" stroke="#000" stroke-width="6.5" stroke-linejoin="round" stroke-linecap="butt"/>
</g>
<text transform="translate(1228.2 463.3) rotate(90)" font-size="34.6" fill="#858585" text-anchor="start">201.25</text>
<text x="1843.5" y="103" font-size="37" fill="#1010c0"><tspan font-style="italic">d</tspan>o*</text>
<text x="1913.5" y="543.5" font-size="37" fill="#1a1a1a"><tspan font-style="italic">y</tspan>o*</text>
<text x="1817" y="697" font-size="37" fill="#d01820"><tspan font-style="italic">x</tspan>o*</text>
</svg>
</body></html>
